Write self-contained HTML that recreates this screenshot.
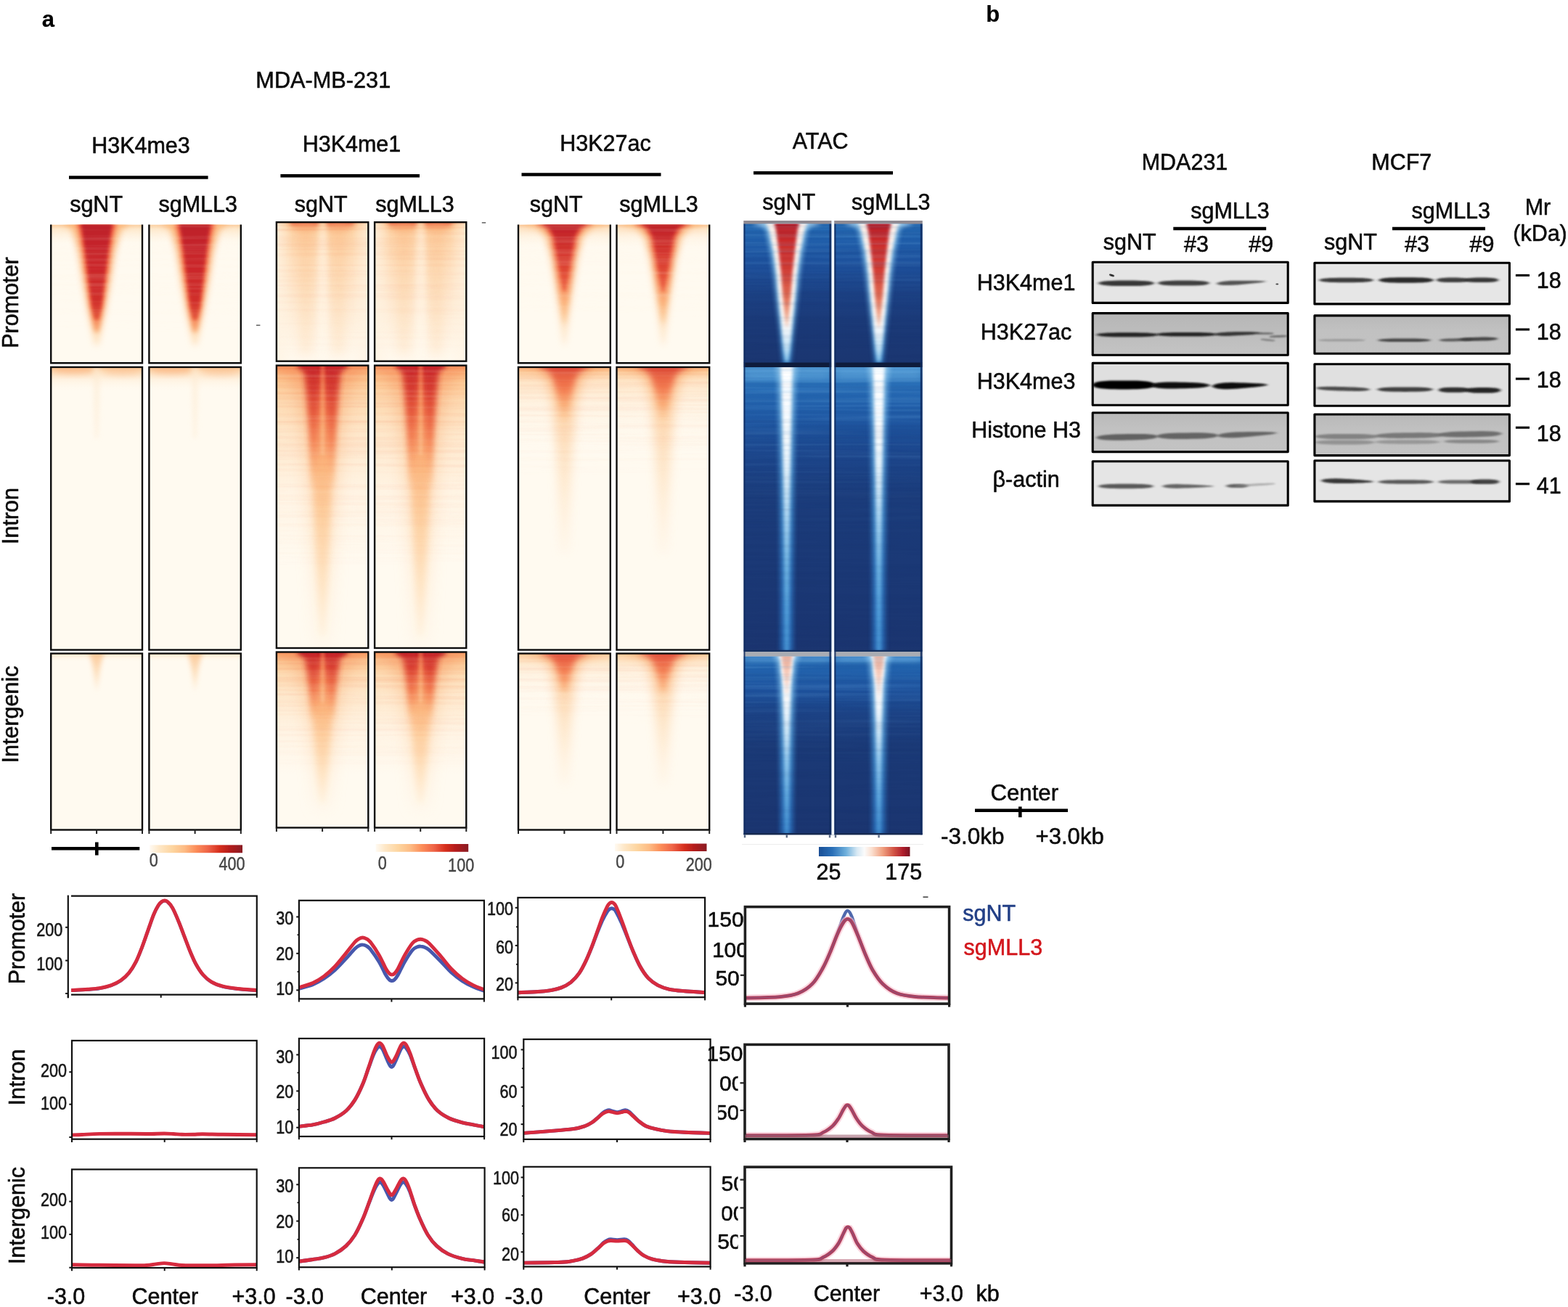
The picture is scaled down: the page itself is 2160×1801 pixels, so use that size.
<!DOCTYPE html>
<html lang="en"><head><meta charset="utf-8"><title>Figure</title>
<style>html,body{margin:0;padding:0;background:#fff}body{width:2160px;height:1801px;overflow:hidden;font-family:"Liberation Sans",sans-serif}svg{display:block;position:absolute;left:0;top:0}text{stroke:#0b0b0b;stroke-width:0.55px;stroke-linejoin:round}</style></head>
<body>
<svg width="2160" height="1801" viewBox="0 0 2160 1801" role="img" aria-label="Figure: heatmaps, average profiles and western blots" font-family="'Liberation Sans', sans-serif" fill="#0b0b0b" stroke="none"><defs><filter id="b1" x="-60%" y="-60%" width="220%" height="220%"><feGaussianBlur stdDeviation="1"/></filter><filter id="b2" x="-60%" y="-60%" width="220%" height="220%"><feGaussianBlur stdDeviation="2"/></filter><filter id="b3" x="-60%" y="-60%" width="220%" height="220%"><feGaussianBlur stdDeviation="3"/></filter><filter id="b4" x="-60%" y="-60%" width="220%" height="220%"><feGaussianBlur stdDeviation="4.5"/></filter><filter id="b6" x="-60%" y="-60%" width="220%" height="220%"><feGaussianBlur stdDeviation="7"/></filter><filter id="b10" x="-60%" y="-60%" width="220%" height="220%"><feGaussianBlur stdDeviation="11"/></filter><filter id="b16" x="-60%" y="-60%" width="220%" height="220%"><feGaussianBlur stdDeviation="16"/></filter><filter id="bh" x="-60%" y="-60%" width="220%" height="220%"><feGaussianBlur stdDeviation="7 2.5"/></filter><filter id="bv" x="-60%" y="-60%" width="220%" height="220%"><feGaussianBlur stdDeviation="3 9"/></filter><filter id="bv2" x="-60%" y="-60%" width="220%" height="220%"><feGaussianBlur stdDeviation="5 16"/></filter><filter id="bb" x="-10%" y="-80%" width="120%" height="260%"><feGaussianBlur stdDeviation="2.2 1.3"/></filter><filter id="bs" x="-10%" y="-80%" width="120%" height="260%"><feGaussianBlur stdDeviation="1.2 0.8"/></filter><filter id="soft" x="-5%" y="-5%" width="110%" height="110%"><feGaussianBlur stdDeviation="0.7"/></filter><filter id="soft2" x="-5%" y="-5%" width="110%" height="110%"><feGaussianBlur stdDeviation="1.1"/></filter><filter id="stO" x="0" y="0" width="100%" height="100%" color-interpolation-filters="sRGB"><feTurbulence type="fractalNoise" baseFrequency="0.003 0.2" numOctaves="2" seed="3"/><feColorMatrix type="matrix" values="0 0 0 0 0.93  0 0 0 0 0.38  0 0 0 0 0.22  2.2 0 0 0 -0.9"/></filter><filter id="stL" x="0" y="0" width="100%" height="100%" color-interpolation-filters="sRGB"><feTurbulence type="fractalNoise" baseFrequency="0.003 0.2" numOctaves="2" seed="8"/><feColorMatrix type="matrix" values="0 0 0 0 1.0  0 0 0 0 0.97  0 0 0 0 0.9  2.2 0 0 0 -0.9"/></filter><filter id="stB" x="0" y="0" width="100%" height="100%" color-interpolation-filters="sRGB"><feTurbulence type="fractalNoise" baseFrequency="0.003 0.18" numOctaves="2" seed="5"/><feColorMatrix type="matrix" values="0 0 0 0 0.55  0 0 0 0 0.8  0 0 0 0 0.97  2.4 0 0 0 -1.0"/></filter><filter id="stD" x="0" y="0" width="100%" height="100%" color-interpolation-filters="sRGB"><feTurbulence type="fractalNoise" baseFrequency="0.003 0.18" numOctaves="2" seed="12"/><feColorMatrix type="matrix" values="0 0 0 0 0.07  0 0 0 0 0.16  0 0 0 0 0.38  2.4 0 0 0 -1.0"/></filter><clipPath id="c1"><rect x="70.2" y="309.5" width="125.8" height="190.7"/></clipPath><linearGradient id="g2" gradientUnits="userSpaceOnUse" x1="0" y1="309.5" x2="0" y2="339.5"><stop offset="0" stop-color="#fbc48e" stop-opacity="0.9"/><stop offset="0.2" stop-color="#fddcb2" stop-opacity="0.6"/><stop offset="1" stop-color="#fffaf0" stop-opacity="0"/></linearGradient><linearGradient id="g3" gradientUnits="userSpaceOnUse" x1="0" y1="309.5" x2="0" y2="475.5"><stop offset="0" stop-color="#fbb273"/><stop offset="0.7" stop-color="#fdc994"/><stop offset="1" stop-color="#fee3c0"/></linearGradient><linearGradient id="g4" gradientUnits="userSpaceOnUse" x1="0" y1="309.5" x2="0" y2="457.5"><stop offset="0" stop-color="#ee583c"/><stop offset="0.75" stop-color="#f26a45"/><stop offset="1" stop-color="#f9a66e"/></linearGradient><linearGradient id="g5" gradientUnits="userSpaceOnUse" x1="0" y1="309.5" x2="0" y2="440.5"><stop offset="0" stop-color="#bd2029"/><stop offset="0.35" stop-color="#c9262a"/><stop offset="0.8" stop-color="#d02e2b"/><stop offset="1" stop-color="#e4573b"/></linearGradient><linearGradient id="g7" gradientUnits="userSpaceOnUse" x1="0" y1="309.5" x2="0" y2="459.5"><stop offset="0" stop-color="#fff" stop-opacity="0.5"/><stop offset="0.8" stop-color="#fff" stop-opacity="0.4"/><stop offset="1" stop-color="#fff" stop-opacity="0"/></linearGradient><mask id="m6" maskUnits="userSpaceOnUse" x="70.2" y="309.5" width="125.8" height="150"><rect x="70.2" y="309.5" width="125.8" height="150" fill="url(#g7)"/></mask><clipPath id="c8"><rect x="205.4" y="309.5" width="126.4" height="190.7"/></clipPath><linearGradient id="g9" gradientUnits="userSpaceOnUse" x1="0" y1="309.5" x2="0" y2="339.5"><stop offset="0" stop-color="#fbc48e" stop-opacity="0.9"/><stop offset="0.2" stop-color="#fddcb2" stop-opacity="0.6"/><stop offset="1" stop-color="#fffaf0" stop-opacity="0"/></linearGradient><linearGradient id="g10" gradientUnits="userSpaceOnUse" x1="0" y1="309.5" x2="0" y2="475.5"><stop offset="0" stop-color="#fbb273"/><stop offset="0.7" stop-color="#fdc994"/><stop offset="1" stop-color="#fee3c0"/></linearGradient><linearGradient id="g11" gradientUnits="userSpaceOnUse" x1="0" y1="309.5" x2="0" y2="457.5"><stop offset="0" stop-color="#ee583c"/><stop offset="0.75" stop-color="#f26a45"/><stop offset="1" stop-color="#f9a66e"/></linearGradient><linearGradient id="g12" gradientUnits="userSpaceOnUse" x1="0" y1="309.5" x2="0" y2="440.5"><stop offset="0" stop-color="#bd2029"/><stop offset="0.35" stop-color="#c9262a"/><stop offset="0.8" stop-color="#d02e2b"/><stop offset="1" stop-color="#e4573b"/></linearGradient><linearGradient id="g14" gradientUnits="userSpaceOnUse" x1="0" y1="309.5" x2="0" y2="459.5"><stop offset="0" stop-color="#fff" stop-opacity="0.5"/><stop offset="0.8" stop-color="#fff" stop-opacity="0.4"/><stop offset="1" stop-color="#fff" stop-opacity="0"/></linearGradient><mask id="m13" maskUnits="userSpaceOnUse" x="205.4" y="309.5" width="126.4" height="150"><rect x="205.4" y="309.5" width="126.4" height="150" fill="url(#g14)"/></mask><clipPath id="c15"><rect x="70.2" y="505.9" width="125.8" height="389.6"/></clipPath><linearGradient id="g16" gradientUnits="userSpaceOnUse" x1="0" y1="505.9" x2="0" y2="539.9"><stop offset="0" stop-color="#fbc28c" stop-opacity="0.95"/><stop offset="0.2" stop-color="#fdd9b0" stop-opacity="0.8"/><stop offset="0.5" stop-color="#feead0" stop-opacity="0.5"/><stop offset="1" stop-color="#fffaf0" stop-opacity="0"/></linearGradient><clipPath id="c17"><rect x="205.4" y="505.9" width="126.4" height="389.6"/></clipPath><linearGradient id="g18" gradientUnits="userSpaceOnUse" x1="0" y1="505.9" x2="0" y2="539.9"><stop offset="0" stop-color="#fbc28c" stop-opacity="0.95"/><stop offset="0.2" stop-color="#fdd9b0" stop-opacity="0.8"/><stop offset="0.5" stop-color="#feead0" stop-opacity="0.5"/><stop offset="1" stop-color="#fffaf0" stop-opacity="0"/></linearGradient><clipPath id="c19"><rect x="70.2" y="900.5" width="125.8" height="243"/></clipPath><linearGradient id="g20" gradientUnits="userSpaceOnUse" x1="0" y1="900.5" x2="0" y2="912.5"><stop offset="0" stop-color="#fde0bc" stop-opacity="0.8"/><stop offset="1" stop-color="#fffaf0" stop-opacity="0"/></linearGradient><linearGradient id="g21" gradientUnits="userSpaceOnUse" x1="0" y1="900.5" x2="0" y2="950.5"><stop offset="0" stop-color="#fbc08a"/><stop offset="0.5" stop-color="#fdd9b0"/><stop offset="1" stop-color="#ffefda"/></linearGradient><clipPath id="c22"><rect x="205.4" y="900.5" width="126.4" height="243"/></clipPath><linearGradient id="g23" gradientUnits="userSpaceOnUse" x1="0" y1="900.5" x2="0" y2="912.5"><stop offset="0" stop-color="#fde0bc" stop-opacity="0.8"/><stop offset="1" stop-color="#fffaf0" stop-opacity="0"/></linearGradient><linearGradient id="g24" gradientUnits="userSpaceOnUse" x1="0" y1="900.5" x2="0" y2="950.5"><stop offset="0" stop-color="#fbc08a"/><stop offset="0.5" stop-color="#fdd9b0"/><stop offset="1" stop-color="#ffefda"/></linearGradient><clipPath id="c25"><rect x="380.9" y="306.2" width="126.4" height="191.5"/></clipPath><linearGradient id="g26" gradientUnits="userSpaceOnUse" x1="0" y1="306.2" x2="0" y2="497.7"><stop offset="0" stop-color="#f9a66e"/><stop offset="0.025" stop-color="#fcc690"/><stop offset="0.08" stop-color="#fdd8ae"/><stop offset="0.3" stop-color="#fee2c2"/><stop offset="0.6" stop-color="#feecd6"/><stop offset="1" stop-color="#fff9ee"/></linearGradient><linearGradient id="g27" gradientUnits="userSpaceOnUse" x1="380.9" y1="0" x2="402.9" y2="0"><stop offset="0" stop-color="#fff4e4" stop-opacity="0.8"/><stop offset="1" stop-color="#fff4e4" stop-opacity="0"/></linearGradient><linearGradient id="g28" gradientUnits="userSpaceOnUse" x1="485.3" y1="0" x2="507.3" y2="0"><stop offset="0" stop-color="#fff4e4" stop-opacity="0"/><stop offset="1" stop-color="#fff4e4" stop-opacity="0.7"/></linearGradient><linearGradient id="g29" gradientUnits="userSpaceOnUse" x1="0" y1="318.2" x2="0" y2="488.2"><stop offset="0" stop-color="#fbb57b"/><stop offset="0.4" stop-color="#fcc995"/><stop offset="1" stop-color="#fee0bc"/></linearGradient><linearGradient id="g30" gradientUnits="userSpaceOnUse" x1="0" y1="318.2" x2="0" y2="488.2"><stop offset="0" stop-color="#fbb57b"/><stop offset="0.4" stop-color="#fcc995"/><stop offset="1" stop-color="#fee0bc"/></linearGradient><linearGradient id="g31" gradientUnits="userSpaceOnUse" x1="0" y1="306.2" x2="0" y2="497.7"><stop offset="0" stop-color="#fdd5a8"/><stop offset="0.1" stop-color="#fee9cf"/><stop offset="1" stop-color="#fff9ee"/></linearGradient><linearGradient id="g33" gradientUnits="userSpaceOnUse" x1="0" y1="306.2" x2="0" y2="497.7"><stop offset="0" stop-color="#fff" stop-opacity="0.5"/><stop offset="0.3" stop-color="#fff" stop-opacity="0.25"/><stop offset="1" stop-color="#fff" stop-opacity="0"/></linearGradient><mask id="m32" maskUnits="userSpaceOnUse" x="380.9" y="306.2" width="126.4" height="191.5"><rect x="380.9" y="306.2" width="126.4" height="191.5" fill="url(#g33)"/></mask><linearGradient id="g35" gradientUnits="userSpaceOnUse" x1="0" y1="306.2" x2="0" y2="497.7"><stop offset="0" stop-color="#fff" stop-opacity="0.3"/><stop offset="0.5" stop-color="#fff" stop-opacity="0.3"/><stop offset="1" stop-color="#fff" stop-opacity="0"/></linearGradient><mask id="m34" maskUnits="userSpaceOnUse" x="380.9" y="306.2" width="126.4" height="191.5"><rect x="380.9" y="306.2" width="126.4" height="191.5" fill="url(#g35)"/></mask><clipPath id="c36"><rect x="516.1" y="306.2" width="126.2" height="191.5"/></clipPath><linearGradient id="g37" gradientUnits="userSpaceOnUse" x1="0" y1="306.2" x2="0" y2="497.7"><stop offset="0" stop-color="#f9a66e"/><stop offset="0.025" stop-color="#fcc690"/><stop offset="0.08" stop-color="#fdd8ae"/><stop offset="0.3" stop-color="#fee2c2"/><stop offset="0.6" stop-color="#feecd6"/><stop offset="1" stop-color="#fff9ee"/></linearGradient><linearGradient id="g38" gradientUnits="userSpaceOnUse" x1="516.1" y1="0" x2="538.1" y2="0"><stop offset="0" stop-color="#fff4e4" stop-opacity="0.8"/><stop offset="1" stop-color="#fff4e4" stop-opacity="0"/></linearGradient><linearGradient id="g39" gradientUnits="userSpaceOnUse" x1="620.3" y1="0" x2="642.3" y2="0"><stop offset="0" stop-color="#fff4e4" stop-opacity="0"/><stop offset="1" stop-color="#fff4e4" stop-opacity="0.7"/></linearGradient><linearGradient id="g40" gradientUnits="userSpaceOnUse" x1="0" y1="318.2" x2="0" y2="488.2"><stop offset="0" stop-color="#fbb57b"/><stop offset="0.4" stop-color="#fcc995"/><stop offset="1" stop-color="#fee0bc"/></linearGradient><linearGradient id="g41" gradientUnits="userSpaceOnUse" x1="0" y1="318.2" x2="0" y2="488.2"><stop offset="0" stop-color="#fbb57b"/><stop offset="0.4" stop-color="#fcc995"/><stop offset="1" stop-color="#fee0bc"/></linearGradient><linearGradient id="g42" gradientUnits="userSpaceOnUse" x1="0" y1="306.2" x2="0" y2="497.7"><stop offset="0" stop-color="#fdd5a8"/><stop offset="0.1" stop-color="#fee9cf"/><stop offset="1" stop-color="#fff9ee"/></linearGradient><linearGradient id="g44" gradientUnits="userSpaceOnUse" x1="0" y1="306.2" x2="0" y2="497.7"><stop offset="0" stop-color="#fff" stop-opacity="0.5"/><stop offset="0.3" stop-color="#fff" stop-opacity="0.25"/><stop offset="1" stop-color="#fff" stop-opacity="0"/></linearGradient><mask id="m43" maskUnits="userSpaceOnUse" x="516.1" y="306.2" width="126.2" height="191.5"><rect x="516.1" y="306.2" width="126.2" height="191.5" fill="url(#g44)"/></mask><linearGradient id="g46" gradientUnits="userSpaceOnUse" x1="0" y1="306.2" x2="0" y2="497.7"><stop offset="0" stop-color="#fff" stop-opacity="0.3"/><stop offset="0.5" stop-color="#fff" stop-opacity="0.3"/><stop offset="1" stop-color="#fff" stop-opacity="0"/></linearGradient><mask id="m45" maskUnits="userSpaceOnUse" x="516.1" y="306.2" width="126.2" height="191.5"><rect x="516.1" y="306.2" width="126.2" height="191.5" fill="url(#g46)"/></mask><clipPath id="c47"><rect x="380.9" y="503.6" width="126.4" height="389.4"/></clipPath><linearGradient id="g48" gradientUnits="userSpaceOnUse" x1="0" y1="503.6" x2="0" y2="893"><stop offset="0" stop-color="#f68d5c"/><stop offset="0.015" stop-color="#faa96f"/><stop offset="0.05" stop-color="#fcc690"/><stop offset="0.13" stop-color="#fddab2"/><stop offset="0.25" stop-color="#fee8cc"/><stop offset="0.45" stop-color="#fff4e4"/><stop offset="0.7" stop-color="#fffaf0"/></linearGradient><linearGradient id="g49" gradientUnits="userSpaceOnUse" x1="0" y1="503.6" x2="0" y2="888.6"><stop offset="0" stop-color="#f47d51"/><stop offset="0.1" stop-color="#f89b63"/><stop offset="0.3" stop-color="#fbb980"/><stop offset="0.6" stop-color="#fdd5a8"/><stop offset="1" stop-color="#fff1dc"/></linearGradient><linearGradient id="g50" gradientUnits="userSpaceOnUse" x1="0" y1="503.6" x2="0" y2="875.6"><stop offset="0" stop-color="#d5362d"/><stop offset="0.05" stop-color="#e35238"/><stop offset="0.12" stop-color="#f06a46"/><stop offset="0.22" stop-color="#f68d5c"/><stop offset="0.36" stop-color="#fbb178"/><stop offset="0.55" stop-color="#fdcc9a"/><stop offset="0.78" stop-color="#fee0bc"/><stop offset="1" stop-color="#fff1dc"/></linearGradient><linearGradient id="g51" gradientUnits="userSpaceOnUse" x1="0" y1="503.6" x2="0" y2="668.6"><stop offset="0" stop-color="#c4232a"/><stop offset="0.2" stop-color="#d2332d"/><stop offset="0.42" stop-color="#e35238"/><stop offset="0.65" stop-color="#f27248"/><stop offset="0.85" stop-color="#f89b63"/><stop offset="1" stop-color="#fbb57b"/></linearGradient><linearGradient id="g52" gradientUnits="userSpaceOnUse" x1="0" y1="503.6" x2="0" y2="668.6"><stop offset="0" stop-color="#c4232a"/><stop offset="0.2" stop-color="#d2332d"/><stop offset="0.42" stop-color="#e35238"/><stop offset="0.65" stop-color="#f27248"/><stop offset="0.85" stop-color="#f89b63"/><stop offset="1" stop-color="#fbb57b"/></linearGradient><linearGradient id="g53" gradientUnits="userSpaceOnUse" x1="0" y1="503.6" x2="0" y2="623.6"><stop offset="0" stop-color="#f0694a"/><stop offset="0.3" stop-color="#f79661"/><stop offset="0.7" stop-color="#fbb980"/><stop offset="1" stop-color="#fdd0a0"/></linearGradient><linearGradient id="g55" gradientUnits="userSpaceOnUse" x1="0" y1="503.6" x2="0" y2="803.6"><stop offset="0" stop-color="#fff" stop-opacity="0.55"/><stop offset="0.4" stop-color="#fff" stop-opacity="0.35"/><stop offset="1" stop-color="#fff" stop-opacity="0"/></linearGradient><mask id="m54" maskUnits="userSpaceOnUse" x="380.9" y="503.6" width="126.4" height="300"><rect x="380.9" y="503.6" width="126.4" height="300" fill="url(#g55)"/></mask><linearGradient id="g57" gradientUnits="userSpaceOnUse" x1="0" y1="503.6" x2="0" y2="803.6"><stop offset="0" stop-color="#fff" stop-opacity="0.4"/><stop offset="0.6" stop-color="#fff" stop-opacity="0.3"/><stop offset="1" stop-color="#fff" stop-opacity="0"/></linearGradient><mask id="m56" maskUnits="userSpaceOnUse" x="380.9" y="503.6" width="126.4" height="300"><rect x="380.9" y="503.6" width="126.4" height="300" fill="url(#g57)"/></mask><clipPath id="c58"><rect x="516.1" y="503.6" width="126.2" height="389.4"/></clipPath><linearGradient id="g59" gradientUnits="userSpaceOnUse" x1="0" y1="503.6" x2="0" y2="893"><stop offset="0" stop-color="#f68d5c"/><stop offset="0.015" stop-color="#faa96f"/><stop offset="0.05" stop-color="#fcc690"/><stop offset="0.13" stop-color="#fddab2"/><stop offset="0.25" stop-color="#fee8cc"/><stop offset="0.45" stop-color="#fff4e4"/><stop offset="0.7" stop-color="#fffaf0"/></linearGradient><linearGradient id="g60" gradientUnits="userSpaceOnUse" x1="0" y1="503.6" x2="0" y2="888.6"><stop offset="0" stop-color="#f47d51"/><stop offset="0.1" stop-color="#f89b63"/><stop offset="0.3" stop-color="#fbb980"/><stop offset="0.6" stop-color="#fdd5a8"/><stop offset="1" stop-color="#fff1dc"/></linearGradient><linearGradient id="g61" gradientUnits="userSpaceOnUse" x1="0" y1="503.6" x2="0" y2="875.6"><stop offset="0" stop-color="#d5362d"/><stop offset="0.05" stop-color="#e35238"/><stop offset="0.12" stop-color="#f06a46"/><stop offset="0.22" stop-color="#f68d5c"/><stop offset="0.36" stop-color="#fbb178"/><stop offset="0.55" stop-color="#fdcc9a"/><stop offset="0.78" stop-color="#fee0bc"/><stop offset="1" stop-color="#fff1dc"/></linearGradient><linearGradient id="g62" gradientUnits="userSpaceOnUse" x1="0" y1="503.6" x2="0" y2="668.6"><stop offset="0" stop-color="#c4232a"/><stop offset="0.2" stop-color="#d2332d"/><stop offset="0.42" stop-color="#e35238"/><stop offset="0.65" stop-color="#f27248"/><stop offset="0.85" stop-color="#f89b63"/><stop offset="1" stop-color="#fbb57b"/></linearGradient><linearGradient id="g63" gradientUnits="userSpaceOnUse" x1="0" y1="503.6" x2="0" y2="668.6"><stop offset="0" stop-color="#c4232a"/><stop offset="0.2" stop-color="#d2332d"/><stop offset="0.42" stop-color="#e35238"/><stop offset="0.65" stop-color="#f27248"/><stop offset="0.85" stop-color="#f89b63"/><stop offset="1" stop-color="#fbb57b"/></linearGradient><linearGradient id="g64" gradientUnits="userSpaceOnUse" x1="0" y1="503.6" x2="0" y2="623.6"><stop offset="0" stop-color="#f0694a"/><stop offset="0.3" stop-color="#f79661"/><stop offset="0.7" stop-color="#fbb980"/><stop offset="1" stop-color="#fdd0a0"/></linearGradient><linearGradient id="g66" gradientUnits="userSpaceOnUse" x1="0" y1="503.6" x2="0" y2="803.6"><stop offset="0" stop-color="#fff" stop-opacity="0.55"/><stop offset="0.4" stop-color="#fff" stop-opacity="0.35"/><stop offset="1" stop-color="#fff" stop-opacity="0"/></linearGradient><mask id="m65" maskUnits="userSpaceOnUse" x="516.1" y="503.6" width="126.2" height="300"><rect x="516.1" y="503.6" width="126.2" height="300" fill="url(#g66)"/></mask><linearGradient id="g68" gradientUnits="userSpaceOnUse" x1="0" y1="503.6" x2="0" y2="803.6"><stop offset="0" stop-color="#fff" stop-opacity="0.4"/><stop offset="0.6" stop-color="#fff" stop-opacity="0.3"/><stop offset="1" stop-color="#fff" stop-opacity="0"/></linearGradient><mask id="m67" maskUnits="userSpaceOnUse" x="516.1" y="503.6" width="126.2" height="300"><rect x="516.1" y="503.6" width="126.2" height="300" fill="url(#g68)"/></mask><clipPath id="c69"><rect x="380.9" y="898.5" width="126.4" height="242"/></clipPath><linearGradient id="g70" gradientUnits="userSpaceOnUse" x1="0" y1="898.5" x2="0" y2="1140.5"><stop offset="0" stop-color="#f68d5c"/><stop offset="0.015" stop-color="#faa96f"/><stop offset="0.05" stop-color="#fcc690"/><stop offset="0.13" stop-color="#fddab2"/><stop offset="0.25" stop-color="#fee8cc"/><stop offset="0.45" stop-color="#fff4e4"/><stop offset="0.7" stop-color="#fffaf0"/></linearGradient><linearGradient id="g71" gradientUnits="userSpaceOnUse" x1="0" y1="898.5" x2="0" y2="1114.1"><stop offset="0" stop-color="#f47d51"/><stop offset="0.1" stop-color="#f89b63"/><stop offset="0.3" stop-color="#fbb980"/><stop offset="0.6" stop-color="#fdd5a8"/><stop offset="1" stop-color="#fff1dc"/></linearGradient><linearGradient id="g72" gradientUnits="userSpaceOnUse" x1="0" y1="898.5" x2="0" y2="1106.8"><stop offset="0" stop-color="#d5362d"/><stop offset="0.05" stop-color="#e35238"/><stop offset="0.12" stop-color="#f06a46"/><stop offset="0.22" stop-color="#f68d5c"/><stop offset="0.36" stop-color="#fbb178"/><stop offset="0.55" stop-color="#fdcc9a"/><stop offset="0.78" stop-color="#fee0bc"/><stop offset="1" stop-color="#fff1dc"/></linearGradient><linearGradient id="g73" gradientUnits="userSpaceOnUse" x1="0" y1="898.5" x2="0" y2="990.9"><stop offset="0" stop-color="#c4232a"/><stop offset="0.2" stop-color="#d2332d"/><stop offset="0.42" stop-color="#e35238"/><stop offset="0.65" stop-color="#f27248"/><stop offset="0.85" stop-color="#f89b63"/><stop offset="1" stop-color="#fbb57b"/></linearGradient><linearGradient id="g74" gradientUnits="userSpaceOnUse" x1="0" y1="898.5" x2="0" y2="990.9"><stop offset="0" stop-color="#c4232a"/><stop offset="0.2" stop-color="#d2332d"/><stop offset="0.42" stop-color="#e35238"/><stop offset="0.65" stop-color="#f27248"/><stop offset="0.85" stop-color="#f89b63"/><stop offset="1" stop-color="#fbb57b"/></linearGradient><linearGradient id="g75" gradientUnits="userSpaceOnUse" x1="0" y1="898.5" x2="0" y2="965.7"><stop offset="0" stop-color="#f0694a"/><stop offset="0.3" stop-color="#f79661"/><stop offset="0.7" stop-color="#fbb980"/><stop offset="1" stop-color="#fdd0a0"/></linearGradient><linearGradient id="g77" gradientUnits="userSpaceOnUse" x1="0" y1="898.5" x2="0" y2="1066.5"><stop offset="0" stop-color="#fff" stop-opacity="0.55"/><stop offset="0.4" stop-color="#fff" stop-opacity="0.35"/><stop offset="1" stop-color="#fff" stop-opacity="0"/></linearGradient><mask id="m76" maskUnits="userSpaceOnUse" x="380.9" y="898.5" width="126.4" height="168"><rect x="380.9" y="898.5" width="126.4" height="168" fill="url(#g77)"/></mask><linearGradient id="g79" gradientUnits="userSpaceOnUse" x1="0" y1="898.5" x2="0" y2="1066.5"><stop offset="0" stop-color="#fff" stop-opacity="0.4"/><stop offset="0.6" stop-color="#fff" stop-opacity="0.3"/><stop offset="1" stop-color="#fff" stop-opacity="0"/></linearGradient><mask id="m78" maskUnits="userSpaceOnUse" x="380.9" y="898.5" width="126.4" height="168"><rect x="380.9" y="898.5" width="126.4" height="168" fill="url(#g79)"/></mask><clipPath id="c80"><rect x="516.1" y="898.5" width="126.2" height="242"/></clipPath><linearGradient id="g81" gradientUnits="userSpaceOnUse" x1="0" y1="898.5" x2="0" y2="1140.5"><stop offset="0" stop-color="#f68d5c"/><stop offset="0.015" stop-color="#faa96f"/><stop offset="0.05" stop-color="#fcc690"/><stop offset="0.13" stop-color="#fddab2"/><stop offset="0.25" stop-color="#fee8cc"/><stop offset="0.45" stop-color="#fff4e4"/><stop offset="0.7" stop-color="#fffaf0"/></linearGradient><linearGradient id="g82" gradientUnits="userSpaceOnUse" x1="0" y1="898.5" x2="0" y2="1114.1"><stop offset="0" stop-color="#f47d51"/><stop offset="0.1" stop-color="#f89b63"/><stop offset="0.3" stop-color="#fbb980"/><stop offset="0.6" stop-color="#fdd5a8"/><stop offset="1" stop-color="#fff1dc"/></linearGradient><linearGradient id="g83" gradientUnits="userSpaceOnUse" x1="0" y1="898.5" x2="0" y2="1106.8"><stop offset="0" stop-color="#d5362d"/><stop offset="0.05" stop-color="#e35238"/><stop offset="0.12" stop-color="#f06a46"/><stop offset="0.22" stop-color="#f68d5c"/><stop offset="0.36" stop-color="#fbb178"/><stop offset="0.55" stop-color="#fdcc9a"/><stop offset="0.78" stop-color="#fee0bc"/><stop offset="1" stop-color="#fff1dc"/></linearGradient><linearGradient id="g84" gradientUnits="userSpaceOnUse" x1="0" y1="898.5" x2="0" y2="990.9"><stop offset="0" stop-color="#c4232a"/><stop offset="0.2" stop-color="#d2332d"/><stop offset="0.42" stop-color="#e35238"/><stop offset="0.65" stop-color="#f27248"/><stop offset="0.85" stop-color="#f89b63"/><stop offset="1" stop-color="#fbb57b"/></linearGradient><linearGradient id="g85" gradientUnits="userSpaceOnUse" x1="0" y1="898.5" x2="0" y2="990.9"><stop offset="0" stop-color="#c4232a"/><stop offset="0.2" stop-color="#d2332d"/><stop offset="0.42" stop-color="#e35238"/><stop offset="0.65" stop-color="#f27248"/><stop offset="0.85" stop-color="#f89b63"/><stop offset="1" stop-color="#fbb57b"/></linearGradient><linearGradient id="g86" gradientUnits="userSpaceOnUse" x1="0" y1="898.5" x2="0" y2="965.7"><stop offset="0" stop-color="#f0694a"/><stop offset="0.3" stop-color="#f79661"/><stop offset="0.7" stop-color="#fbb980"/><stop offset="1" stop-color="#fdd0a0"/></linearGradient><linearGradient id="g88" gradientUnits="userSpaceOnUse" x1="0" y1="898.5" x2="0" y2="1066.5"><stop offset="0" stop-color="#fff" stop-opacity="0.55"/><stop offset="0.4" stop-color="#fff" stop-opacity="0.35"/><stop offset="1" stop-color="#fff" stop-opacity="0"/></linearGradient><mask id="m87" maskUnits="userSpaceOnUse" x="516.1" y="898.5" width="126.2" height="168"><rect x="516.1" y="898.5" width="126.2" height="168" fill="url(#g88)"/></mask><linearGradient id="g90" gradientUnits="userSpaceOnUse" x1="0" y1="898.5" x2="0" y2="1066.5"><stop offset="0" stop-color="#fff" stop-opacity="0.4"/><stop offset="0.6" stop-color="#fff" stop-opacity="0.3"/><stop offset="1" stop-color="#fff" stop-opacity="0"/></linearGradient><mask id="m89" maskUnits="userSpaceOnUse" x="516.1" y="898.5" width="126.2" height="168"><rect x="516.1" y="898.5" width="126.2" height="168" fill="url(#g90)"/></mask><clipPath id="c91"><rect x="714" y="309.5" width="126.8" height="190.7"/></clipPath><linearGradient id="g92" gradientUnits="userSpaceOnUse" x1="0" y1="309.5" x2="0" y2="343.5"><stop offset="0" stop-color="#fbbd85" stop-opacity="0.95"/><stop offset="0.15" stop-color="#fdd9b0" stop-opacity="0.75"/><stop offset="0.5" stop-color="#feecd4" stop-opacity="0.45"/><stop offset="1" stop-color="#fffaf0" stop-opacity="0"/></linearGradient><linearGradient id="g93" gradientUnits="userSpaceOnUse" x1="0" y1="309.5" x2="0" y2="474.5"><stop offset="0" stop-color="#fbb273"/><stop offset="0.5" stop-color="#fccc9a"/><stop offset="1" stop-color="#feead0"/></linearGradient><linearGradient id="g94" gradientUnits="userSpaceOnUse" x1="0" y1="309.5" x2="0" y2="445.5"><stop offset="0" stop-color="#e24a36"/><stop offset="0.25" stop-color="#ec6043"/><stop offset="0.55" stop-color="#f58358"/><stop offset="0.8" stop-color="#fbb178"/><stop offset="1" stop-color="#fdd3a5"/></linearGradient><linearGradient id="g95" gradientUnits="userSpaceOnUse" x1="0" y1="309.5" x2="0" y2="401.5"><stop offset="0" stop-color="#bb1f28"/><stop offset="0.25" stop-color="#cb2a2b"/><stop offset="0.65" stop-color="#dc4232"/><stop offset="1" stop-color="#ee6545"/></linearGradient><linearGradient id="g97" gradientUnits="userSpaceOnUse" x1="0" y1="309.5" x2="0" y2="439.5"><stop offset="0" stop-color="#fff" stop-opacity="0.5"/><stop offset="0.8" stop-color="#fff" stop-opacity="0.4"/><stop offset="1" stop-color="#fff" stop-opacity="0"/></linearGradient><mask id="m96" maskUnits="userSpaceOnUse" x="714" y="309.5" width="126.8" height="130"><rect x="714" y="309.5" width="126.8" height="130" fill="url(#g97)"/></mask><clipPath id="c98"><rect x="849.5" y="309.5" width="127.7" height="190.7"/></clipPath><linearGradient id="g99" gradientUnits="userSpaceOnUse" x1="0" y1="309.5" x2="0" y2="343.5"><stop offset="0" stop-color="#fbbd85" stop-opacity="0.95"/><stop offset="0.15" stop-color="#fdd9b0" stop-opacity="0.75"/><stop offset="0.5" stop-color="#feecd4" stop-opacity="0.45"/><stop offset="1" stop-color="#fffaf0" stop-opacity="0"/></linearGradient><linearGradient id="g100" gradientUnits="userSpaceOnUse" x1="0" y1="309.5" x2="0" y2="474.5"><stop offset="0" stop-color="#fbb273"/><stop offset="0.5" stop-color="#fccc9a"/><stop offset="1" stop-color="#feead0"/></linearGradient><linearGradient id="g101" gradientUnits="userSpaceOnUse" x1="0" y1="309.5" x2="0" y2="445.5"><stop offset="0" stop-color="#e24a36"/><stop offset="0.25" stop-color="#ec6043"/><stop offset="0.55" stop-color="#f58358"/><stop offset="0.8" stop-color="#fbb178"/><stop offset="1" stop-color="#fdd3a5"/></linearGradient><linearGradient id="g102" gradientUnits="userSpaceOnUse" x1="0" y1="309.5" x2="0" y2="401.5"><stop offset="0" stop-color="#bb1f28"/><stop offset="0.25" stop-color="#cb2a2b"/><stop offset="0.65" stop-color="#dc4232"/><stop offset="1" stop-color="#ee6545"/></linearGradient><linearGradient id="g104" gradientUnits="userSpaceOnUse" x1="0" y1="309.5" x2="0" y2="439.5"><stop offset="0" stop-color="#fff" stop-opacity="0.5"/><stop offset="0.8" stop-color="#fff" stop-opacity="0.4"/><stop offset="1" stop-color="#fff" stop-opacity="0"/></linearGradient><mask id="m103" maskUnits="userSpaceOnUse" x="849.5" y="309.5" width="127.7" height="130"><rect x="849.5" y="309.5" width="127.7" height="130" fill="url(#g104)"/></mask><clipPath id="c105"><rect x="714" y="505.9" width="126.8" height="389.6"/></clipPath><linearGradient id="g106" gradientUnits="userSpaceOnUse" x1="0" y1="505.9" x2="0" y2="625.9"><stop offset="0" stop-color="#f9a66e"/><stop offset="0.04" stop-color="#fcc690" stop-opacity="0.95"/><stop offset="0.16" stop-color="#fee0bc" stop-opacity="0.8"/><stop offset="0.45" stop-color="#feeed8" stop-opacity="0.55"/><stop offset="1" stop-color="#fffaf0" stop-opacity="0"/></linearGradient><linearGradient id="g107" gradientUnits="userSpaceOnUse" x1="0" y1="505.9" x2="0" y2="760.9"><stop offset="0" stop-color="#f9a66e"/><stop offset="0.15" stop-color="#fcc28c"/><stop offset="0.5" stop-color="#fddcb6"/><stop offset="1" stop-color="#fff2e0"/></linearGradient><linearGradient id="g108" gradientUnits="userSpaceOnUse" x1="0" y1="505.9" x2="0" y2="577.9"><stop offset="0" stop-color="#d2302c"/><stop offset="0.12" stop-color="#e4553b"/><stop offset="0.4" stop-color="#f27248"/><stop offset="0.7" stop-color="#f9a66e"/><stop offset="1" stop-color="#fdcf9f"/></linearGradient><linearGradient id="g110" gradientUnits="userSpaceOnUse" x1="0" y1="505.9" x2="0" y2="665.9"><stop offset="0" stop-color="#fff" stop-opacity="0.5"/><stop offset="0.4" stop-color="#fff" stop-opacity="0.3"/><stop offset="1" stop-color="#fff" stop-opacity="0"/></linearGradient><mask id="m109" maskUnits="userSpaceOnUse" x="714" y="505.9" width="126.8" height="160"><rect x="714" y="505.9" width="126.8" height="160" fill="url(#g110)"/></mask><linearGradient id="g112" gradientUnits="userSpaceOnUse" x1="0" y1="505.9" x2="0" y2="665.9"><stop offset="0" stop-color="#fff" stop-opacity="0.4"/><stop offset="0.6" stop-color="#fff" stop-opacity="0.3"/><stop offset="1" stop-color="#fff" stop-opacity="0"/></linearGradient><mask id="m111" maskUnits="userSpaceOnUse" x="714" y="505.9" width="126.8" height="160"><rect x="714" y="505.9" width="126.8" height="160" fill="url(#g112)"/></mask><clipPath id="c113"><rect x="849.5" y="505.9" width="127.7" height="389.6"/></clipPath><linearGradient id="g114" gradientUnits="userSpaceOnUse" x1="0" y1="505.9" x2="0" y2="625.9"><stop offset="0" stop-color="#f9a66e"/><stop offset="0.04" stop-color="#fcc690" stop-opacity="0.95"/><stop offset="0.16" stop-color="#fee0bc" stop-opacity="0.8"/><stop offset="0.45" stop-color="#feeed8" stop-opacity="0.55"/><stop offset="1" stop-color="#fffaf0" stop-opacity="0"/></linearGradient><linearGradient id="g115" gradientUnits="userSpaceOnUse" x1="0" y1="505.9" x2="0" y2="760.9"><stop offset="0" stop-color="#f9a66e"/><stop offset="0.15" stop-color="#fcc28c"/><stop offset="0.5" stop-color="#fddcb6"/><stop offset="1" stop-color="#fff2e0"/></linearGradient><linearGradient id="g116" gradientUnits="userSpaceOnUse" x1="0" y1="505.9" x2="0" y2="577.9"><stop offset="0" stop-color="#d2302c"/><stop offset="0.12" stop-color="#e4553b"/><stop offset="0.4" stop-color="#f27248"/><stop offset="0.7" stop-color="#f9a66e"/><stop offset="1" stop-color="#fdcf9f"/></linearGradient><linearGradient id="g118" gradientUnits="userSpaceOnUse" x1="0" y1="505.9" x2="0" y2="665.9"><stop offset="0" stop-color="#fff" stop-opacity="0.5"/><stop offset="0.4" stop-color="#fff" stop-opacity="0.3"/><stop offset="1" stop-color="#fff" stop-opacity="0"/></linearGradient><mask id="m117" maskUnits="userSpaceOnUse" x="849.5" y="505.9" width="127.7" height="160"><rect x="849.5" y="505.9" width="127.7" height="160" fill="url(#g118)"/></mask><linearGradient id="g120" gradientUnits="userSpaceOnUse" x1="0" y1="505.9" x2="0" y2="665.9"><stop offset="0" stop-color="#fff" stop-opacity="0.4"/><stop offset="0.6" stop-color="#fff" stop-opacity="0.3"/><stop offset="1" stop-color="#fff" stop-opacity="0"/></linearGradient><mask id="m119" maskUnits="userSpaceOnUse" x="849.5" y="505.9" width="127.7" height="160"><rect x="849.5" y="505.9" width="127.7" height="160" fill="url(#g120)"/></mask><clipPath id="c121"><rect x="714" y="900.5" width="126.8" height="243"/></clipPath><linearGradient id="g122" gradientUnits="userSpaceOnUse" x1="0" y1="900.5" x2="0" y2="970.5"><stop offset="0" stop-color="#fbb980"/><stop offset="0.06" stop-color="#fdd5a8" stop-opacity="0.9"/><stop offset="0.28" stop-color="#feeacf" stop-opacity="0.65"/><stop offset="1" stop-color="#fffaf0" stop-opacity="0"/></linearGradient><linearGradient id="g123" gradientUnits="userSpaceOnUse" x1="0" y1="900.5" x2="0" y2="1080.5"><stop offset="0" stop-color="#f9a66e"/><stop offset="0.15" stop-color="#fcc28c"/><stop offset="0.5" stop-color="#fddcb6"/><stop offset="1" stop-color="#fff2e0"/></linearGradient><linearGradient id="g124" gradientUnits="userSpaceOnUse" x1="0" y1="900.5" x2="0" y2="952.5"><stop offset="0" stop-color="#d93a2f"/><stop offset="0.18" stop-color="#e85c3f"/><stop offset="0.5" stop-color="#f47d51"/><stop offset="1" stop-color="#fbb980"/></linearGradient><linearGradient id="g126" gradientUnits="userSpaceOnUse" x1="0" y1="900.5" x2="0" y2="1000.5"><stop offset="0" stop-color="#fff" stop-opacity="0.5"/><stop offset="0.4" stop-color="#fff" stop-opacity="0.3"/><stop offset="1" stop-color="#fff" stop-opacity="0"/></linearGradient><mask id="m125" maskUnits="userSpaceOnUse" x="714" y="900.5" width="126.8" height="100"><rect x="714" y="900.5" width="126.8" height="100" fill="url(#g126)"/></mask><linearGradient id="g128" gradientUnits="userSpaceOnUse" x1="0" y1="900.5" x2="0" y2="1000.5"><stop offset="0" stop-color="#fff" stop-opacity="0.4"/><stop offset="0.6" stop-color="#fff" stop-opacity="0.3"/><stop offset="1" stop-color="#fff" stop-opacity="0"/></linearGradient><mask id="m127" maskUnits="userSpaceOnUse" x="714" y="900.5" width="126.8" height="100"><rect x="714" y="900.5" width="126.8" height="100" fill="url(#g128)"/></mask><clipPath id="c129"><rect x="849.5" y="900.5" width="127.7" height="243"/></clipPath><linearGradient id="g130" gradientUnits="userSpaceOnUse" x1="0" y1="900.5" x2="0" y2="970.5"><stop offset="0" stop-color="#fbb980"/><stop offset="0.06" stop-color="#fdd5a8" stop-opacity="0.9"/><stop offset="0.28" stop-color="#feeacf" stop-opacity="0.65"/><stop offset="1" stop-color="#fffaf0" stop-opacity="0"/></linearGradient><linearGradient id="g131" gradientUnits="userSpaceOnUse" x1="0" y1="900.5" x2="0" y2="1080.5"><stop offset="0" stop-color="#f9a66e"/><stop offset="0.15" stop-color="#fcc28c"/><stop offset="0.5" stop-color="#fddcb6"/><stop offset="1" stop-color="#fff2e0"/></linearGradient><linearGradient id="g132" gradientUnits="userSpaceOnUse" x1="0" y1="900.5" x2="0" y2="952.5"><stop offset="0" stop-color="#d93a2f"/><stop offset="0.18" stop-color="#e85c3f"/><stop offset="0.5" stop-color="#f47d51"/><stop offset="1" stop-color="#fbb980"/></linearGradient><linearGradient id="g134" gradientUnits="userSpaceOnUse" x1="0" y1="900.5" x2="0" y2="1000.5"><stop offset="0" stop-color="#fff" stop-opacity="0.5"/><stop offset="0.4" stop-color="#fff" stop-opacity="0.3"/><stop offset="1" stop-color="#fff" stop-opacity="0"/></linearGradient><mask id="m133" maskUnits="userSpaceOnUse" x="849.5" y="900.5" width="127.7" height="100"><rect x="849.5" y="900.5" width="127.7" height="100" fill="url(#g134)"/></mask><linearGradient id="g136" gradientUnits="userSpaceOnUse" x1="0" y1="900.5" x2="0" y2="1000.5"><stop offset="0" stop-color="#fff" stop-opacity="0.4"/><stop offset="0.6" stop-color="#fff" stop-opacity="0.3"/><stop offset="1" stop-color="#fff" stop-opacity="0"/></linearGradient><mask id="m135" maskUnits="userSpaceOnUse" x="849.5" y="900.5" width="127.7" height="100"><rect x="849.5" y="900.5" width="127.7" height="100" fill="url(#g136)"/></mask><linearGradient id="g137" x1="0" y1="0" x2="1" y2="0"><stop offset="0" stop-color="#fffaf2" stop-opacity="1"/><stop offset="0.1" stop-color="#fee8c8" stop-opacity="1"/><stop offset="0.25" stop-color="#fdd49e" stop-opacity="1"/><stop offset="0.375" stop-color="#fdbb84" stop-opacity="1"/><stop offset="0.5" stop-color="#fc8d59" stop-opacity="1"/><stop offset="0.625" stop-color="#ef6548" stop-opacity="1"/><stop offset="0.75" stop-color="#d7301f" stop-opacity="1"/><stop offset="0.875" stop-color="#b01a1e" stop-opacity="1"/><stop offset="1" stop-color="#8a1a22" stop-opacity="1"/></linearGradient><clipPath id="c138"><rect x="1024.3" y="304" width="246.5" height="846.5"/></clipPath><linearGradient id="g139" gradientUnits="userSpaceOnUse" x1="0" y1="308.6" x2="0" y2="500"><stop offset="0" stop-color="#2468b1"/><stop offset="0.12" stop-color="#1f5da9"/><stop offset="0.3" stop-color="#1d4f9a"/><stop offset="0.5" stop-color="#1c4184"/><stop offset="0.7" stop-color="#1b3a78"/><stop offset="1" stop-color="#1b3671"/></linearGradient><clipPath id="c140"><rect x="1024.3" y="308.6" width="246.5" height="191.4"/></clipPath><linearGradient id="g141" gradientUnits="userSpaceOnUse" x1="0" y1="308.6" x2="0" y2="504.6"><stop offset="0" stop-color="#8cc4ea"/><stop offset="0.6" stop-color="#6fb1e0"/><stop offset="0.85" stop-color="#4a96d4"/><stop offset="1" stop-color="#2f78bf"/></linearGradient><linearGradient id="g142" gradientUnits="userSpaceOnUse" x1="0" y1="308.6" x2="0" y2="498.6"><stop offset="0" stop-color="#fdf1ea"/><stop offset="0.6" stop-color="#fbf6f3"/><stop offset="0.78" stop-color="#eef5fa"/><stop offset="0.9" stop-color="#bfe0f5"/><stop offset="1" stop-color="#7dbde8"/></linearGradient><linearGradient id="g143" gradientUnits="userSpaceOnUse" x1="0" y1="308.6" x2="0" y2="450.6"><stop offset="0" stop-color="#b31f29"/><stop offset="0.1" stop-color="#c8292b"/><stop offset="0.45" stop-color="#d23c34"/><stop offset="0.7" stop-color="#e06a52"/><stop offset="0.88" stop-color="#f0a88e"/><stop offset="1" stop-color="#fbe0d4"/></linearGradient><linearGradient id="g144" gradientUnits="userSpaceOnUse" x1="0" y1="308.6" x2="0" y2="504.6"><stop offset="0" stop-color="#8cc4ea"/><stop offset="0.6" stop-color="#6fb1e0"/><stop offset="0.85" stop-color="#4a96d4"/><stop offset="1" stop-color="#2f78bf"/></linearGradient><linearGradient id="g145" gradientUnits="userSpaceOnUse" x1="0" y1="308.6" x2="0" y2="498.6"><stop offset="0" stop-color="#fdf1ea"/><stop offset="0.6" stop-color="#fbf6f3"/><stop offset="0.78" stop-color="#eef5fa"/><stop offset="0.9" stop-color="#bfe0f5"/><stop offset="1" stop-color="#7dbde8"/></linearGradient><linearGradient id="g146" gradientUnits="userSpaceOnUse" x1="0" y1="308.6" x2="0" y2="450.6"><stop offset="0" stop-color="#b31f29"/><stop offset="0.1" stop-color="#c8292b"/><stop offset="0.45" stop-color="#d23c34"/><stop offset="0.7" stop-color="#e06a52"/><stop offset="0.88" stop-color="#f0a88e"/><stop offset="1" stop-color="#fbe0d4"/></linearGradient><linearGradient id="g148" gradientUnits="userSpaceOnUse" x1="0" y1="308.6" x2="0" y2="423.4"><stop offset="0" stop-color="#fff" stop-opacity="0.7"/><stop offset="0.35" stop-color="#fff" stop-opacity="0.45"/><stop offset="1" stop-color="#fff" stop-opacity="0"/></linearGradient><mask id="m147" maskUnits="userSpaceOnUse" x="1024.3" y="308.6" width="246.5" height="114.8"><rect x="1024.3" y="308.6" width="246.5" height="114.8" fill="url(#g148)"/></mask><linearGradient id="g150" gradientUnits="userSpaceOnUse" x1="0" y1="308.6" x2="0" y2="500"><stop offset="0" stop-color="#fff" stop-opacity="0.3"/><stop offset="0.5" stop-color="#fff" stop-opacity="0.3"/><stop offset="1" stop-color="#fff" stop-opacity="0.2"/></linearGradient><mask id="m149" maskUnits="userSpaceOnUse" x="1024.3" y="308.6" width="246.5" height="191.4"><rect x="1024.3" y="308.6" width="246.5" height="191.4" fill="url(#g150)"/></mask><linearGradient id="g151" gradientUnits="userSpaceOnUse" x1="0" y1="505.8" x2="0" y2="896.6"><stop offset="0" stop-color="#3f8bcc"/><stop offset="0.03" stop-color="#2f79bf"/><stop offset="0.08" stop-color="#2569b3"/><stop offset="0.18" stop-color="#1f58a3"/><stop offset="0.3" stop-color="#1c468c"/><stop offset="0.45" stop-color="#1b3c7b"/><stop offset="1" stop-color="#1b3570"/></linearGradient><clipPath id="c152"><rect x="1024.3" y="505.8" width="246.5" height="390.8"/></clipPath><linearGradient id="g153" gradientUnits="userSpaceOnUse" x1="0" y1="505.8" x2="0" y2="897.8"><stop offset="0" stop-color="#8cc4ea"/><stop offset="0.25" stop-color="#5fa6dc"/><stop offset="0.5" stop-color="#428fd0"/><stop offset="0.75" stop-color="#3078c2"/><stop offset="1" stop-color="#2a6ebb"/></linearGradient><linearGradient id="g154" gradientUnits="userSpaceOnUse" x1="0" y1="505.8" x2="0" y2="897.8"><stop offset="0" stop-color="#ffffff"/><stop offset="0.26" stop-color="#f4f9fd"/><stop offset="0.4" stop-color="#d6ebf8"/><stop offset="0.54" stop-color="#a3d1f0"/><stop offset="0.7" stop-color="#6fb3e2"/><stop offset="0.85" stop-color="#529fda"/><stop offset="1" stop-color="#4592d2"/></linearGradient><linearGradient id="g155" gradientUnits="userSpaceOnUse" x1="0" y1="505.8" x2="0" y2="897.8"><stop offset="0" stop-color="#8cc4ea"/><stop offset="0.25" stop-color="#5fa6dc"/><stop offset="0.5" stop-color="#428fd0"/><stop offset="0.75" stop-color="#3078c2"/><stop offset="1" stop-color="#2a6ebb"/></linearGradient><linearGradient id="g156" gradientUnits="userSpaceOnUse" x1="0" y1="505.8" x2="0" y2="897.8"><stop offset="0" stop-color="#ffffff"/><stop offset="0.26" stop-color="#f4f9fd"/><stop offset="0.4" stop-color="#d6ebf8"/><stop offset="0.54" stop-color="#a3d1f0"/><stop offset="0.7" stop-color="#6fb3e2"/><stop offset="0.85" stop-color="#529fda"/><stop offset="1" stop-color="#4592d2"/></linearGradient><linearGradient id="g158" gradientUnits="userSpaceOnUse" x1="0" y1="505.8" x2="0" y2="740.3"><stop offset="0" stop-color="#fff" stop-opacity="0.7"/><stop offset="0.35" stop-color="#fff" stop-opacity="0.45"/><stop offset="1" stop-color="#fff" stop-opacity="0"/></linearGradient><mask id="m157" maskUnits="userSpaceOnUse" x="1024.3" y="505.8" width="246.5" height="234.5"><rect x="1024.3" y="505.8" width="246.5" height="234.5" fill="url(#g158)"/></mask><linearGradient id="g160" gradientUnits="userSpaceOnUse" x1="0" y1="505.8" x2="0" y2="896.6"><stop offset="0" stop-color="#fff" stop-opacity="0.3"/><stop offset="0.5" stop-color="#fff" stop-opacity="0.3"/><stop offset="1" stop-color="#fff" stop-opacity="0.2"/></linearGradient><mask id="m159" maskUnits="userSpaceOnUse" x="1024.3" y="505.8" width="246.5" height="390.8"><rect x="1024.3" y="505.8" width="246.5" height="390.8" fill="url(#g160)"/></mask><linearGradient id="g161" gradientUnits="userSpaceOnUse" x1="0" y1="904.3" x2="0" y2="1150.3"><stop offset="0" stop-color="#2b73bb"/><stop offset="0.06" stop-color="#2264ae"/><stop offset="0.18" stop-color="#1e539e"/><stop offset="0.32" stop-color="#1c4285"/><stop offset="0.5" stop-color="#1b3a77"/><stop offset="1" stop-color="#1b3570"/></linearGradient><clipPath id="c162"><rect x="1024.3" y="904.3" width="246.5" height="246"/></clipPath><linearGradient id="g163" gradientUnits="userSpaceOnUse" x1="0" y1="904.3" x2="0" y2="1150.3"><stop offset="0" stop-color="#8cc4ea"/><stop offset="0.3" stop-color="#5fa6dc"/><stop offset="0.55" stop-color="#428fd0"/><stop offset="0.8" stop-color="#3078c2"/><stop offset="1" stop-color="#2a6ebb"/></linearGradient><linearGradient id="g164" gradientUnits="userSpaceOnUse" x1="0" y1="904.3" x2="0" y2="1150.3"><stop offset="0" stop-color="#ffffff"/><stop offset="0.28" stop-color="#f4f9fd"/><stop offset="0.42" stop-color="#cfe7f7"/><stop offset="0.58" stop-color="#93c9ee"/><stop offset="0.78" stop-color="#62abe0"/><stop offset="1" stop-color="#3f8ccf"/></linearGradient><linearGradient id="g165" gradientUnits="userSpaceOnUse" x1="0" y1="904.3" x2="0" y2="966.3"><stop offset="0" stop-color="#f2b09a"/><stop offset="0.4" stop-color="#f7cdbd"/><stop offset="0.75" stop-color="#fbe6de"/><stop offset="1" stop-color="#fdf5f1"/></linearGradient><linearGradient id="g166" gradientUnits="userSpaceOnUse" x1="0" y1="904.3" x2="0" y2="1150.3"><stop offset="0" stop-color="#8cc4ea"/><stop offset="0.3" stop-color="#5fa6dc"/><stop offset="0.55" stop-color="#428fd0"/><stop offset="0.8" stop-color="#3078c2"/><stop offset="1" stop-color="#2a6ebb"/></linearGradient><linearGradient id="g167" gradientUnits="userSpaceOnUse" x1="0" y1="904.3" x2="0" y2="1150.3"><stop offset="0" stop-color="#ffffff"/><stop offset="0.28" stop-color="#f4f9fd"/><stop offset="0.42" stop-color="#cfe7f7"/><stop offset="0.58" stop-color="#93c9ee"/><stop offset="0.78" stop-color="#62abe0"/><stop offset="1" stop-color="#3f8ccf"/></linearGradient><linearGradient id="g168" gradientUnits="userSpaceOnUse" x1="0" y1="904.3" x2="0" y2="966.3"><stop offset="0" stop-color="#f2b09a"/><stop offset="0.4" stop-color="#f7cdbd"/><stop offset="0.75" stop-color="#fbe6de"/><stop offset="1" stop-color="#fdf5f1"/></linearGradient><linearGradient id="g170" gradientUnits="userSpaceOnUse" x1="0" y1="904.3" x2="0" y2="1051.9"><stop offset="0" stop-color="#fff" stop-opacity="0.7"/><stop offset="0.35" stop-color="#fff" stop-opacity="0.45"/><stop offset="1" stop-color="#fff" stop-opacity="0"/></linearGradient><mask id="m169" maskUnits="userSpaceOnUse" x="1024.3" y="904.3" width="246.5" height="147.6"><rect x="1024.3" y="904.3" width="246.5" height="147.6" fill="url(#g170)"/></mask><linearGradient id="g172" gradientUnits="userSpaceOnUse" x1="0" y1="904.3" x2="0" y2="1150.3"><stop offset="0" stop-color="#fff" stop-opacity="0.3"/><stop offset="0.5" stop-color="#fff" stop-opacity="0.3"/><stop offset="1" stop-color="#fff" stop-opacity="0.2"/></linearGradient><mask id="m171" maskUnits="userSpaceOnUse" x="1024.3" y="904.3" width="246.5" height="246"><rect x="1024.3" y="904.3" width="246.5" height="246" fill="url(#g172)"/></mask><linearGradient id="g173" x1="0" y1="0" x2="1" y2="0"><stop offset="0" stop-color="#1a4f96" stop-opacity="1"/><stop offset="0.15" stop-color="#2a70b8" stop-opacity="1"/><stop offset="0.3" stop-color="#6fb0dc" stop-opacity="1"/><stop offset="0.42" stop-color="#d8e9f4" stop-opacity="1"/><stop offset="0.5" stop-color="#fbfbfb" stop-opacity="1"/><stop offset="0.58" stop-color="#fbe0d0" stop-opacity="1"/><stop offset="0.7" stop-color="#f0a080" stop-opacity="1"/><stop offset="0.82" stop-color="#d25545" stop-opacity="1"/><stop offset="0.92" stop-color="#b01f2c" stop-opacity="1"/><stop offset="1" stop-color="#7a0f22" stop-opacity="1"/></linearGradient><linearGradient id="g174" x1="0" y1="0" x2="0" y2="1"><stop offset="0" stop-color="#e2e2e2" stop-opacity="1"/><stop offset="1" stop-color="#e8e8e8" stop-opacity="1"/></linearGradient><linearGradient id="g175" x1="0" y1="0" x2="0" y2="1"><stop offset="0" stop-color="#b6b6b6" stop-opacity="1"/><stop offset="0.5" stop-color="#bdbdbd" stop-opacity="1"/><stop offset="1" stop-color="#c4c4c4" stop-opacity="1"/></linearGradient><linearGradient id="g176" x1="0" y1="0" x2="0" y2="1"><stop offset="0" stop-color="#b9b9b9" stop-opacity="1"/><stop offset="0.4" stop-color="#c1c1c1" stop-opacity="1"/><stop offset="1" stop-color="#c3c3c3" stop-opacity="1"/></linearGradient><clipPath id="c177"><rect x="1505.2" y="361.3" width="269" height="56.1"/></clipPath><clipPath id="c178"><rect x="1505.2" y="431.6" width="269" height="57.7"/></clipPath><clipPath id="c179"><rect x="1505.2" y="500.4" width="269" height="57.9"/></clipPath><clipPath id="c180"><rect x="1505.2" y="568.8" width="269" height="53.8"/></clipPath><clipPath id="c181"><rect x="1505.2" y="635.8" width="269" height="60.6"/></clipPath><clipPath id="c182"><rect x="1810.9" y="362.3" width="268.5" height="56.6"/></clipPath><clipPath id="c183"><rect x="1810.9" y="434.9" width="268.5" height="52.3"/></clipPath><clipPath id="c184"><rect x="1810.9" y="501.8" width="268.5" height="57.4"/></clipPath><clipPath id="c185"><rect x="1810.9" y="571" width="268.5" height="56.6"/></clipPath><clipPath id="c186"><rect x="1810.9" y="634.8" width="268.5" height="56.1"/></clipPath><clipPath id="c187"><rect x="98" y="1233.6" width="255.8" height="139"/></clipPath><clipPath id="c188"><rect x="99" y="1432.9" width="254.7" height="138.8"/></clipPath><clipPath id="c189"><rect x="99" y="1610.4" width="254.7" height="138.6"/></clipPath><clipPath id="c190"><rect x="411.9" y="1239.8" width="255" height="138.6"/></clipPath><clipPath id="c191"><rect x="411.9" y="1430" width="255.2" height="138"/></clipPath><clipPath id="c192"><rect x="411.9" y="1608.3" width="255.7" height="139.9"/></clipPath><clipPath id="c193"><rect x="713.4" y="1235.9" width="257.7" height="140.3"/></clipPath><clipPath id="c194"><rect x="721.3" y="1431.1" width="257.3" height="140.8"/></clipPath><clipPath id="c195"><rect x="721.3" y="1606.8" width="257.3" height="140.6"/></clipPath><clipPath id="c196"><rect x="970" y="1247.2" width="56.4" height="40"/></clipPath><clipPath id="c197"><rect x="970" y="1289" width="56.4" height="40"/></clipPath><clipPath id="c198"><rect x="970" y="1327.8" width="56.4" height="40"/></clipPath><clipPath id="c199"><rect x="1026.4" y="1248.6" width="281.2" height="136.5"/></clipPath><clipPath id="c200"><rect x="975.5" y="1432" width="50.5" height="40"/></clipPath><clipPath id="c201"><rect x="991" y="1473" width="25.6" height="40"/></clipPath><clipPath id="c202"><rect x="989.3" y="1512.8" width="27.3" height="40"/></clipPath><clipPath id="c203"><rect x="1026" y="1438.4" width="281" height="133.1"/></clipPath><clipPath id="c204"><rect x="993.5" y="1610.5" width="23.1" height="40"/></clipPath><clipPath id="c205"><rect x="994.5" y="1652.4" width="22.1" height="40"/></clipPath><clipPath id="c206"><rect x="988.9" y="1691.2" width="27.7" height="40"/></clipPath><clipPath id="c207"><rect x="1026" y="1607.1" width="284.5" height="135.7"/></clipPath></defs>
<text x="57.8" y="37.3" font-size="31" font-weight="bold" fill="#000" style="stroke:#000;stroke-width:0.2px;">a</text>
<text x="1358.3" y="30.2" font-size="31" font-weight="bold" fill="#000" style="stroke:#000;stroke-width:0.2px;">b</text>
<text x="445.3" y="120.6" font-size="30.7" text-anchor="middle">MDA-MB-231</text>
<text x="194" y="211.3" font-size="30.5" text-anchor="middle">H3K4me3</text>
<line x1="95" y1="244.5" x2="286.6" y2="244.5" stroke="#000" stroke-width="4.6"/>
<text x="132.6" y="291.8" font-size="30.5" text-anchor="middle">sgNT</text>
<text x="272.7" y="291.8" font-size="30.5" text-anchor="middle">sgMLL3</text>
<text x="484.5" y="209.3" font-size="30.5" text-anchor="middle">H3K4me1</text>
<line x1="386.4" y1="242.3" x2="578" y2="242.3" stroke="#000" stroke-width="4.6"/>
<text x="442.2" y="291.8" font-size="30.5" text-anchor="middle">sgNT</text>
<text x="571.5" y="291.8" font-size="30.5" text-anchor="middle">sgMLL3</text>
<text x="834" y="208.3" font-size="30.5" text-anchor="middle">H3K27ac</text>
<line x1="718.5" y1="240.5" x2="910.5" y2="240.5" stroke="#000" stroke-width="4.6"/>
<text x="766.3" y="291.8" font-size="30.5" text-anchor="middle">sgNT</text>
<text x="907.6" y="291.8" font-size="30.5" text-anchor="middle">sgMLL3</text>
<text x="1130.2" y="204.8" font-size="30.5" text-anchor="middle">ATAC</text>
<line x1="1038" y1="238.2" x2="1230" y2="238.2" stroke="#000" stroke-width="4.6"/>
<text x="1086.7" y="289.3" font-size="30.5" text-anchor="middle">sgNT</text>
<text x="1227.2" y="289.3" font-size="30.5" text-anchor="middle">sgMLL3</text>
<text transform="translate(24.5 417) rotate(-90)" font-size="30.5" text-anchor="middle">Promoter</text>
<text transform="translate(24.5 711) rotate(-90)" font-size="30.5" text-anchor="middle">Intron</text>
<text transform="translate(24.5 984.5) rotate(-90)" font-size="30.5" text-anchor="middle">Intergenic</text>
<g clip-path="url(#c1)">
<rect x="70.2" y="309.5" width="125.8" height="190.7" fill="#fffaf0"/>
<rect x="70.2" y="309.5" width="125.8" height="30" fill="url(#g2)"/>
<path d="M89.1 295.5 L89.1 309.5 L99.1 315.5 L107.6 349.5 L113.6 389.5 L120.6 429.5 L126.1 457.5 L130.1 475.5 L136.1 475.5 L140.1 457.5 L145.6 429.5 L152.6 389.5 L158.6 349.5 L167.1 315.5 L177.1 309.5 L177.1 295.5Z" fill="url(#g3)" opacity="0.85" filter="url(#b4)"/>
<path d="M106.1 295.5 L106.1 309.5 L109.1 319.5 L113.6 347.5 L117.1 376.5 L121.1 405.5 L125.1 431.5 L128.1 446.5 L130.6 457.5 L135.6 457.5 L138.1 446.5 L141.1 431.5 L145.1 405.5 L149.1 376.5 L152.6 347.5 L157.1 319.5 L160.1 309.5 L160.1 295.5Z" fill="url(#g4)" filter="url(#b3)"/>
<path d="M111.6 295.5 L111.6 309.5 L113.6 319.5 L117.6 347.5 L121.1 376.5 L124.6 405.5 L127.6 427.5 L130.6 440.5 L135.6 440.5 L138.6 427.5 L141.6 405.5 L145.1 376.5 L148.6 347.5 L152.6 319.5 L154.6 309.5 L154.6 295.5Z" fill="url(#g5)" filter="url(#b2)"/>
<g mask="url(#m6)" opacity="0.3"><rect x="70.2" y="309.5" width="125.8" height="150" filter="url(#stL)"/></g>
</g>
<path d="M70.2 309.5 V500.2 H196 V309.5" fill="none" stroke="#0d0d0d" stroke-width="2.4"/>
<g clip-path="url(#c8)">
<rect x="205.4" y="309.5" width="126.4" height="190.7" fill="#fffaf0"/>
<rect x="205.4" y="309.5" width="126.4" height="30" fill="url(#g9)"/>
<path d="M224.6 295.5 L224.6 309.5 L234.6 315.5 L243.1 349.5 L249.1 389.5 L256.1 429.5 L261.6 457.5 L265.6 475.5 L271.6 475.5 L275.6 457.5 L281.1 429.5 L288.1 389.5 L294.1 349.5 L302.6 315.5 L312.6 309.5 L312.6 295.5Z" fill="url(#g10)" opacity="0.85" filter="url(#b4)"/>
<path d="M241.6 295.5 L241.6 309.5 L244.6 319.5 L249.1 347.5 L252.6 376.5 L256.6 405.5 L260.6 431.5 L263.6 446.5 L266.1 457.5 L271.1 457.5 L273.6 446.5 L276.6 431.5 L280.6 405.5 L284.6 376.5 L288.1 347.5 L292.6 319.5 L295.6 309.5 L295.6 295.5Z" fill="url(#g11)" filter="url(#b3)"/>
<path d="M247.1 295.5 L247.1 309.5 L249.1 319.5 L253.1 347.5 L256.6 376.5 L260.1 405.5 L263.1 427.5 L266.1 440.5 L271.1 440.5 L274.1 427.5 L277.1 405.5 L280.6 376.5 L284.1 347.5 L288.1 319.5 L290.1 309.5 L290.1 295.5Z" fill="url(#g12)" filter="url(#b2)"/>
<g mask="url(#m13)" opacity="0.3"><rect x="205.4" y="309.5" width="126.4" height="150" filter="url(#stL)"/></g>
</g>
<path d="M205.4 309.5 V500.2 H331.8 V309.5" fill="none" stroke="#0d0d0d" stroke-width="2.4"/>
<g clip-path="url(#c15)">
<rect x="70.2" y="505.9" width="125.8" height="389.6" fill="#fffaf0"/>
<rect x="70.2" y="505.9" width="125.8" height="34" fill="url(#g16)"/>
<ellipse cx="101.1" cy="509.9" rx="30" ry="5.5" fill="#f9a66e" opacity="0.5" filter="url(#b4)"/>
<ellipse cx="169.1" cy="511.9" rx="26" ry="5.5" fill="#f9a66e" opacity="0.32" filter="url(#b4)"/>
<path d="M128.1 499.9 L128.1 513.9 L129.1 553.9 L131.1 603.9 L135.1 603.9 L137.1 553.9 L138.1 513.9 L138.1 499.9Z" fill="#fdebd3" opacity="0.55" filter="url(#b3)"/>
</g>
<rect x="70.2" y="505.9" width="125.8" height="389.6" fill="none" stroke="#0d0d0d" stroke-width="2.4"/>
<g clip-path="url(#c17)">
<rect x="205.4" y="505.9" width="126.4" height="389.6" fill="#fffaf0"/>
<rect x="205.4" y="505.9" width="126.4" height="34" fill="url(#g18)"/>
<ellipse cx="236.6" cy="509.9" rx="30" ry="5.5" fill="#f9a66e" opacity="0.5" filter="url(#b4)"/>
<ellipse cx="304.6" cy="511.9" rx="26" ry="5.5" fill="#f9a66e" opacity="0.32" filter="url(#b4)"/>
<path d="M263.6 499.9 L263.6 513.9 L264.6 553.9 L266.6 603.9 L270.6 603.9 L272.6 553.9 L273.6 513.9 L273.6 499.9Z" fill="#fdebd3" opacity="0.55" filter="url(#b3)"/>
</g>
<rect x="205.4" y="505.9" width="126.4" height="389.6" fill="none" stroke="#0d0d0d" stroke-width="2.4"/>
<g clip-path="url(#c19)">
<rect x="70.2" y="900.5" width="125.8" height="243" fill="#fffaf0"/>
<rect x="70.2" y="900.5" width="125.8" height="12" fill="url(#g20)"/>
<path d="M123.1 886.5 L123.1 900.5 L125.6 908.5 L128.1 920.5 L130.1 936.5 L132.1 950.5 L134.1 950.5 L136.1 936.5 L138.1 920.5 L140.6 908.5 L143.1 900.5 L143.1 886.5Z" fill="url(#g21)" opacity="0.8" filter="url(#b3)"/>
</g>
<rect x="70.2" y="900.5" width="125.8" height="243" fill="none" stroke="#0d0d0d" stroke-width="2.4"/>
<g clip-path="url(#c22)">
<rect x="205.4" y="900.5" width="126.4" height="243" fill="#fffaf0"/>
<rect x="205.4" y="900.5" width="126.4" height="12" fill="url(#g23)"/>
<path d="M258.6 886.5 L258.6 900.5 L261.1 908.5 L263.6 920.5 L265.6 936.5 L267.6 950.5 L269.6 950.5 L271.6 936.5 L273.6 920.5 L276.1 908.5 L278.6 900.5 L278.6 886.5Z" fill="url(#g24)" opacity="0.8" filter="url(#b3)"/>
</g>
<rect x="205.4" y="900.5" width="126.4" height="243" fill="none" stroke="#0d0d0d" stroke-width="2.4"/>
<line x1="70.2" y1="1143.5" x2="70.2" y2="1149" stroke="#222" stroke-width="2"/>
<line x1="133.1" y1="1143.5" x2="133.1" y2="1149" stroke="#222" stroke-width="2"/>
<line x1="196" y1="1143.5" x2="196" y2="1149" stroke="#222" stroke-width="2"/>
<line x1="205.4" y1="1143.5" x2="205.4" y2="1149" stroke="#222" stroke-width="2"/>
<line x1="268.6" y1="1143.5" x2="268.6" y2="1149" stroke="#222" stroke-width="2"/>
<line x1="331.8" y1="1143.5" x2="331.8" y2="1149" stroke="#222" stroke-width="2"/>
<g clip-path="url(#c25)">
<rect x="380.9" y="306.2" width="126.4" height="191.5" fill="#fffaf0"/>
<rect x="380.9" y="306.2" width="126.4" height="191.5" fill="url(#g26)"/>
<rect x="380.9" y="306.2" width="22" height="191.5" fill="url(#g27)"/>
<rect x="485.3" y="306.2" width="22" height="191.5" fill="url(#g28)"/>
<ellipse cx="421.1" cy="306.7" rx="22" ry="5.5" fill="#e24a36" opacity="0.85" filter="url(#b3)"/>
<ellipse cx="421.1" cy="313.2" rx="18" ry="7" fill="#f79661" opacity="0.4" filter="url(#b4)"/>
<path d="M408.1 304.2 L408.1 318.2 L409.1 378.2 L411.1 438.2 L414.1 488.2 L428.1 488.2 L431.1 438.2 L433.1 378.2 L434.1 318.2 L434.1 304.2Z" fill="url(#g29)" opacity="0.42" filter="url(#b6)"/>
<ellipse cx="466.1" cy="306.7" rx="22" ry="5.5" fill="#e24a36" opacity="0.85" filter="url(#b3)"/>
<ellipse cx="466.1" cy="313.2" rx="18" ry="7" fill="#f79661" opacity="0.4" filter="url(#b4)"/>
<path d="M453.1 304.2 L453.1 318.2 L454.1 378.2 L456.1 438.2 L459.1 488.2 L473.1 488.2 L476.1 438.2 L478.1 378.2 L479.1 318.2 L479.1 304.2Z" fill="url(#g30)" opacity="0.42" filter="url(#b6)"/>
<path d="M439.6 298.2 L439.6 312.2 L438.1 352.2 L437.6 462.2 L438.6 500.2 L450.6 500.2 L451.6 462.2 L451.1 352.2 L449.6 312.2 L449.6 298.2Z" fill="url(#g31)" opacity="0.85" filter="url(#b3)"/>
<g mask="url(#m32)" opacity="0.24"><rect x="380.9" y="306.2" width="126.4" height="191.5" filter="url(#stO)"/></g>
<g mask="url(#m34)" opacity="0.3"><rect x="380.9" y="306.2" width="126.4" height="191.5" filter="url(#stL)"/></g>
</g>
<rect x="380.9" y="306.2" width="126.4" height="191.5" fill="none" stroke="#0d0d0d" stroke-width="2.4"/>
<g clip-path="url(#c36)">
<rect x="516.1" y="306.2" width="126.2" height="191.5" fill="#fffaf0"/>
<rect x="516.1" y="306.2" width="126.2" height="191.5" fill="url(#g37)"/>
<rect x="516.1" y="306.2" width="22" height="191.5" fill="url(#g38)"/>
<rect x="620.3" y="306.2" width="22" height="191.5" fill="url(#g39)"/>
<ellipse cx="556.2" cy="306.7" rx="22" ry="5.5" fill="#e24a36" opacity="0.85" filter="url(#b3)"/>
<ellipse cx="556.2" cy="313.2" rx="18" ry="7" fill="#f79661" opacity="0.4" filter="url(#b4)"/>
<path d="M543.2 304.2 L543.2 318.2 L544.2 378.2 L546.2 438.2 L549.2 488.2 L563.2 488.2 L566.2 438.2 L568.2 378.2 L569.2 318.2 L569.2 304.2Z" fill="url(#g40)" opacity="0.42" filter="url(#b6)"/>
<ellipse cx="601.2" cy="306.7" rx="22" ry="5.5" fill="#e24a36" opacity="0.85" filter="url(#b3)"/>
<ellipse cx="601.2" cy="313.2" rx="18" ry="7" fill="#f79661" opacity="0.4" filter="url(#b4)"/>
<path d="M588.2 304.2 L588.2 318.2 L589.2 378.2 L591.2 438.2 L594.2 488.2 L608.2 488.2 L611.2 438.2 L613.2 378.2 L614.2 318.2 L614.2 304.2Z" fill="url(#g41)" opacity="0.42" filter="url(#b6)"/>
<path d="M574.7 298.2 L574.7 312.2 L573.2 352.2 L572.7 462.2 L573.7 500.2 L585.7 500.2 L586.7 462.2 L586.2 352.2 L584.7 312.2 L584.7 298.2Z" fill="url(#g42)" opacity="0.85" filter="url(#b3)"/>
<g mask="url(#m43)" opacity="0.24"><rect x="516.1" y="306.2" width="126.2" height="191.5" filter="url(#stO)"/></g>
<g mask="url(#m45)" opacity="0.3"><rect x="516.1" y="306.2" width="126.2" height="191.5" filter="url(#stL)"/></g>
</g>
<rect x="516.1" y="306.2" width="126.2" height="191.5" fill="none" stroke="#0d0d0d" stroke-width="2.4"/>
<g clip-path="url(#c47)">
<rect x="380.9" y="503.6" width="126.4" height="389.4" fill="#fffaf0"/>
<rect x="380.9" y="503.6" width="126.4" height="389.4" fill="url(#g48)"/>
<path d="M382.1 489.6 L382.1 503.6 L400.1 513.6 L411.1 543.6 L419.1 603.6 L427.1 703.6 L433.1 803.6 L438.1 888.6 L450.1 888.6 L455.1 803.6 L461.1 703.6 L469.1 603.6 L477.1 543.6 L488.1 513.6 L506.1 503.6 L506.1 489.6Z" fill="url(#g49)" opacity="0.55" filter="url(#b10)"/>
<path d="M415.1 489.6 L415.1 503.6 L420.1 513.6 L423.6 543.6 L427.6 603.6 L431.6 668.6 L434.6 733.6 L437.6 803.6 L441.1 875.6 L447.1 875.6 L450.6 803.6 L453.6 733.6 L456.6 668.6 L460.6 603.6 L464.6 543.6 L468.1 513.6 L473.1 503.6 L473.1 489.6Z" fill="url(#g50)" opacity="0.9" filter="url(#b4)"/>
<ellipse cx="427.9" cy="504.1" rx="19" ry="6" fill="#b81d27" opacity="0.9" filter="url(#b3)"/>
<path d="M418.6 489.6 L418.6 503.6 L421.1 513.6 L423.1 535.6 L425.1 563.6 L427.1 591.6 L429.4 633.6 L430.8 668.6 L432.4 668.6 L433.8 633.6 L436.1 591.6 L438.1 563.6 L440.1 535.6 L442.1 513.6 L444.6 503.6 L444.6 489.6Z" fill="url(#g51)" opacity="0.88" filter="url(#b4)"/>
<ellipse cx="461" cy="504.1" rx="19" ry="6" fill="#b81d27" opacity="0.9" filter="url(#b3)"/>
<path d="M444.1 489.6 L444.1 503.6 L446.6 513.6 L448.6 535.6 L450.6 563.6 L452.6 591.6 L454.9 633.6 L456.3 668.6 L457.9 668.6 L459.3 633.6 L461.6 591.6 L463.6 563.6 L465.6 535.6 L467.6 513.6 L470.1 503.6 L470.1 489.6Z" fill="url(#g52)" opacity="0.88" filter="url(#b4)"/>
<path d="M442 492.6 L442 506.6 L442 556.6 L442.4 596.6 L443.2 626.6 L445.6 626.6 L446.4 596.6 L446.8 556.6 L446.8 506.6 L446.8 492.6Z" fill="url(#g53)" opacity="0.85" filter="url(#b2)"/>
<g mask="url(#m54)" opacity="0.24"><rect x="380.9" y="503.6" width="126.4" height="300" filter="url(#stO)"/></g>
<g mask="url(#m56)" opacity="0.3"><rect x="380.9" y="503.6" width="126.4" height="300" filter="url(#stL)"/></g>
</g>
<rect x="380.9" y="503.6" width="126.4" height="389.4" fill="none" stroke="#0d0d0d" stroke-width="2.4"/>
<g clip-path="url(#c58)">
<rect x="516.1" y="503.6" width="126.2" height="389.4" fill="#fffaf0"/>
<rect x="516.1" y="503.6" width="126.2" height="389.4" fill="url(#g59)"/>
<path d="M517.2 489.6 L517.2 503.6 L535.2 513.6 L546.2 543.6 L554.2 603.6 L562.2 703.6 L568.2 803.6 L573.2 888.6 L585.2 888.6 L590.2 803.6 L596.2 703.6 L604.2 603.6 L612.2 543.6 L623.2 513.6 L641.2 503.6 L641.2 489.6Z" fill="url(#g60)" opacity="0.55" filter="url(#b10)"/>
<path d="M550.2 489.6 L550.2 503.6 L555.2 513.6 L558.7 543.6 L562.7 603.6 L566.7 668.6 L569.7 733.6 L572.7 803.6 L576.2 875.6 L582.2 875.6 L585.7 803.6 L588.7 733.6 L591.7 668.6 L595.7 603.6 L599.7 543.6 L603.2 513.6 L608.2 503.6 L608.2 489.6Z" fill="url(#g61)" opacity="0.9" filter="url(#b4)"/>
<ellipse cx="563" cy="504.1" rx="19" ry="6" fill="#b81d27" opacity="0.9" filter="url(#b3)"/>
<path d="M553.7 489.6 L553.7 503.6 L556.2 513.6 L558.2 535.6 L560.2 563.6 L562.2 591.6 L564.5 633.6 L565.9 668.6 L567.5 668.6 L568.9 633.6 L571.2 591.6 L573.2 563.6 L575.2 535.6 L577.2 513.6 L579.7 503.6 L579.7 489.6Z" fill="url(#g62)" opacity="0.88" filter="url(#b4)"/>
<ellipse cx="596.1" cy="504.1" rx="19" ry="6" fill="#b81d27" opacity="0.9" filter="url(#b3)"/>
<path d="M579.2 489.6 L579.2 503.6 L581.7 513.6 L583.7 535.6 L585.7 563.6 L587.7 591.6 L590 633.6 L591.4 668.6 L593 668.6 L594.4 633.6 L596.7 591.6 L598.7 563.6 L600.7 535.6 L602.7 513.6 L605.2 503.6 L605.2 489.6Z" fill="url(#g63)" opacity="0.88" filter="url(#b4)"/>
<path d="M577.1 492.6 L577.1 506.6 L577.1 556.6 L577.5 596.6 L578.3 626.6 L580.7 626.6 L581.5 596.6 L581.9 556.6 L581.9 506.6 L581.9 492.6Z" fill="url(#g64)" opacity="0.85" filter="url(#b2)"/>
<g mask="url(#m65)" opacity="0.24"><rect x="516.1" y="503.6" width="126.2" height="300" filter="url(#stO)"/></g>
<g mask="url(#m67)" opacity="0.3"><rect x="516.1" y="503.6" width="126.2" height="300" filter="url(#stL)"/></g>
</g>
<rect x="516.1" y="503.6" width="126.2" height="389.4" fill="none" stroke="#0d0d0d" stroke-width="2.4"/>
<g clip-path="url(#c69)">
<rect x="380.9" y="898.5" width="126.4" height="242" fill="#fffaf0"/>
<rect x="380.9" y="898.5" width="126.4" height="242" fill="url(#g70)"/>
<path d="M382.1 884.5 L382.1 898.5 L400.1 904.1 L411.1 920.9 L419.1 954.5 L427.1 1010.5 L433.1 1066.5 L438.1 1114.1 L450.1 1114.1 L455.1 1066.5 L461.1 1010.5 L469.1 954.5 L477.1 920.9 L488.1 904.1 L506.1 898.5 L506.1 884.5Z" fill="url(#g71)" opacity="0.55" filter="url(#b10)"/>
<path d="M415.1 884.5 L415.1 898.5 L420.1 904.1 L423.6 920.9 L427.6 954.5 L431.6 990.9 L434.6 1027.3 L437.6 1066.5 L441.1 1106.8 L447.1 1106.8 L450.6 1066.5 L453.6 1027.3 L456.6 990.9 L460.6 954.5 L464.6 920.9 L468.1 904.1 L473.1 898.5 L473.1 884.5Z" fill="url(#g72)" opacity="0.9" filter="url(#b4)"/>
<ellipse cx="427.9" cy="899" rx="19" ry="6" fill="#b81d27" opacity="0.9" filter="url(#b3)"/>
<path d="M418.6 884.5 L418.6 898.5 L421.1 904.1 L423.1 916.4 L425.1 932.1 L427.1 947.8 L429.4 971.3 L430.8 990.9 L432.4 990.9 L433.8 971.3 L436.1 947.8 L438.1 932.1 L440.1 916.4 L442.1 904.1 L444.6 898.5 L444.6 884.5Z" fill="url(#g73)" opacity="0.88" filter="url(#b4)"/>
<ellipse cx="461" cy="899" rx="19" ry="6" fill="#b81d27" opacity="0.9" filter="url(#b3)"/>
<path d="M444.1 884.5 L444.1 898.5 L446.6 904.1 L448.6 916.4 L450.6 932.1 L452.6 947.8 L454.9 971.3 L456.3 990.9 L457.9 990.9 L459.3 971.3 L461.6 947.8 L463.6 932.1 L465.6 916.4 L467.6 904.1 L470.1 898.5 L470.1 884.5Z" fill="url(#g74)" opacity="0.88" filter="url(#b4)"/>
<path d="M442 887.5 L442 901.5 L442 929.5 L442.4 951.9 L443.2 968.7 L445.6 968.7 L446.4 951.9 L446.8 929.5 L446.8 901.5 L446.8 887.5Z" fill="url(#g75)" opacity="0.85" filter="url(#b2)"/>
<g mask="url(#m76)" opacity="0.24"><rect x="380.9" y="898.5" width="126.4" height="168" filter="url(#stO)"/></g>
<g mask="url(#m78)" opacity="0.3"><rect x="380.9" y="898.5" width="126.4" height="168" filter="url(#stL)"/></g>
</g>
<rect x="380.9" y="898.5" width="126.4" height="242" fill="none" stroke="#0d0d0d" stroke-width="2.4"/>
<g clip-path="url(#c80)">
<rect x="516.1" y="898.5" width="126.2" height="242" fill="#fffaf0"/>
<rect x="516.1" y="898.5" width="126.2" height="242" fill="url(#g81)"/>
<path d="M517.2 884.5 L517.2 898.5 L535.2 904.1 L546.2 920.9 L554.2 954.5 L562.2 1010.5 L568.2 1066.5 L573.2 1114.1 L585.2 1114.1 L590.2 1066.5 L596.2 1010.5 L604.2 954.5 L612.2 920.9 L623.2 904.1 L641.2 898.5 L641.2 884.5Z" fill="url(#g82)" opacity="0.55" filter="url(#b10)"/>
<path d="M550.2 884.5 L550.2 898.5 L555.2 904.1 L558.7 920.9 L562.7 954.5 L566.7 990.9 L569.7 1027.3 L572.7 1066.5 L576.2 1106.8 L582.2 1106.8 L585.7 1066.5 L588.7 1027.3 L591.7 990.9 L595.7 954.5 L599.7 920.9 L603.2 904.1 L608.2 898.5 L608.2 884.5Z" fill="url(#g83)" opacity="0.9" filter="url(#b4)"/>
<ellipse cx="563" cy="899" rx="19" ry="6" fill="#b81d27" opacity="0.9" filter="url(#b3)"/>
<path d="M553.7 884.5 L553.7 898.5 L556.2 904.1 L558.2 916.4 L560.2 932.1 L562.2 947.8 L564.5 971.3 L565.9 990.9 L567.5 990.9 L568.9 971.3 L571.2 947.8 L573.2 932.1 L575.2 916.4 L577.2 904.1 L579.7 898.5 L579.7 884.5Z" fill="url(#g84)" opacity="0.88" filter="url(#b4)"/>
<ellipse cx="596.1" cy="899" rx="19" ry="6" fill="#b81d27" opacity="0.9" filter="url(#b3)"/>
<path d="M579.2 884.5 L579.2 898.5 L581.7 904.1 L583.7 916.4 L585.7 932.1 L587.7 947.8 L590 971.3 L591.4 990.9 L593 990.9 L594.4 971.3 L596.7 947.8 L598.7 932.1 L600.7 916.4 L602.7 904.1 L605.2 898.5 L605.2 884.5Z" fill="url(#g85)" opacity="0.88" filter="url(#b4)"/>
<path d="M577.1 887.5 L577.1 901.5 L577.1 929.5 L577.5 951.9 L578.3 968.7 L580.7 968.7 L581.5 951.9 L581.9 929.5 L581.9 901.5 L581.9 887.5Z" fill="url(#g86)" opacity="0.85" filter="url(#b2)"/>
<g mask="url(#m87)" opacity="0.24"><rect x="516.1" y="898.5" width="126.2" height="168" filter="url(#stO)"/></g>
<g mask="url(#m89)" opacity="0.3"><rect x="516.1" y="898.5" width="126.2" height="168" filter="url(#stL)"/></g>
</g>
<rect x="516.1" y="898.5" width="126.2" height="242" fill="none" stroke="#0d0d0d" stroke-width="2.4"/>
<line x1="380.9" y1="1140.5" x2="380.9" y2="1146" stroke="#222" stroke-width="2"/>
<line x1="444.1" y1="1140.5" x2="444.1" y2="1146" stroke="#222" stroke-width="2"/>
<line x1="507.3" y1="1140.5" x2="507.3" y2="1146" stroke="#222" stroke-width="2"/>
<line x1="516.1" y1="1140.5" x2="516.1" y2="1146" stroke="#222" stroke-width="2"/>
<line x1="579.2" y1="1140.5" x2="579.2" y2="1146" stroke="#222" stroke-width="2"/>
<line x1="642.3" y1="1140.5" x2="642.3" y2="1146" stroke="#222" stroke-width="2"/>
<g clip-path="url(#c91)">
<rect x="714" y="309.5" width="126.8" height="190.7" fill="#fffaf0"/>
<rect x="714" y="309.5" width="126.8" height="34" fill="url(#g92)"/>
<path d="M723.4 295.5 L723.4 309.5 L739.4 313.5 L750.4 325.5 L757.9 354.5 L763.4 389.5 L768.4 424.5 L772.4 454.5 L775.4 474.5 L779.4 474.5 L782.4 454.5 L786.4 424.5 L791.4 389.5 L796.9 354.5 L804.4 325.5 L815.4 313.5 L831.4 309.5 L831.4 295.5Z" fill="url(#g93)" opacity="0.8" filter="url(#b4)"/>
<path d="M739.4 295.5 L739.4 309.5 L750.4 313.5 L758.4 325.5 L762.9 351.5 L766.9 379.5 L770.4 407.5 L773.4 429.5 L775.9 445.5 L778.9 445.5 L781.4 429.5 L784.4 407.5 L787.9 379.5 L791.9 351.5 L796.4 325.5 L804.4 313.5 L815.4 309.5 L815.4 295.5Z" fill="url(#g94)" opacity="0.95" filter="url(#b3)"/>
<path d="M748.4 295.5 L748.4 309.5 L756.9 313.5 L763.4 325.5 L766.9 345.5 L769.9 365.5 L772.9 385.5 L775.9 401.5 L778.9 401.5 L781.9 385.5 L784.9 365.5 L787.9 345.5 L791.4 325.5 L797.9 313.5 L806.4 309.5 L806.4 295.5Z" fill="url(#g95)" opacity="0.95" filter="url(#b2)"/>
<g mask="url(#m96)" opacity="0.3"><rect x="714" y="309.5" width="126.8" height="130" filter="url(#stL)"/></g>
</g>
<path d="M714 309.5 V500.2 H840.8 V309.5" fill="none" stroke="#0d0d0d" stroke-width="2.4"/>
<g clip-path="url(#c98)">
<rect x="849.5" y="309.5" width="127.7" height="190.7" fill="#fffaf0"/>
<rect x="849.5" y="309.5" width="127.7" height="34" fill="url(#g99)"/>
<path d="M859.4 295.5 L859.4 309.5 L875.4 313.5 L886.4 325.5 L893.9 354.5 L899.4 389.5 L904.4 424.5 L908.4 454.5 L911.4 474.5 L915.4 474.5 L918.4 454.5 L922.4 424.5 L927.4 389.5 L932.9 354.5 L940.4 325.5 L951.4 313.5 L967.4 309.5 L967.4 295.5Z" fill="url(#g100)" opacity="0.8" filter="url(#b4)"/>
<path d="M875.4 295.5 L875.4 309.5 L886.4 313.5 L894.4 325.5 L898.9 351.5 L902.9 379.5 L906.4 407.5 L909.4 429.5 L911.9 445.5 L914.9 445.5 L917.4 429.5 L920.4 407.5 L923.9 379.5 L927.9 351.5 L932.4 325.5 L940.4 313.5 L951.4 309.5 L951.4 295.5Z" fill="url(#g101)" opacity="0.95" filter="url(#b3)"/>
<path d="M884.4 295.5 L884.4 309.5 L892.9 313.5 L899.4 325.5 L902.9 345.5 L905.9 365.5 L908.9 385.5 L911.9 401.5 L914.9 401.5 L917.9 385.5 L920.9 365.5 L923.9 345.5 L927.4 325.5 L933.9 313.5 L942.4 309.5 L942.4 295.5Z" fill="url(#g102)" opacity="0.95" filter="url(#b2)"/>
<g mask="url(#m103)" opacity="0.3"><rect x="849.5" y="309.5" width="127.7" height="130" filter="url(#stL)"/></g>
</g>
<path d="M849.5 309.5 V500.2 H977.2 V309.5" fill="none" stroke="#0d0d0d" stroke-width="2.4"/>
<g clip-path="url(#c105)">
<rect x="714" y="505.9" width="126.8" height="389.6" fill="#fffaf0"/>
<rect x="714" y="505.9" width="126.8" height="120" fill="url(#g106)"/>
<path d="M725.4 491.9 L725.4 505.9 L742.4 509.9 L753.4 523.9 L761.4 560.9 L766.4 615.9 L770.4 685.9 L773.9 760.9 L780.9 760.9 L784.4 685.9 L788.4 615.9 L793.4 560.9 L801.4 523.9 L812.4 509.9 L829.4 505.9 L829.4 491.9Z" fill="url(#g107)" opacity="0.75" filter="url(#b6)"/>
<path d="M743.4 491.9 L743.4 505.9 L752.4 508.9 L760.4 517.9 L765.4 533.9 L769.4 553.9 L773.4 577.9 L781.4 577.9 L785.4 553.9 L789.4 533.9 L794.4 517.9 L802.4 508.9 L811.4 505.9 L811.4 491.9Z" fill="url(#g108)" opacity="0.9" filter="url(#b4)"/>
<g mask="url(#m109)" opacity="0.24"><rect x="714" y="505.9" width="126.8" height="160" filter="url(#stO)"/></g>
<g mask="url(#m111)" opacity="0.3"><rect x="714" y="505.9" width="126.8" height="160" filter="url(#stL)"/></g>
</g>
<rect x="714" y="505.9" width="126.8" height="389.6" fill="none" stroke="#0d0d0d" stroke-width="2.4"/>
<g clip-path="url(#c113)">
<rect x="849.5" y="505.9" width="127.7" height="389.6" fill="#fffaf0"/>
<rect x="849.5" y="505.9" width="127.7" height="120" fill="url(#g114)"/>
<path d="M861.4 491.9 L861.4 505.9 L878.4 509.9 L889.4 523.9 L897.4 560.9 L902.4 615.9 L906.4 685.9 L909.9 760.9 L916.9 760.9 L920.4 685.9 L924.4 615.9 L929.4 560.9 L937.4 523.9 L948.4 509.9 L965.4 505.9 L965.4 491.9Z" fill="url(#g115)" opacity="0.75" filter="url(#b6)"/>
<path d="M879.4 491.9 L879.4 505.9 L888.4 508.9 L896.4 517.9 L901.4 533.9 L905.4 553.9 L909.4 577.9 L917.4 577.9 L921.4 553.9 L925.4 533.9 L930.4 517.9 L938.4 508.9 L947.4 505.9 L947.4 491.9Z" fill="url(#g116)" opacity="0.9" filter="url(#b4)"/>
<g mask="url(#m117)" opacity="0.24"><rect x="849.5" y="505.9" width="127.7" height="160" filter="url(#stO)"/></g>
<g mask="url(#m119)" opacity="0.3"><rect x="849.5" y="505.9" width="127.7" height="160" filter="url(#stL)"/></g>
</g>
<rect x="849.5" y="505.9" width="127.7" height="389.6" fill="none" stroke="#0d0d0d" stroke-width="2.4"/>
<g clip-path="url(#c121)">
<rect x="714" y="900.5" width="126.8" height="243" fill="#fffaf0"/>
<rect x="714" y="900.5" width="126.8" height="70" fill="url(#g122)"/>
<path d="M729.4 886.5 L729.4 900.5 L745.4 904.5 L756.4 916.5 L763.4 950.5 L767.9 995.5 L771.4 1040.5 L774.4 1080.5 L780.4 1080.5 L783.4 1040.5 L786.9 995.5 L791.4 950.5 L798.4 916.5 L809.4 904.5 L825.4 900.5 L825.4 886.5Z" fill="url(#g123)" opacity="0.75" filter="url(#b6)"/>
<path d="M746.4 886.5 L746.4 900.5 L755.4 903.5 L762.9 910.5 L767.4 922.5 L770.9 936.5 L774.4 952.5 L780.4 952.5 L783.9 936.5 L787.4 922.5 L791.9 910.5 L799.4 903.5 L808.4 900.5 L808.4 886.5Z" fill="url(#g124)" opacity="0.9" filter="url(#b4)"/>
<g mask="url(#m125)" opacity="0.24"><rect x="714" y="900.5" width="126.8" height="100" filter="url(#stO)"/></g>
<g mask="url(#m127)" opacity="0.3"><rect x="714" y="900.5" width="126.8" height="100" filter="url(#stL)"/></g>
</g>
<rect x="714" y="900.5" width="126.8" height="243" fill="none" stroke="#0d0d0d" stroke-width="2.4"/>
<g clip-path="url(#c129)">
<rect x="849.5" y="900.5" width="127.7" height="243" fill="#fffaf0"/>
<rect x="849.5" y="900.5" width="127.7" height="70" fill="url(#g130)"/>
<path d="M865.4 886.5 L865.4 900.5 L881.4 904.5 L892.4 916.5 L899.4 950.5 L903.9 995.5 L907.4 1040.5 L910.4 1080.5 L916.4 1080.5 L919.4 1040.5 L922.9 995.5 L927.4 950.5 L934.4 916.5 L945.4 904.5 L961.4 900.5 L961.4 886.5Z" fill="url(#g131)" opacity="0.75" filter="url(#b6)"/>
<path d="M882.4 886.5 L882.4 900.5 L891.4 903.5 L898.9 910.5 L903.4 922.5 L906.9 936.5 L910.4 952.5 L916.4 952.5 L919.9 936.5 L923.4 922.5 L927.9 910.5 L935.4 903.5 L944.4 900.5 L944.4 886.5Z" fill="url(#g132)" opacity="0.9" filter="url(#b4)"/>
<g mask="url(#m133)" opacity="0.24"><rect x="849.5" y="900.5" width="127.7" height="100" filter="url(#stO)"/></g>
<g mask="url(#m135)" opacity="0.3"><rect x="849.5" y="900.5" width="127.7" height="100" filter="url(#stL)"/></g>
</g>
<rect x="849.5" y="900.5" width="127.7" height="243" fill="none" stroke="#0d0d0d" stroke-width="2.4"/>
<line x1="714" y1="1143.5" x2="714" y2="1149" stroke="#222" stroke-width="2"/>
<line x1="777.4" y1="1143.5" x2="777.4" y2="1149" stroke="#222" stroke-width="2"/>
<line x1="840.8" y1="1143.5" x2="840.8" y2="1149" stroke="#222" stroke-width="2"/>
<line x1="849.5" y1="1143.5" x2="849.5" y2="1149" stroke="#222" stroke-width="2"/>
<line x1="913.4" y1="1143.5" x2="913.4" y2="1149" stroke="#222" stroke-width="2"/>
<line x1="977.2" y1="1143.5" x2="977.2" y2="1149" stroke="#222" stroke-width="2"/>
<line x1="71" y1="1169.3" x2="192.3" y2="1169.3" stroke="#000" stroke-width="4.6"/>
<line x1="133.3" y1="1160.5" x2="133.3" y2="1178.5" stroke="#000" stroke-width="4.6"/>
<rect x="206.3" y="1164.4" width="127.7" height="10.8" fill="url(#g137)" filter="url(#soft)"/>
<text transform="translate(211.7 1194.2) scale(0.845 1)" font-size="25.6" text-anchor="middle" fill="#454545" style="stroke:#454545;stroke-width:0.45px">0</text>
<text transform="translate(337.5 1199) scale(0.845 1)" font-size="25.6" text-anchor="end" fill="#454545" style="stroke:#454545;stroke-width:0.45px">400</text>
<rect x="517.6" y="1163" width="127.6" height="10.8" fill="url(#g137)" filter="url(#soft)"/>
<text transform="translate(526.8 1197.6) scale(0.845 1)" font-size="25.6" text-anchor="middle" fill="#454545" style="stroke:#454545;stroke-width:0.45px">0</text>
<text transform="translate(653.2 1201.2) scale(0.845 1)" font-size="25.6" text-anchor="end" fill="#454545" style="stroke:#454545;stroke-width:0.45px">100</text>
<rect x="847" y="1162.5" width="126.5" height="10.5" fill="url(#g137)" filter="url(#soft)"/>
<text transform="translate(854.3 1195.6) scale(0.845 1)" font-size="25.6" text-anchor="middle" fill="#454545" style="stroke:#454545;stroke-width:0.45px">0</text>
<text transform="translate(980.8 1199.9) scale(0.845 1)" font-size="25.6" text-anchor="end" fill="#454545" style="stroke:#454545;stroke-width:0.45px">200</text>
<rect x="663.8" y="306.2" width="5.4" height="1.4" fill="#555"/>
<rect x="353" y="447.5" width="5.4" height="1.4" fill="#555"/>
<rect x="1024.3" y="304" width="246.5" height="5" fill="#8f8a92"/>
<g clip-path="url(#c138)">
<rect x="1024.3" y="308.6" width="246.5" height="191.4" fill="url(#g139)"/>
<g clip-path="url(#c140)">
<ellipse cx="1083.8" cy="307.6" rx="46" ry="6" fill="#b5d9f2" opacity="0.8" filter="url(#b3)"/>
<path d="M1047.8 294.6 L1047.8 308.6 L1052.8 312.6 L1055.3 318.6 L1061.3 347.6 L1065.3 375.6 L1068.3 404.6 L1071.3 432.6 L1074.3 461.6 L1076.8 489.6 L1078.8 504.6 L1088.8 504.6 L1090.8 489.6 L1093.3 461.6 L1096.3 432.6 L1099.3 404.6 L1102.3 375.6 L1106.3 347.6 L1112.3 318.6 L1114.8 312.6 L1119.8 308.6 L1119.8 294.6Z" fill="url(#g141)" opacity="0.9" filter="url(#b3)"/>
<path d="M1054.8 294.6 L1054.8 308.6 L1057.8 312.6 L1059.8 318.6 L1065.8 347.6 L1069.5 375.6 L1072 404.6 L1074.8 432.6 L1077.4 461.6 L1079.5 483.6 L1081.3 498.6 L1086.3 498.6 L1088.1 483.6 L1090.2 461.6 L1092.8 432.6 L1095.6 404.6 L1098.1 375.6 L1101.8 347.6 L1107.8 318.6 L1109.8 312.6 L1112.8 308.6 L1112.8 294.6Z" fill="url(#g142)" filter="url(#b2)"/>
<path d="M1066.8 294.6 L1066.8 308.6 L1069.2 318.6 L1072.8 347.6 L1075.9 375.6 L1078.1 404.6 L1080.6 432.6 L1082.3 450.6 L1085.3 450.6 L1087 432.6 L1089.5 404.6 L1091.7 375.6 L1094.8 347.6 L1098.4 318.6 L1100.8 308.6 L1100.8 294.6Z" fill="url(#g143)" filter="url(#b2)"/>
<ellipse cx="1210.6" cy="307.6" rx="46" ry="6" fill="#b5d9f2" opacity="0.8" filter="url(#b3)"/>
<path d="M1174.6 294.6 L1174.6 308.6 L1179.6 312.6 L1182.1 318.6 L1188.1 347.6 L1192.1 375.6 L1195.1 404.6 L1198.1 432.6 L1201.1 461.6 L1203.6 489.6 L1205.6 504.6 L1215.6 504.6 L1217.6 489.6 L1220.1 461.6 L1223.1 432.6 L1226.1 404.6 L1229.1 375.6 L1233.1 347.6 L1239.1 318.6 L1241.6 312.6 L1246.6 308.6 L1246.6 294.6Z" fill="url(#g144)" opacity="0.9" filter="url(#b3)"/>
<path d="M1181.6 294.6 L1181.6 308.6 L1184.6 312.6 L1186.6 318.6 L1192.6 347.6 L1196.3 375.6 L1198.8 404.6 L1201.6 432.6 L1204.2 461.6 L1206.3 483.6 L1208.1 498.6 L1213.1 498.6 L1214.9 483.6 L1217 461.6 L1219.6 432.6 L1222.4 404.6 L1224.9 375.6 L1228.6 347.6 L1234.6 318.6 L1236.6 312.6 L1239.6 308.6 L1239.6 294.6Z" fill="url(#g145)" filter="url(#b2)"/>
<path d="M1193.6 294.6 L1193.6 308.6 L1196 318.6 L1199.6 347.6 L1202.7 375.6 L1204.9 404.6 L1207.4 432.6 L1209.1 450.6 L1212.1 450.6 L1213.8 432.6 L1216.3 404.6 L1218.5 375.6 L1221.6 347.6 L1225.2 318.6 L1227.6 308.6 L1227.6 294.6Z" fill="url(#g146)" filter="url(#b2)"/>
<g mask="url(#m147)" opacity="0.3"><rect x="1024.3" y="308.6" width="246.5" height="114.8" filter="url(#stB)"/></g>
<g mask="url(#m149)" opacity="0.25"><rect x="1024.3" y="308.6" width="246.5" height="191.4" filter="url(#stD)"/></g>
</g>
<rect x="1024.3" y="505.8" width="246.5" height="390.8" fill="url(#g151)"/>
<g clip-path="url(#c152)">
<rect x="1021.8" y="507.8" width="124" height="16" fill="#7fbfea" opacity="0.35" filter="url(#bh)"/>
<path d="M1068.8 491.8 L1068.8 505.8 L1071.3 525.8 L1072.8 585.8 L1073.8 665.8 L1074.3 745.8 L1074.8 825.8 L1074.8 897.8 L1092.8 897.8 L1092.8 825.8 L1093.3 745.8 L1093.8 665.8 L1094.8 585.8 L1096.3 525.8 L1098.8 505.8 L1098.8 491.8Z" fill="url(#g153)" opacity="0.85" filter="url(#b3)"/>
<path d="M1075.3 491.8 L1075.3 505.8 L1076.6 525.8 L1077.8 585.8 L1079.2 665.8 L1080 745.8 L1080.4 825.8 L1080.6 897.8 L1087 897.8 L1087.2 825.8 L1087.6 745.8 L1088.4 665.8 L1089.8 585.8 L1091 525.8 L1092.3 505.8 L1092.3 491.8Z" fill="url(#g154)" filter="url(#b2)"/>
<rect x="1148.6" y="507.8" width="124" height="16" fill="#7fbfea" opacity="0.35" filter="url(#bh)"/>
<path d="M1195.6 491.8 L1195.6 505.8 L1198.1 525.8 L1199.6 585.8 L1200.6 665.8 L1201.1 745.8 L1201.6 825.8 L1201.6 897.8 L1219.6 897.8 L1219.6 825.8 L1220.1 745.8 L1220.6 665.8 L1221.6 585.8 L1223.1 525.8 L1225.6 505.8 L1225.6 491.8Z" fill="url(#g155)" opacity="0.85" filter="url(#b3)"/>
<path d="M1202.1 491.8 L1202.1 505.8 L1203.4 525.8 L1204.6 585.8 L1206 665.8 L1206.8 745.8 L1207.2 825.8 L1207.4 897.8 L1213.8 897.8 L1214 825.8 L1214.4 745.8 L1215.2 665.8 L1216.6 585.8 L1217.8 525.8 L1219.1 505.8 L1219.1 491.8Z" fill="url(#g156)" filter="url(#b2)"/>
<g mask="url(#m157)" opacity="0.3"><rect x="1024.3" y="505.8" width="246.5" height="234.5" filter="url(#stB)"/></g>
<g mask="url(#m159)" opacity="0.25"><rect x="1024.3" y="505.8" width="246.5" height="390.8" filter="url(#stD)"/></g>
</g>
<rect x="1024.3" y="904.3" width="246.5" height="246" fill="url(#g161)"/>
<g clip-path="url(#c162)">
<rect x="1023.8" y="904.3" width="120" height="9" fill="#7fbfea" opacity="0.3" filter="url(#bh)"/>
<path d="M1065.8 890.3 L1065.8 904.3 L1069.8 910.3 L1072.8 944.3 L1073.8 994.3 L1074.3 1054.3 L1074.8 1104.3 L1074.8 1150.3 L1092.8 1150.3 L1092.8 1104.3 L1093.3 1054.3 L1093.8 994.3 L1094.8 944.3 L1097.8 910.3 L1101.8 904.3 L1101.8 890.3Z" fill="url(#g163)" opacity="0.85" filter="url(#b3)"/>
<path d="M1072.3 890.3 L1072.3 904.3 L1074.8 910.3 L1077.8 944.3 L1079.4 994.3 L1080.2 1054.3 L1080.6 1104.3 L1080.8 1150.3 L1086.8 1150.3 L1087 1104.3 L1087.4 1054.3 L1088.2 994.3 L1089.8 944.3 L1092.8 910.3 L1095.3 904.3 L1095.3 890.3Z" fill="url(#g164)" filter="url(#b2)"/>
<path d="M1076.3 890.3 L1076.3 904.3 L1077.8 914.3 L1079.8 934.3 L1081.8 954.3 L1083 966.3 L1084.6 966.3 L1085.8 954.3 L1087.8 934.3 L1089.8 914.3 L1091.3 904.3 L1091.3 890.3Z" fill="url(#g165)" filter="url(#b2)"/>
<rect x="1150.6" y="904.3" width="120" height="9" fill="#7fbfea" opacity="0.3" filter="url(#bh)"/>
<path d="M1192.6 890.3 L1192.6 904.3 L1196.6 910.3 L1199.6 944.3 L1200.6 994.3 L1201.1 1054.3 L1201.6 1104.3 L1201.6 1150.3 L1219.6 1150.3 L1219.6 1104.3 L1220.1 1054.3 L1220.6 994.3 L1221.6 944.3 L1224.6 910.3 L1228.6 904.3 L1228.6 890.3Z" fill="url(#g166)" opacity="0.85" filter="url(#b3)"/>
<path d="M1199.1 890.3 L1199.1 904.3 L1201.6 910.3 L1204.6 944.3 L1206.2 994.3 L1207 1054.3 L1207.4 1104.3 L1207.6 1150.3 L1213.6 1150.3 L1213.8 1104.3 L1214.2 1054.3 L1215 994.3 L1216.6 944.3 L1219.6 910.3 L1222.1 904.3 L1222.1 890.3Z" fill="url(#g167)" filter="url(#b2)"/>
<path d="M1203.1 890.3 L1203.1 904.3 L1204.6 914.3 L1206.6 934.3 L1208.6 954.3 L1209.8 966.3 L1211.4 966.3 L1212.6 954.3 L1214.6 934.3 L1216.6 914.3 L1218.1 904.3 L1218.1 890.3Z" fill="url(#g168)" filter="url(#b2)"/>
<g mask="url(#m169)" opacity="0.3"><rect x="1024.3" y="904.3" width="246.5" height="147.6" filter="url(#stB)"/></g>
<g mask="url(#m171)" opacity="0.25"><rect x="1024.3" y="904.3" width="246.5" height="246" filter="url(#stD)"/></g>
</g>
<rect x="1024.3" y="499.6" width="246.5" height="6.4" fill="#0e1c3c"/>
<rect x="1024.3" y="895.8" width="246.5" height="2.6" fill="#15305f"/>
<rect x="1024.3" y="898.2" width="246.5" height="6.2" fill="#a9acb3"/>
<rect x="1024.3" y="1148" width="246.5" height="2.6" fill="#16294f"/>
<rect x="1024.3" y="308.6" width="2.2" height="841.9" fill="#0f2a5e" opacity="0.85"/>
<rect x="1142.4" y="308.6" width="3" height="841.9" fill="#0f2a5e" opacity="0.85"/>
<rect x="1149.2" y="308.6" width="2.2" height="841.9" fill="#0f2a5e" opacity="0.85"/>
<rect x="1267.8" y="308.6" width="3" height="841.9" fill="#0f2a5e" opacity="0.85"/>
<rect x="1145.4" y="304" width="3.8" height="850.5" fill="#f1f7fd"/>
</g>
<rect x="1024.8" y="1150.3" width="2.4" height="4" fill="#5b6b86"/>
<rect x="1082.6" y="1150.3" width="2.4" height="4" fill="#5b6b86"/>
<rect x="1141.8" y="1150.3" width="2.4" height="4" fill="#5b6b86"/>
<rect x="1149.8" y="1150.3" width="2.4" height="4" fill="#5b6b86"/>
<rect x="1209.4" y="1150.3" width="2.4" height="4" fill="#5b6b86"/>
<rect x="1022" y="1163" width="250" height="1" fill="#ededed"/>
<rect x="1128" y="1167" width="125.5" height="13" fill="url(#g173)" filter="url(#soft)"/>
<text x="1141.4" y="1211.7" font-size="30.5" text-anchor="middle">25</text>
<text x="1244.7" y="1211.7" font-size="30.5" text-anchor="middle">175</text>
<text x="1411.3" y="1103.3" font-size="31.2" text-anchor="middle">Center</text>
<line x1="1343" y1="1116.7" x2="1471" y2="1116.7" stroke="#000" stroke-width="4.6"/>
<line x1="1405.3" y1="1111.5" x2="1405.3" y2="1126.2" stroke="#000" stroke-width="4.6"/>
<text x="1296" y="1162.5" font-size="31.5">-3.0kb</text>
<text x="1426.5" y="1162.5" font-size="31.1">+3.0kb</text>
<text x="1632" y="233.5" font-size="30.5" text-anchor="middle">MDA231</text>
<text x="1930.8" y="233.5" font-size="30.5" text-anchor="middle">MCF7</text>
<text x="1694.5" y="301" font-size="30.5" text-anchor="middle">sgMLL3</text>
<line x1="1616.3" y1="315" x2="1744.2" y2="315" stroke="#000" stroke-width="4.6"/>
<text x="1556.3" y="343.5" font-size="30.5" text-anchor="middle">sgNT</text>
<text x="1648" y="346.5" font-size="30.5" text-anchor="middle">#3</text>
<text x="1737.3" y="346.5" font-size="30.5" text-anchor="middle">#9</text>
<text x="1998.8" y="301" font-size="30.5" text-anchor="middle">sgMLL3</text>
<line x1="1918" y1="315" x2="2046" y2="315" stroke="#000" stroke-width="4.6"/>
<text x="1860.5" y="343.5" font-size="30.5" text-anchor="middle">sgNT</text>
<text x="1952" y="346.5" font-size="30.5" text-anchor="middle">#3</text>
<text x="2041.5" y="346.5" font-size="30.5" text-anchor="middle">#9</text>
<text x="2118.5" y="296" font-size="30.5" text-anchor="middle">Mr</text>
<text x="2121.5" y="332" font-size="30.5" text-anchor="middle">(kDa)</text>
<rect x="1505.2" y="361.3" width="269" height="56.1" fill="#e5e5e5"/>
<g clip-path="url(#c177)">
<path d="M1512 390.3 L1517.6 388.1 L1523.3 387.3 L1528.9 386.9 L1534.6 386.7 L1540.2 386.6 L1545.9 386.6 L1551.5 386.6 L1557.1 386.6 L1562.8 386.6 L1568.4 386.7 L1574.1 386.9 L1579.7 387.3 L1585.4 388.1 L1591 390.3 L1591 390.3 L1585.4 392.5 L1579.7 393.3 L1574.1 393.7 L1568.4 393.9 L1562.8 394 L1557.1 394 L1551.5 394.1 L1545.9 394 L1540.2 394 L1534.6 393.9 L1528.9 393.7 L1523.3 393.3 L1517.6 392.5 L1512 390.3Z" fill="#2e2e2e" opacity="0.95" filter="url(#bb)"/>
<path d="M1594 390.1 L1599.2 388 L1604.4 387.3 L1609.6 386.9 L1614.9 386.7 L1620.1 386.6 L1625.3 386.6 L1630.5 386.6 L1635.7 386.6 L1640.9 386.6 L1646.1 386.7 L1651.4 386.9 L1656.6 387.3 L1661.8 388 L1667 390.1 L1667 390.1 L1661.8 392.2 L1656.6 392.9 L1651.4 393.3 L1646.1 393.5 L1640.9 393.6 L1635.7 393.6 L1630.5 393.6 L1625.3 393.6 L1620.1 393.6 L1614.9 393.5 L1609.6 393.3 L1604.4 392.9 L1599.2 392.2 L1594 390.1Z" fill="#333" opacity="0.92" filter="url(#bb)"/>
<path d="M1675 390.8 L1680 388.7 L1685 387.8 L1690 387.2 L1695 386.8 L1700 386.7 L1705 386.7 L1710 386.7 L1715 386.7 L1720 386.7 L1725 386.8 L1730 386.8 L1735 387 L1740 387.2 L1745 387.8 L1745 387.8 L1740 388.8 L1735 389.5 L1730 390 L1725 390.6 L1720 391 L1715 391.5 L1710 391.9 L1705 392.4 L1700 392.8 L1695 393.1 L1690 393.1 L1685 393 L1680 392.5 L1675 390.8Z" fill="#3a3a3a" opacity="0.85" filter="url(#bb)"/>
<ellipse cx="1531.5" cy="379.4" rx="3.6" ry="1.4" fill="#222" transform="rotate(18 1531.5 379.4)" filter="url(#soft)"/>
<ellipse cx="1759.3" cy="391.5" rx="2" ry="1" fill="#444" filter="url(#soft)"/>
</g>
<rect x="1505.2" y="361.3" width="269" height="56.1" fill="none" stroke="#000" stroke-width="3.1" stroke-linejoin="round"/>
<rect x="1505.2" y="431.6" width="269" height="57.7" fill="url(#g175)"/>
<g clip-path="url(#c178)">
<path d="M1509 461.3 L1515.3 459.5 L1521.6 458.9 L1527.9 458.6 L1534.1 458.4 L1540.4 458.3 L1546.7 458.3 L1553 458.3 L1559.3 458.3 L1565.6 458.3 L1571.9 458.4 L1578.1 458.6 L1584.4 458.9 L1590.7 459.5 L1597 461.3 L1597 461.3 L1590.7 463.1 L1584.4 463.7 L1578.1 464 L1571.9 464.2 L1565.6 464.3 L1559.3 464.3 L1553 464.3 L1546.7 464.3 L1540.4 464.3 L1534.1 464.2 L1527.9 464 L1521.6 463.7 L1515.3 463.1 L1509 461.3Z" fill="#1e1e1e" opacity="0.95" filter="url(#bb)"/>
<path d="M1592 460.8 L1598.1 459.1 L1604.1 458.6 L1610.2 458.3 L1616.3 458.1 L1622.4 458 L1628.4 458 L1634.5 458 L1640.6 458 L1646.6 458 L1652.7 458.1 L1658.8 458.3 L1664.9 458.6 L1670.9 459.1 L1677 460.8 L1677 460.8 L1670.9 462.5 L1664.9 463 L1658.8 463.3 L1652.7 463.5 L1646.6 463.6 L1640.6 463.6 L1634.5 463.6 L1628.4 463.6 L1622.4 463.6 L1616.3 463.5 L1610.2 463.3 L1604.1 463 L1598.1 462.5 L1592 460.8Z" fill="#1e1e1e" opacity="0.95" filter="url(#bb)"/>
<path d="M1672 460.8 L1676.6 459 L1681.3 458.3 L1685.9 457.9 L1690.6 457.6 L1695.2 457.4 L1699.9 457.3 L1704.5 457.3 L1709.1 457.2 L1713.8 457.2 L1718.4 457.2 L1723.1 457.3 L1727.7 457.4 L1732.4 457.7 L1737 458.8 L1737 458.8 L1732.4 460.1 L1727.7 460.8 L1723.1 461.2 L1718.4 461.5 L1713.8 461.8 L1709.1 462.1 L1704.5 462.3 L1699.9 462.5 L1695.2 462.7 L1690.6 462.9 L1685.9 462.9 L1681.3 462.7 L1676.6 462.3 L1672 460.8Z" fill="#262626" opacity="0.9" filter="url(#bb)"/>
<path d="M1730 459.5 L1731.8 458.8 L1733.6 458.5 L1735.4 458.4 L1737.1 458.3 L1738.9 458.3 L1740.7 458.3 L1742.5 458.3 L1744.3 458.3 L1746.1 458.3 L1747.9 458.3 L1749.6 458.4 L1751.4 458.5 L1753.2 458.8 L1755 459.5 L1755 459.5 L1753.2 460.2 L1751.4 460.5 L1749.6 460.6 L1747.9 460.7 L1746.1 460.7 L1744.3 460.7 L1742.5 460.7 L1740.7 460.7 L1738.9 460.7 L1737.1 460.7 L1735.4 460.6 L1733.6 460.5 L1731.8 460.2 L1730 459.5Z" fill="#444" opacity="0.7" filter="url(#bs)"/>
<path d="M1748 464 L1749.9 463 L1751.7 462.7 L1753.6 462.4 L1755.4 462.3 L1757.3 462.2 L1759.1 462.1 L1761 462 L1762.9 461.9 L1764.7 461.9 L1766.6 461.8 L1768.4 461.9 L1770.3 462 L1772.1 462.2 L1774 463 L1774 463 L1772.1 464 L1770.3 464.3 L1768.4 464.6 L1766.6 464.7 L1764.7 464.8 L1762.9 464.9 L1761 465 L1759.1 465.1 L1757.3 465.1 L1755.4 465.2 L1753.6 465.1 L1751.7 465 L1749.9 464.8 L1748 464Z" fill="#555" opacity="0.75" filter="url(#bs)"/>
<path d="M1736 467.5 L1737.5 466.9 L1739 466.8 L1740.5 466.8 L1742 466.8 L1743.5 466.9 L1745 467.1 L1746.5 467.2 L1748 467.3 L1749.5 467.5 L1751 467.7 L1752.5 467.9 L1754 468.2 L1755.5 468.6 L1757 469.5 L1757 469.5 L1755.5 470.1 L1754 470.2 L1752.5 470.2 L1751 470.2 L1749.5 470.1 L1748 469.9 L1746.5 469.8 L1745 469.7 L1743.5 469.5 L1742 469.3 L1740.5 469.1 L1739 468.8 L1737.5 468.4 L1736 467.5Z" fill="#666" opacity="0.7" filter="url(#bs)"/>
</g>
<rect x="1505.2" y="431.6" width="269" height="57.7" fill="none" stroke="#000" stroke-width="3.1" stroke-linejoin="round"/>
<rect x="1505.2" y="500.4" width="269" height="57.9" fill="#dfdfdf"/>
<g clip-path="url(#c179)">
<path d="M1503 530.4 L1509.4 526.8 L1515.9 525.6 L1522.3 525 L1528.7 524.6 L1535.1 524.5 L1541.6 524.4 L1548 524.4 L1554.4 524.4 L1560.9 524.5 L1567.3 524.6 L1573.7 525 L1580.1 525.6 L1586.6 526.8 L1593 530.4 L1593 530.4 L1586.6 534 L1580.1 535.2 L1573.7 535.8 L1567.3 536.2 L1560.9 536.3 L1554.4 536.4 L1548 536.4 L1541.6 536.4 L1535.1 536.3 L1528.7 536.2 L1522.3 535.8 L1515.9 535.2 L1509.4 534 L1503 530.4Z" fill="#050505" filter="url(#bb)"/>
<path d="M1584 531 L1590 528.2 L1596 527.2 L1602 526.7 L1608 526.4 L1614 526.4 L1620 526.5 L1626 526.7 L1632 526.8 L1638 527 L1644 527.2 L1650 527.6 L1656 528.1 L1662 528.9 L1668 531 L1668 531 L1662 533.1 L1656 533.9 L1650 534.4 L1644 534.8 L1638 535 L1632 535.2 L1626 535.3 L1620 535.5 L1614 535.6 L1608 535.6 L1602 535.3 L1596 534.8 L1590 533.8 L1584 531Z" fill="#080808" filter="url(#bb)"/>
<path d="M1669 532.3 L1674.6 529.3 L1680.1 528.2 L1685.7 527.6 L1691.3 527.2 L1696.9 527.1 L1702.4 527.2 L1708 527.4 L1713.6 527.5 L1719.1 527.7 L1724.7 527.9 L1730.3 528.2 L1735.9 528.6 L1741.4 529.1 L1747 530.3 L1747 530.3 L1741.4 531.7 L1735.9 532.6 L1730.3 533.2 L1724.7 533.8 L1719.1 534.3 L1713.6 534.8 L1708 535.2 L1702.4 535.7 L1696.9 536.1 L1691.3 536.3 L1685.7 536.2 L1680.1 535.8 L1674.6 535 L1669 532.3Z" fill="#0a0a0a" filter="url(#bb)"/>
</g>
<rect x="1505.2" y="500.4" width="269" height="57.9" fill="none" stroke="#000" stroke-width="3.1" stroke-linejoin="round"/>
<rect x="1505.2" y="568.8" width="269" height="53.8" fill="url(#g176)"/>
<g clip-path="url(#c180)">
<path d="M1509 603 L1515.2 600.4 L1521.4 599.5 L1527.6 598.9 L1533.9 598.5 L1540.1 598.3 L1546.3 598.2 L1552.5 598 L1558.7 597.9 L1564.9 597.9 L1571.1 597.9 L1577.4 598 L1583.6 598.4 L1589.8 599.1 L1596 601.5 L1596 601.5 L1589.8 604.2 L1583.6 605.1 L1577.4 605.7 L1571.1 606.1 L1564.9 606.3 L1558.7 606.4 L1552.5 606.5 L1546.3 606.7 L1540.1 606.7 L1533.9 606.7 L1527.6 606.6 L1521.4 606.2 L1515.2 605.5 L1509 603Z" fill="#5c5c5c" opacity="0.95" filter="url(#bb)"/>
<path d="M1592 601.1 L1598.2 598.5 L1604.4 597.6 L1610.6 597 L1616.9 596.7 L1623.1 596.5 L1629.3 596.4 L1635.5 596.4 L1641.7 596.3 L1647.9 596.2 L1654.1 596.3 L1660.4 596.5 L1666.6 596.9 L1672.8 597.6 L1679 600.1 L1679 600.1 L1672.8 602.7 L1666.6 603.6 L1660.4 604.2 L1654.1 604.5 L1647.9 604.7 L1641.7 604.8 L1635.5 604.9 L1629.3 604.9 L1623.1 605 L1616.9 604.9 L1610.6 604.7 L1604.4 604.3 L1598.2 603.6 L1592 601.1Z" fill="#5e5e5e" opacity="0.95" filter="url(#bb)"/>
<path d="M1676 600.5 L1682 597.8 L1688 596.7 L1694 596 L1700 595.5 L1706 595.3 L1712 595.2 L1718 595.1 L1724 595.1 L1730 595 L1736 595 L1742 595.1 L1748 595.3 L1754 595.6 L1760 596.5 L1760 596.5 L1754 598 L1748 598.9 L1742 599.6 L1736 600.3 L1730 600.8 L1724 601.4 L1718 601.9 L1712 602.4 L1706 602.9 L1700 603.2 L1694 603.3 L1688 603.1 L1682 602.6 L1676 600.5Z" fill="#606060" opacity="0.95" filter="url(#bb)"/>
</g>
<rect x="1505.2" y="568.8" width="269" height="53.8" fill="none" stroke="#000" stroke-width="3.1" stroke-linejoin="round"/>
<rect x="1505.2" y="635.8" width="269" height="60.6" fill="#e5e5e5"/>
<g clip-path="url(#c181)">
<path d="M1512 670 L1517.6 668.1 L1523.1 667.4 L1528.7 667.1 L1534.3 666.9 L1539.9 666.8 L1545.4 666.8 L1551 666.8 L1556.6 666.8 L1562.1 666.8 L1567.7 666.9 L1573.3 667.1 L1578.9 667.4 L1584.4 668.1 L1590 670 L1590 670 L1584.4 671.9 L1578.9 672.6 L1573.3 672.9 L1567.7 673.1 L1562.1 673.2 L1556.6 673.2 L1551 673.2 L1545.4 673.2 L1539.9 673.2 L1534.3 673.1 L1528.7 672.9 L1523.1 672.6 L1517.6 671.9 L1512 670Z" fill="#4a4a4a" opacity="0.9" filter="url(#bb)"/>
<path d="M1600 670 L1605.2 668.2 L1610.4 667.6 L1615.6 667.3 L1620.9 667.1 L1626.1 667.2 L1631.3 667.4 L1636.5 667.6 L1641.7 667.8 L1646.9 668 L1652.1 668.2 L1657.4 668.5 L1662.6 668.9 L1667.8 669.3 L1673 670 L1673 670 L1667.8 670.7 L1662.6 671.1 L1657.4 671.5 L1652.1 671.8 L1646.9 672 L1641.7 672.2 L1636.5 672.4 L1631.3 672.6 L1626.1 672.8 L1620.9 672.9 L1615.6 672.7 L1610.4 672.4 L1605.2 671.8 L1600 670Z" fill="#4e4e4e" opacity="0.85" filter="url(#bb)"/>
<path d="M1688 669.6 L1690.3 668.4 L1692.6 667.9 L1694.9 667.5 L1697.1 667.2 L1699.4 667.1 L1701.7 667.1 L1704 667.1 L1706.3 667.1 L1708.6 667.1 L1710.9 667.2 L1713.1 667.5 L1715.4 667.9 L1717.7 668.4 L1720 669.6 L1720 669.6 L1717.7 670.8 L1715.4 671.3 L1713.1 671.7 L1710.9 672 L1708.6 672.1 L1706.3 672.1 L1704 672.1 L1701.7 672.1 L1699.4 672.1 L1697.1 672 L1694.9 671.7 L1692.6 671.3 L1690.3 670.8 L1688 669.6Z" fill="#484848" opacity="0.85" filter="url(#bb)"/>
<path d="M1700 669.5 L1704.1 668.4 L1708.3 667.9 L1712.4 667.5 L1716.6 667.2 L1720.7 666.9 L1724.9 666.7 L1729 666.5 L1733.1 666.3 L1737.3 666.1 L1741.4 665.9 L1745.6 665.8 L1749.7 665.7 L1753.9 665.8 L1758 666.5 L1758 666.5 L1753.9 667.6 L1749.7 668.1 L1745.6 668.5 L1741.4 668.8 L1737.3 669.1 L1733.1 669.3 L1729 669.5 L1724.9 669.7 L1720.7 669.9 L1716.6 670.1 L1712.4 670.2 L1708.3 670.3 L1704.1 670.2 L1700 669.5Z" fill="#888" opacity="0.6" filter="url(#bs)"/>
</g>
<rect x="1505.2" y="635.8" width="269" height="60.6" fill="none" stroke="#000" stroke-width="3.1" stroke-linejoin="round"/>
<rect x="1810.9" y="362.3" width="268.5" height="56.6" fill="#e6e6e6"/>
<g clip-path="url(#c182)">
<path d="M1816 386 L1821.5 384.1 L1827 383.4 L1832.5 383.1 L1838 382.9 L1843.5 382.8 L1849 382.8 L1854.5 382.8 L1860 382.8 L1865.5 382.8 L1871 382.9 L1876.5 383.1 L1882 383.4 L1887.5 384.1 L1893 386 L1893 386 L1887.5 387.9 L1882 388.6 L1876.5 388.9 L1871 389.1 L1865.5 389.2 L1860 389.2 L1854.5 389.2 L1849 389.2 L1843.5 389.2 L1838 389.1 L1832.5 388.9 L1827 388.6 L1821.5 387.9 L1816 386Z" fill="#2e2e2e" opacity="0.92" filter="url(#bb)"/>
<path d="M1898 386 L1903.6 383.8 L1909.1 383 L1914.7 382.6 L1920.3 382.4 L1925.9 382.3 L1931.4 382.3 L1937 382.2 L1942.6 382.3 L1948.1 382.3 L1953.7 382.4 L1959.3 382.6 L1964.9 383 L1970.4 383.8 L1976 386 L1976 386 L1970.4 388.2 L1964.9 389 L1959.3 389.4 L1953.7 389.6 L1948.1 389.7 L1942.6 389.7 L1937 389.8 L1931.4 389.7 L1925.9 389.7 L1920.3 389.6 L1914.7 389.4 L1909.1 389 L1903.6 388.2 L1898 386Z" fill="#222" opacity="0.95" filter="url(#bb)"/>
<path d="M1978 385.8 L1981.3 383.9 L1984.6 383.2 L1987.9 382.9 L1991.1 382.7 L1994.4 382.6 L1997.7 382.6 L2001 382.6 L2004.3 382.6 L2007.6 382.6 L2010.9 382.7 L2014.1 382.9 L2017.4 383.2 L2020.7 383.9 L2024 385.8 L2024 385.8 L2020.7 387.7 L2017.4 388.4 L2014.1 388.7 L2010.9 388.9 L2007.6 389 L2004.3 389 L2001 389.1 L1997.7 389 L1994.4 389 L1991.1 388.9 L1987.9 388.7 L1984.6 388.4 L1981.3 387.7 L1978 385.8Z" fill="#2e2e2e" opacity="0.9" filter="url(#bb)"/>
<path d="M2016 385.8 L2019.5 383.9 L2023 383.2 L2026.5 382.9 L2030 382.7 L2033.5 382.6 L2037 382.6 L2040.5 382.6 L2044 382.6 L2047.5 382.6 L2051 382.7 L2054.5 382.9 L2058 383.2 L2061.5 383.9 L2065 385.8 L2065 385.8 L2061.5 387.7 L2058 388.4 L2054.5 388.7 L2051 388.9 L2047.5 389 L2044 389 L2040.5 389.1 L2037 389 L2033.5 389 L2030 388.9 L2026.5 388.7 L2023 388.4 L2019.5 387.7 L2016 385.8Z" fill="#2a2a2a" opacity="0.92" filter="url(#bb)"/>
</g>
<rect x="1810.9" y="362.3" width="268.5" height="56.6" fill="none" stroke="#000" stroke-width="3.1" stroke-linejoin="round"/>
<rect x="1810.9" y="434.9" width="268.5" height="52.3" fill="url(#g176)"/>
<g clip-path="url(#c183)">
<path d="M1815 468.8 L1819.8 467.9 L1824.6 467.6 L1829.4 467.4 L1834.1 467.4 L1838.9 467.3 L1843.7 467.3 L1848.5 467.3 L1853.3 467.3 L1858.1 467.3 L1862.9 467.4 L1867.6 467.4 L1872.4 467.6 L1877.2 467.9 L1882 468.8 L1882 468.8 L1877.2 469.7 L1872.4 470 L1867.6 470.2 L1862.9 470.2 L1858.1 470.3 L1853.3 470.3 L1848.5 470.3 L1843.7 470.3 L1838.9 470.3 L1834.1 470.2 L1829.4 470.2 L1824.6 470 L1819.8 469.7 L1815 468.8Z" fill="#8e8e8e" opacity="0.8" filter="url(#bs)"/>
<path d="M1897 468.8 L1902.4 467.4 L1907.7 467 L1913.1 466.7 L1918.4 466.6 L1923.8 466.5 L1929.1 466.5 L1934.5 466.5 L1939.9 466.5 L1945.2 466.5 L1950.6 466.6 L1955.9 466.7 L1961.3 467 L1966.6 467.4 L1972 468.8 L1972 468.8 L1966.6 470.2 L1961.3 470.6 L1955.9 470.9 L1950.6 471 L1945.2 471.1 L1939.9 471.1 L1934.5 471.1 L1929.1 471.1 L1923.8 471.1 L1918.4 471 L1913.1 470.9 L1907.7 470.6 L1902.4 470.2 L1897 468.8Z" fill="#3a3a3a" opacity="0.9" filter="url(#bb)"/>
<path d="M1982 468.8 L1985.4 467.5 L1988.9 467.1 L1992.3 466.8 L1995.7 466.6 L1999.1 466.5 L2002.6 466.4 L2006 466.3 L2009.4 466.2 L2012.9 466.2 L2016.3 466.2 L2019.7 466.2 L2023.1 466.4 L2026.6 466.7 L2030 467.8 L2030 467.8 L2026.6 469.1 L2023.1 469.5 L2019.7 469.8 L2016.3 470 L2012.9 470.1 L2009.4 470.2 L2006 470.3 L2002.6 470.4 L1999.1 470.4 L1995.7 470.4 L1992.3 470.4 L1988.9 470.2 L1985.4 469.9 L1982 468.8Z" fill="#4a4a4a" opacity="0.85" filter="url(#bb)"/>
<path d="M2010 467.7 L2013.9 466.1 L2017.7 465.6 L2021.6 465.2 L2025.4 465 L2029.3 464.9 L2033.1 464.8 L2037 464.7 L2040.9 464.6 L2044.7 464.6 L2048.6 464.6 L2052.4 464.7 L2056.3 464.9 L2060.1 465.3 L2064 466.7 L2064 466.7 L2060.1 468.3 L2056.3 468.8 L2052.4 469.2 L2048.6 469.4 L2044.7 469.5 L2040.9 469.6 L2037 469.7 L2033.1 469.8 L2029.3 469.8 L2025.4 469.8 L2021.6 469.7 L2017.7 469.5 L2013.9 469.1 L2010 467.7Z" fill="#3a3a3a" opacity="0.9" filter="url(#bb)"/>
</g>
<rect x="1810.9" y="434.9" width="268.5" height="52.3" fill="none" stroke="#000" stroke-width="3.1" stroke-linejoin="round"/>
<rect x="1810.9" y="501.8" width="268.5" height="57.4" fill="#e0e0e0"/>
<g clip-path="url(#c184)">
<path d="M1812 534.8 L1817.4 533.3 L1822.9 532.9 L1828.3 532.7 L1833.7 532.7 L1839.1 532.8 L1844.6 532.9 L1850 533 L1855.4 533.2 L1860.9 533.4 L1866.3 533.6 L1871.7 533.9 L1877.1 534.3 L1882.6 535 L1888 536.8 L1888 536.8 L1882.6 538.3 L1877.1 538.7 L1871.7 538.9 L1866.3 538.9 L1860.9 538.8 L1855.4 538.7 L1850 538.5 L1844.6 538.4 L1839.1 538.2 L1833.7 538 L1828.3 537.7 L1822.9 537.3 L1817.4 536.6 L1812 534.8Z" fill="#3a3a3a" opacity="0.9" filter="url(#bb)"/>
<path d="M1896 536.6 L1901.6 534.7 L1907.3 534 L1912.9 533.7 L1918.6 533.5 L1924.2 533.4 L1929.9 533.4 L1935.5 533.4 L1941.1 533.4 L1946.8 533.4 L1952.4 533.5 L1958.1 533.7 L1963.7 534 L1969.4 534.7 L1975 536.6 L1975 536.6 L1969.4 538.5 L1963.7 539.2 L1958.1 539.5 L1952.4 539.7 L1946.8 539.8 L1941.1 539.8 L1935.5 539.9 L1929.9 539.8 L1924.2 539.8 L1918.6 539.7 L1912.9 539.5 L1907.3 539.2 L1901.6 538.5 L1896 536.6Z" fill="#333" opacity="0.92" filter="url(#bb)"/>
<path d="M1981 537.3 L1984.1 535.2 L1987.3 534.5 L1990.4 534.1 L1993.6 533.9 L1996.7 533.8 L1999.9 533.8 L2003 533.8 L2006.1 533.8 L2009.3 533.8 L2012.4 533.9 L2015.6 534.1 L2018.7 534.5 L2021.9 535.2 L2025 537.3 L2025 537.3 L2021.9 539.4 L2018.7 540.1 L2015.6 540.5 L2012.4 540.7 L2009.3 540.8 L2006.1 540.8 L2003 540.8 L1999.9 540.8 L1996.7 540.8 L1993.6 540.7 L1990.4 540.5 L1987.3 540.1 L1984.1 539.4 L1981 537.3Z" fill="#262626" opacity="0.95" filter="url(#bb)"/>
<path d="M2018 537.8 L2021.6 535.6 L2025.1 534.8 L2028.7 534.4 L2032.3 534.2 L2035.9 534.1 L2039.4 534.1 L2043 534 L2046.6 534.1 L2050.1 534.1 L2053.7 534.2 L2057.3 534.4 L2060.9 534.8 L2064.4 535.6 L2068 537.8 L2068 537.8 L2064.4 540 L2060.9 540.8 L2057.3 541.2 L2053.7 541.4 L2050.1 541.5 L2046.6 541.5 L2043 541.5 L2039.4 541.5 L2035.9 541.5 L2032.3 541.4 L2028.7 541.2 L2025.1 540.8 L2021.6 540 L2018 537.8Z" fill="#1e1e1e" opacity="0.95" filter="url(#bb)"/>
</g>
<rect x="1810.9" y="501.8" width="268.5" height="57.4" fill="none" stroke="#000" stroke-width="3.1" stroke-linejoin="round"/>
<rect x="1810.9" y="571" width="268.5" height="56.6" fill="url(#g176)"/>
<g clip-path="url(#c185)">
<path d="M1810 601.5 L1816.4 599.4 L1822.9 598.7 L1829.3 598.3 L1835.7 598.1 L1842.1 598 L1848.6 598 L1855 598 L1861.4 598 L1867.9 598 L1874.3 598.1 L1880.7 598.3 L1887.1 598.7 L1893.6 599.4 L1900 601.5 L1900 601.5 L1893.6 603.6 L1887.1 604.3 L1880.7 604.7 L1874.3 604.9 L1867.9 605 L1861.4 605 L1855 605 L1848.6 605 L1842.1 605 L1835.7 604.9 L1829.3 604.7 L1822.9 604.3 L1816.4 603.6 L1810 601.5Z" fill="#7c7c7c" opacity="0.9" filter="url(#bb)"/>
<path d="M1893 600.5 L1899.9 598.2 L1906.9 597.4 L1913.8 596.9 L1920.7 596.6 L1927.6 596.4 L1934.6 596.3 L1941.5 596.2 L1948.4 596.2 L1955.4 596.1 L1962.3 596.2 L1969.2 596.3 L1976.1 596.7 L1983.1 597.3 L1990 599.5 L1990 599.5 L1983.1 601.8 L1976.1 602.6 L1969.2 603.1 L1962.3 603.4 L1955.4 603.6 L1948.4 603.7 L1941.5 603.8 L1934.6 603.8 L1927.6 603.9 L1920.7 603.8 L1913.8 603.7 L1906.9 603.3 L1899.9 602.7 L1893 600.5Z" fill="#727272" opacity="0.92" filter="url(#bb)"/>
<path d="M1980 599 L1986.4 596.6 L1992.9 595.7 L1999.3 595.1 L2005.7 594.8 L2012.1 594.6 L2018.6 594.4 L2025 594.3 L2031.4 594.2 L2037.9 594.1 L2044.3 594.1 L2050.7 594.3 L2057.1 594.6 L2063.6 595.3 L2070 597.5 L2070 597.5 L2063.6 600 L2057.1 600.9 L2050.7 601.5 L2044.3 601.8 L2037.9 602 L2031.4 602.2 L2025 602.3 L2018.6 602.4 L2012.1 602.5 L2005.7 602.5 L1999.3 602.3 L1992.9 602 L1986.4 601.3 L1980 599Z" fill="#6a6a6a" opacity="0.95" filter="url(#bb)"/>
<path d="M1810 609.5 L1816.1 607.7 L1822.1 607.1 L1828.2 606.8 L1834.3 606.6 L1840.4 606.5 L1846.4 606.5 L1852.5 606.5 L1858.6 606.5 L1864.6 606.5 L1870.7 606.6 L1876.8 606.8 L1882.9 607.1 L1888.9 607.7 L1895 609.5 L1895 609.5 L1888.9 611.3 L1882.9 611.9 L1876.8 612.2 L1870.7 612.4 L1864.6 612.5 L1858.6 612.5 L1852.5 612.5 L1846.4 612.5 L1840.4 612.5 L1834.3 612.4 L1828.2 612.2 L1822.1 611.9 L1816.1 611.3 L1810 609.5Z" fill="#8a8a8a" opacity="0.85" filter="url(#bb)"/>
<path d="M1893 609 L1899.6 607.4 L1906.1 606.8 L1912.7 606.5 L1919.3 606.4 L1925.9 606.3 L1932.4 606.3 L1939 606.2 L1945.6 606.3 L1952.1 606.3 L1958.7 606.4 L1965.3 606.5 L1971.9 606.8 L1978.4 607.4 L1985 609 L1985 609 L1978.4 610.6 L1971.9 611.2 L1965.3 611.5 L1958.7 611.6 L1952.1 611.7 L1945.6 611.7 L1939 611.8 L1932.4 611.7 L1925.9 611.7 L1919.3 611.6 L1912.7 611.5 L1906.1 611.2 L1899.6 610.6 L1893 609Z" fill="#8c8c8c" opacity="0.8" filter="url(#bb)"/>
<path d="M1988 608.3 L1993.6 606.8 L1999.1 606.3 L2004.7 606 L2010.3 605.9 L2015.9 605.8 L2021.4 605.8 L2027 605.8 L2032.6 605.8 L2038.1 605.8 L2043.7 605.9 L2049.3 606 L2054.9 606.3 L2060.4 606.8 L2066 608.3 L2066 608.3 L2060.4 609.8 L2054.9 610.3 L2049.3 610.6 L2043.7 610.7 L2038.1 610.8 L2032.6 610.8 L2027 610.8 L2021.4 610.8 L2015.9 610.8 L2010.3 610.7 L2004.7 610.6 L1999.1 610.3 L1993.6 609.8 L1988 608.3Z" fill="#808080" opacity="0.88" filter="url(#bb)"/>
</g>
<rect x="1810.9" y="571" width="268.5" height="56.6" fill="none" stroke="#000" stroke-width="3.1" stroke-linejoin="round"/>
<rect x="1810.9" y="634.8" width="268.5" height="56.1" fill="#e5e5e5"/>
<g clip-path="url(#c186)">
<path d="M1819 662.2 L1824.3 660.3 L1829.6 659.7 L1834.9 659.4 L1840.1 659.3 L1845.4 659.5 L1850.7 659.7 L1856 660 L1861.3 660.3 L1866.6 660.7 L1871.9 661 L1877.1 661.4 L1882.4 661.9 L1887.7 662.6 L1893 663.8 L1893 663.8 L1887.7 664.7 L1882.4 665.1 L1877.1 665.4 L1871.9 665.6 L1866.6 665.8 L1861.3 665.9 L1856 666 L1850.7 666 L1845.4 666.1 L1840.1 666 L1834.9 665.7 L1829.6 665.2 L1824.3 664.4 L1819 662.2Z" fill="#2e2e2e" opacity="0.95" filter="url(#bb)"/>
<path d="M1897 664 L1902.6 662.4 L1908.3 661.8 L1913.9 661.5 L1919.6 661.4 L1925.2 661.3 L1930.9 661.3 L1936.5 661.2 L1942.1 661.3 L1947.8 661.3 L1953.4 661.4 L1959.1 661.5 L1964.7 661.8 L1970.4 662.4 L1976 664 L1976 664 L1970.4 665.6 L1964.7 666.2 L1959.1 666.5 L1953.4 666.6 L1947.8 666.7 L1942.1 666.7 L1936.5 666.8 L1930.9 666.7 L1925.2 666.7 L1919.6 666.6 L1913.9 666.5 L1908.3 666.2 L1902.6 665.6 L1897 664Z" fill="#4a4a4a" opacity="0.9" filter="url(#bb)"/>
<path d="M1980 664 L1984.3 662.5 L1988.6 662 L1992.9 661.7 L1997.1 661.6 L2001.4 661.5 L2005.7 661.5 L2010 661.5 L2014.3 661.5 L2018.6 661.5 L2022.9 661.6 L2027.1 661.7 L2031.4 662 L2035.7 662.5 L2040 664 L2040 664 L2035.7 665.5 L2031.4 666 L2027.1 666.3 L2022.9 666.4 L2018.6 666.5 L2014.3 666.5 L2010 666.5 L2005.7 666.5 L2001.4 666.5 L1997.1 666.4 L1992.9 666.3 L1988.6 666 L1984.3 665.5 L1980 664Z" fill="#555" opacity="0.85" filter="url(#bb)"/>
<path d="M2025 663.8 L2027.9 661.9 L2030.9 661.2 L2033.8 660.9 L2036.7 660.7 L2039.6 660.6 L2042.6 660.6 L2045.5 660.5 L2048.4 660.6 L2051.4 660.6 L2054.3 660.7 L2057.2 660.9 L2060.1 661.2 L2063.1 661.9 L2066 663.8 L2066 663.8 L2063.1 665.7 L2060.1 666.4 L2057.2 666.7 L2054.3 666.9 L2051.4 667 L2048.4 667 L2045.5 667 L2042.6 667 L2039.6 667 L2036.7 666.9 L2033.8 666.7 L2030.9 666.4 L2027.9 665.7 L2025 663.8Z" fill="#363636" opacity="0.92" filter="url(#bb)"/>
</g>
<rect x="1810.9" y="634.8" width="268.5" height="56.1" fill="none" stroke="#000" stroke-width="3.1" stroke-linejoin="round"/>
<text x="1413.6" y="400.3" font-size="30.5" text-anchor="middle">H3K4me1</text>
<text x="1413.6" y="467.5" font-size="30.5" text-anchor="middle">H3K27ac</text>
<text x="1413.6" y="535.8" font-size="30.5" text-anchor="middle">H3K4me3</text>
<text x="1413.6" y="603" font-size="30.5" text-anchor="middle">Histone H3</text>
<text x="1413.6" y="671" font-size="30.5" text-anchor="middle">β-actin</text>
<line x1="2087.9" y1="379.4" x2="2107" y2="379.4" stroke="#000" stroke-width="3.1"/>
<text x="2133.8" y="397" font-size="30.5" text-anchor="middle">18</text>
<line x1="2087.9" y1="454" x2="2107" y2="454" stroke="#000" stroke-width="3.1"/>
<text x="2133.8" y="468.3" font-size="30.5" text-anchor="middle">18</text>
<line x1="2087.9" y1="522" x2="2107" y2="522" stroke="#000" stroke-width="3.1"/>
<text x="2133.8" y="533.5" font-size="30.5" text-anchor="middle">18</text>
<line x1="2087.9" y1="589.2" x2="2107" y2="589.2" stroke="#000" stroke-width="3.1"/>
<text x="2133.8" y="608" font-size="30.5" text-anchor="middle">18</text>
<line x1="2087.9" y1="666.8" x2="2107" y2="666.8" stroke="#000" stroke-width="3.1"/>
<text x="2133.8" y="680" font-size="30.5" text-anchor="middle">41</text>
<text transform="translate(33.5 1293.5) rotate(-90)" font-size="30.5" text-anchor="middle">Promoter</text>
<text transform="translate(33.5 1484.5) rotate(-90)" font-size="30.5" text-anchor="middle">Intron</text>
<text transform="translate(33.5 1675) rotate(-90)" font-size="30.5" text-anchor="middle">Intergenic</text>
<rect x="98" y="1234.6" width="255.8" height="136" fill="#fff"/>
<g clip-path="url(#c187)" fill="none" stroke-linejoin="round" stroke-linecap="butt">
<path d="M98 1364.8 C101.8 1364.6 114.4 1364 121 1363.5 C127.5 1363 131.7 1362.9 137.1 1361.9 C142.5 1361 148.5 1359.6 153.3 1357.9 C158.2 1356.1 162.2 1354.2 166.3 1351.4 C170.3 1348.6 174.1 1345.2 177.6 1340.9 C181.1 1336.6 184.4 1331.3 187.3 1325.5 C190.3 1319.7 192.7 1313.1 195.4 1306.1 C198.1 1299 200.8 1290.9 203.5 1283.4 C206.2 1275.8 209.2 1266.7 211.6 1260.7 C214 1254.8 216.2 1250.8 218.1 1247.8 C220 1244.8 221.5 1243.7 223 1242.6 C224.4 1241.5 225.3 1241.2 226.7 1241.3 C228 1241.4 229.2 1241.3 231 1242.9 C232.9 1244.5 235.1 1246.7 237.5 1251 C240 1255.3 242.9 1262.3 245.6 1268.8 C248.3 1275.3 251 1282.9 253.7 1289.9 C256.4 1296.9 259.1 1304.4 261.8 1310.9 C264.5 1317.4 266.9 1323.3 269.9 1328.7 C272.9 1334.1 276.1 1339.2 279.6 1343.3 C283.1 1347.3 286.4 1350.3 291 1353 C295.5 1355.7 300.9 1357.9 307.1 1359.5 C313.3 1361.1 320.4 1361.8 328.2 1362.7 C336 1363.6 349.8 1364.5 354.1 1364.8" stroke="#4758ad" stroke-width="4.6"/>
<path d="M98 1364.6 C101.8 1364.4 114.4 1363.8 121 1363.3 C127.5 1362.8 131.7 1362.6 137.1 1361.7 C142.5 1360.7 148.5 1359.4 153.3 1357.6 C158.2 1355.9 162.2 1354 166.3 1351.1 C170.3 1348.3 174.1 1344.9 177.6 1340.6 C181.1 1336.3 184.4 1331 187.3 1325.2 C190.3 1319.4 192.7 1312.8 195.4 1305.8 C198.1 1298.8 200.8 1290.7 203.5 1283.1 C206.2 1275.6 209.2 1266.4 211.6 1260.5 C214 1254.5 216.2 1250.5 218.1 1247.5 C220 1244.5 221.5 1243.4 223 1242.3 C224.4 1241.3 225.3 1241 226.7 1241 C228 1241.1 229.2 1241 231 1242.7 C232.9 1244.3 235.1 1246.4 237.5 1250.8 C240 1255.1 242.9 1262.1 245.6 1268.6 C248.3 1275 251 1282.6 253.7 1289.6 C256.4 1296.6 259.1 1304.2 261.8 1310.7 C264.5 1317.1 266.9 1323.1 269.9 1328.5 C272.9 1333.9 276.1 1339 279.6 1343 C283.1 1347.1 286.4 1350.1 291 1352.8 C295.5 1355.5 300.9 1357.6 307.1 1359.2 C313.3 1360.9 320.4 1361.6 328.2 1362.5 C336 1363.4 349.8 1364.2 354.1 1364.6" stroke="#d62b3f" stroke-width="4.9"/>
</g>
<path d="M98 1234.6 H353.8 V1370.6 H98" fill="none" stroke="#111" stroke-width="2.2"/>
<line x1="93.8" y1="1233.6" x2="93.8" y2="1375.3" stroke="#111" stroke-width="2.2"/>
<line x1="93.8" y1="1370.6" x2="93.8" y2="1374.8" stroke="#111" stroke-width="2"/>
<line x1="221.7" y1="1370.6" x2="221.7" y2="1374.8" stroke="#111" stroke-width="2"/>
<line x1="353.8" y1="1370.6" x2="353.8" y2="1374.8" stroke="#111" stroke-width="2"/>
<line x1="90.1" y1="1277.8" x2="93.8" y2="1277.8" stroke="#111" stroke-width="2"/>
<line x1="90.1" y1="1323.6" x2="93.8" y2="1323.6" stroke="#111" stroke-width="2"/>
<line x1="90.1" y1="1369" x2="93.8" y2="1369" stroke="#111" stroke-width="2"/>
<text transform="translate(86.3 1290.3) scale(0.845 1)" font-size="25.6" text-anchor="end" fill="#1c1c1c">200</text>
<text transform="translate(86.3 1336.5) scale(0.845 1)" font-size="25.6" text-anchor="end" fill="#1c1c1c">100</text>
<rect x="99" y="1433.9" width="254.7" height="135.8" fill="#fff"/>
<g clip-path="url(#c188)" fill="none" stroke-linejoin="round" stroke-linecap="butt">
<path d="M97.5 1564 C100 1563.9 106.2 1563.8 112.9 1563.5 C119.5 1563.2 127.7 1562.6 137.1 1562.4 C146.6 1562.1 158.7 1562.2 169.5 1562.2 C180.3 1562.2 192.5 1562.5 201.9 1562.5 C211.3 1562.5 220 1562 226.2 1562 C232.4 1562 235.1 1562.3 239.1 1562.5 C243.2 1562.7 245.9 1563.2 250.5 1563.3 C255.1 1563.4 261.8 1563.3 266.7 1563.2 C271.5 1563.1 272.9 1562.6 279.6 1562.7 C286.4 1562.7 294.7 1563.1 307.1 1563.3 C319.6 1563.5 346.3 1563.7 354.1 1563.8" stroke="#d62b3f" stroke-width="4.9"/>
</g>
<rect x="99" y="1433.9" width="254.7" height="135.8" fill="none" stroke="#111" stroke-width="2.2"/>
<line x1="99" y1="1569.7" x2="99" y2="1573.9" stroke="#111" stroke-width="2"/>
<line x1="226.7" y1="1569.7" x2="226.7" y2="1573.9" stroke="#111" stroke-width="2"/>
<line x1="353.7" y1="1569.7" x2="353.7" y2="1573.9" stroke="#111" stroke-width="2"/>
<line x1="95.3" y1="1477.2" x2="99" y2="1477.2" stroke="#111" stroke-width="2"/>
<line x1="95.3" y1="1521.7" x2="99" y2="1521.7" stroke="#111" stroke-width="2"/>
<line x1="95.3" y1="1567" x2="99" y2="1567" stroke="#111" stroke-width="2"/>
<text transform="translate(92 1483.6) scale(0.845 1)" font-size="25.6" text-anchor="end" fill="#1c1c1c">200</text>
<text transform="translate(92 1529.3) scale(0.845 1)" font-size="25.6" text-anchor="end" fill="#1c1c1c">100</text>
<rect x="99" y="1611.4" width="254.7" height="135.6" fill="#fff"/>
<g clip-path="url(#c189)" fill="none" stroke-linejoin="round" stroke-linecap="butt">
<path d="M97.5 1742.8 C104.1 1742.9 122.4 1743.2 137.1 1743.3 C151.8 1743.5 174.9 1743.8 185.7 1743.8 C196.5 1743.8 197 1743.8 201.9 1743.5 C206.8 1743.2 210.8 1742.4 214.9 1741.9 C218.9 1741.4 222.4 1740.6 226.2 1740.6 C230 1740.6 233.5 1741.4 237.5 1741.9 C241.6 1742.4 245.6 1743.2 250.5 1743.5 C255.3 1743.8 258.6 1743.8 266.7 1743.8 C274.8 1743.8 289.6 1743.8 299 1743.6 C308.5 1743.5 314.2 1743.2 323.3 1743 C332.5 1742.8 349 1742.7 354.1 1742.7" stroke="#d62b3f" stroke-width="4.9"/>
</g>
<rect x="99" y="1611.4" width="254.7" height="135.6" fill="none" stroke="#111" stroke-width="2.2"/>
<line x1="99" y1="1747" x2="99" y2="1751.2" stroke="#111" stroke-width="2"/>
<line x1="226.7" y1="1747" x2="226.7" y2="1751.2" stroke="#111" stroke-width="2"/>
<line x1="353.7" y1="1747" x2="353.7" y2="1751.2" stroke="#111" stroke-width="2"/>
<line x1="95.3" y1="1655.6" x2="99" y2="1655.6" stroke="#111" stroke-width="2"/>
<line x1="95.3" y1="1700.9" x2="99" y2="1700.9" stroke="#111" stroke-width="2"/>
<line x1="95.3" y1="1746.7" x2="99" y2="1746.7" stroke="#111" stroke-width="2"/>
<text transform="translate(92 1661.9) scale(0.845 1)" font-size="25.6" text-anchor="end" fill="#1c1c1c">200</text>
<text transform="translate(92 1707.3) scale(0.845 1)" font-size="25.6" text-anchor="end" fill="#1c1c1c">100</text>
<rect x="411.9" y="1240.8" width="255" height="135.6" fill="#fff"/>
<g clip-path="url(#c190)" fill="none" stroke-linejoin="round" stroke-linecap="butt">
<path d="M411.1 1362.5 C414.4 1361.5 425.1 1358.9 431 1356.6 C436.8 1354.2 441.1 1351.8 446.2 1348.5 C451.3 1345.2 456.3 1341.3 461.4 1336.7 C466.5 1332.1 472.1 1325.7 476.7 1320.8 C481.2 1315.9 485.8 1310.2 488.9 1307.2 C491.9 1304.3 493.2 1303.8 495 1302.9 C496.7 1302 498 1301.8 499.5 1301.9 C501 1301.9 502.3 1302.2 504.1 1303.2 C505.9 1304.2 507.1 1304.2 510.2 1307.9 C513.2 1311.7 518.8 1319.7 522.4 1325.6 C525.9 1331.5 529.2 1339.3 531.5 1343.4 C533.9 1347.4 535 1348.7 536.4 1350.1 C537.8 1351.4 538.7 1351.6 539.9 1351.5 C541.1 1351.5 542 1351.4 543.4 1350 C544.8 1348.7 545.9 1347.4 548.3 1343.3 C550.6 1339.2 554.1 1331.1 557.4 1325.4 C560.7 1319.8 565.2 1312.7 568.1 1309.2 C571 1305.8 573 1305.7 575 1304.8 C576.9 1304 578 1304 579.5 1304.1 C581 1304.1 582.2 1304.2 584.1 1305 C586 1305.8 587.3 1305.7 591 1308.8 C594.6 1311.9 601.1 1318.5 606.2 1323.7 C611.3 1328.8 616.3 1335 621.4 1339.7 C626.5 1344.3 631.6 1348.3 636.7 1351.6 C641.7 1354.9 646.7 1357.4 651.9 1359.7 C657.1 1362.1 665.2 1364.7 667.9 1365.7" stroke="#4758ad" stroke-width="4.9"/>
<path d="M411.1 1360.9 C414.4 1359.9 425.1 1357.1 431 1354.5 C436.8 1351.9 441.1 1349.2 446.2 1345.4 C451.3 1341.6 456.3 1337 461.4 1331.7 C466.5 1326.3 472.1 1319 476.7 1313.4 C481.2 1307.8 485.8 1301.5 488.9 1298.1 C491.9 1294.8 493.2 1294.3 495 1293.3 C496.7 1292.3 498 1292 499.5 1292 C501 1292 502.3 1292.3 504.1 1293.3 C505.9 1294.3 507.1 1294.3 510.2 1298.1 C513.2 1302 518.8 1310.3 522.4 1316.4 C525.9 1322.5 529.2 1330.5 531.5 1334.7 C533.9 1338.9 535 1340.2 536.4 1341.6 C537.8 1343 538.7 1343.1 539.9 1343.1 C541.1 1343.1 542 1343 543.4 1341.6 C544.8 1340.2 545.9 1338.9 548.3 1334.7 C550.6 1330.5 554.1 1322.3 557.4 1316.4 C560.7 1310.6 565.2 1303.2 568.1 1299.7 C571 1296.1 573 1296 575 1295.1 C576.9 1294.2 578 1294.3 579.5 1294.3 C581 1294.4 582.2 1294.5 584.1 1295.4 C586 1296.3 587.3 1296.2 591 1299.7 C594.6 1303.2 601.1 1310.6 606.2 1316.4 C611.3 1322.3 616.3 1329.4 621.4 1334.7 C626.5 1340 631.6 1344.6 636.7 1348.4 C641.7 1352.2 646.7 1355 651.9 1357.6 C657.1 1360.2 665.2 1362.9 667.9 1364" stroke="#d62b3f" stroke-width="4.9"/>
</g>
<rect x="411.9" y="1240.8" width="255" height="135.6" fill="none" stroke="#111" stroke-width="2.2"/>
<line x1="411.9" y1="1376.4" x2="411.9" y2="1380.6" stroke="#111" stroke-width="2"/>
<line x1="539.4" y1="1376.4" x2="539.4" y2="1380.6" stroke="#111" stroke-width="2"/>
<line x1="666.9" y1="1376.4" x2="666.9" y2="1380.6" stroke="#111" stroke-width="2"/>
<line x1="408.2" y1="1263.4" x2="411.9" y2="1263.4" stroke="#111" stroke-width="2"/>
<line x1="408.2" y1="1313.8" x2="411.9" y2="1313.8" stroke="#111" stroke-width="2"/>
<line x1="408.2" y1="1364.4" x2="411.9" y2="1364.4" stroke="#111" stroke-width="2"/>
<line x1="409.5" y1="1288.2" x2="411.9" y2="1288.2" stroke="#111" stroke-width="1.7"/>
<line x1="409.5" y1="1339" x2="411.9" y2="1339" stroke="#111" stroke-width="1.7"/>
<text transform="translate(404.3 1274) scale(0.845 1)" font-size="25.6" text-anchor="end" fill="#1c1c1c">30</text>
<text transform="translate(404.3 1322.6) scale(0.845 1)" font-size="25.6" text-anchor="end" fill="#1c1c1c">20</text>
<text transform="translate(404.3 1370.8) scale(0.845 1)" font-size="25.6" text-anchor="end" fill="#1c1c1c">10</text>
<rect x="411.9" y="1431" width="255.2" height="135" fill="#fff"/>
<g clip-path="url(#c191)" fill="none" stroke-linejoin="round" stroke-linecap="butt">
<path d="M411.1 1552.3 C414.4 1551.9 425.1 1550.9 431 1549.9 C436.8 1548.8 441.1 1547.6 446.2 1546 C451.3 1544.5 456.3 1543.3 461.4 1540.7 C466.5 1538.2 472.1 1535 476.7 1530.8 C481.2 1526.6 485 1521.7 488.9 1515.6 C492.7 1509.5 496.5 1501.3 499.5 1494.3 C502.6 1487.2 504.6 1480.3 507.1 1473.4 C509.7 1466.4 512.7 1457.5 514.8 1452.8 C516.8 1448 518 1446.4 519.3 1444.7 C520.7 1442.9 521.6 1442.1 522.8 1442.2 C524.1 1442.4 525.3 1442.8 527 1445.7 C528.7 1448.6 531.4 1455.9 533 1459.6 C534.7 1463.3 535.8 1465.9 536.9 1467.7 C537.9 1469.4 538.6 1470.3 539.4 1470.3 C540.3 1470.3 541.1 1469.5 542.2 1467.7 C543.3 1466 544.3 1463.4 546 1459.8 C547.7 1456.1 550.4 1448.8 552.1 1445.8 C553.7 1442.9 554.6 1442.5 555.9 1442.2 C557.2 1442 558.2 1442.6 559.7 1444.5 C561.2 1446.4 562.9 1448.7 565 1453.7 C567.2 1458.8 570.1 1468 572.7 1474.7 C575.2 1481.5 577.2 1487.4 580.3 1494.3 C583.3 1501.1 587.1 1509.5 591 1515.6 C594.8 1521.7 598.6 1526.6 603.1 1530.8 C607.7 1535 612.8 1538 618.4 1540.7 C624 1543.4 631.1 1545.3 636.7 1546.8 C642.3 1548.3 646.6 1548.8 651.9 1549.9 C657.2 1550.9 665.6 1552.5 668.4 1553.1" stroke="#4758ad" stroke-width="4.9"/>
<path d="M411.1 1552.3 C414.4 1551.9 425.1 1550.9 431 1549.9 C436.8 1548.8 441.1 1547.6 446.2 1546 C451.3 1544.5 456.3 1543.3 461.4 1540.7 C466.5 1538.2 472.1 1535 476.7 1530.8 C481.2 1526.6 485 1521.7 488.9 1515.6 C492.7 1509.5 496.5 1501.3 499.5 1494.2 C502.6 1487.1 504.6 1480.3 507.1 1472.9 C509.7 1465.5 512.7 1455.5 514.8 1450 C516.8 1444.6 518 1442.3 519.3 1440.1 C520.7 1438 521.6 1437 522.8 1437.1 C524.1 1437.2 525.3 1438 527 1440.9 C528.7 1443.8 531.4 1451.2 533 1454.6 C534.7 1458 535.8 1460 536.9 1461.5 C537.9 1463 538.6 1463.8 539.4 1463.8 C540.3 1463.8 541.1 1463 542.2 1461.5 C543.3 1460 544.3 1458 546 1454.6 C547.7 1451.2 550.4 1443.8 552.1 1440.9 C553.7 1438 554.6 1437.2 555.9 1437.1 C557.2 1437 558.2 1437.7 559.7 1440.1 C561.2 1442.6 562.9 1445.9 565 1451.6 C567.2 1457.3 570.1 1467.3 572.7 1474.4 C575.2 1481.5 577.2 1487.4 580.3 1494.2 C583.3 1501.1 587.1 1509.5 591 1515.6 C594.8 1521.7 598.6 1526.6 603.1 1530.8 C607.7 1535 612.8 1538 618.4 1540.7 C624 1543.4 631.1 1545.3 636.7 1546.8 C642.3 1548.3 646.6 1548.8 651.9 1549.9 C657.2 1550.9 665.6 1552.5 668.4 1553.1" stroke="#d62b3f" stroke-width="4.9"/>
</g>
<rect x="411.9" y="1431" width="255.2" height="135" fill="none" stroke="#111" stroke-width="2.2"/>
<line x1="411.9" y1="1566" x2="411.9" y2="1570.2" stroke="#111" stroke-width="2"/>
<line x1="539.5" y1="1566" x2="539.5" y2="1570.2" stroke="#111" stroke-width="2"/>
<line x1="667.1" y1="1566" x2="667.1" y2="1570.2" stroke="#111" stroke-width="2"/>
<line x1="408.2" y1="1453.4" x2="411.9" y2="1453.4" stroke="#111" stroke-width="2"/>
<line x1="408.2" y1="1503.4" x2="411.9" y2="1503.4" stroke="#111" stroke-width="2"/>
<line x1="408.2" y1="1553.7" x2="411.9" y2="1553.7" stroke="#111" stroke-width="2"/>
<line x1="409.5" y1="1478.2" x2="411.9" y2="1478.2" stroke="#111" stroke-width="1.7"/>
<line x1="409.5" y1="1529" x2="411.9" y2="1529" stroke="#111" stroke-width="1.7"/>
<text transform="translate(404.3 1464.8) scale(0.845 1)" font-size="25.6" text-anchor="end" fill="#1c1c1c">30</text>
<text transform="translate(404.3 1513.3) scale(0.845 1)" font-size="25.6" text-anchor="end" fill="#1c1c1c">20</text>
<text transform="translate(404.3 1562.3) scale(0.845 1)" font-size="25.6" text-anchor="end" fill="#1c1c1c">10</text>
<rect x="411.9" y="1609.3" width="255.7" height="136.9" fill="#fff"/>
<g clip-path="url(#c192)" fill="none" stroke-linejoin="round" stroke-linecap="butt">
<path d="M411.1 1738.2 C414.4 1737.8 425.1 1736.4 431 1735.5 C436.8 1734.6 441.1 1734.2 446.2 1732.9 C451.3 1731.6 456.3 1730.2 461.4 1727.6 C466.5 1724.9 472.1 1721.2 476.7 1716.9 C481.2 1712.6 485 1707.8 488.9 1701.7 C492.7 1695.6 496.5 1687.2 499.5 1680.3 C502.6 1673.5 504.6 1667.3 507.1 1660.8 C509.7 1654.4 512.6 1646.4 514.8 1641.5 C516.9 1636.6 518.6 1633.5 520.1 1631.5 C521.6 1629.4 522.3 1628.9 523.6 1629.1 C524.9 1629.4 526 1630.2 527.7 1632.8 C529.4 1635.4 532.2 1641.6 533.8 1644.8 C535.4 1647.9 536.2 1650 537.2 1651.5 C538.1 1653 538.7 1653.6 539.4 1653.6 C540.2 1653.6 540.8 1653 541.7 1651.6 C542.7 1650.1 543.6 1648 545.2 1644.9 C546.8 1641.8 549.7 1635.6 551.3 1633 C553 1630.4 553.9 1629.4 555.1 1629.2 C556.4 1628.9 557.4 1629.3 559 1631.3 C560.5 1633.3 562.3 1636.3 564.3 1641.3 C566.3 1646.2 568.7 1654.4 571.1 1660.9 C573.6 1667.4 575.7 1673.6 578.8 1680.3 C581.8 1687.1 585.6 1695.6 589.4 1701.7 C593.2 1707.8 597 1712.6 601.6 1716.9 C606.2 1721.2 611 1724.7 616.9 1727.6 C622.7 1730.5 630.8 1732.9 636.7 1734.4 C642.5 1736 646.6 1735.9 651.9 1736.7 C657.2 1737.5 665.9 1738.7 668.7 1739.2" stroke="#4758ad" stroke-width="4.9"/>
<path d="M411.1 1738.2 C414.4 1737.8 425.1 1736.4 431 1735.5 C436.8 1734.6 441.1 1734.2 446.2 1732.9 C451.3 1731.6 456.3 1730.2 461.4 1727.6 C466.5 1724.9 472.1 1721.2 476.7 1716.9 C481.2 1712.6 485 1707.8 488.9 1701.7 C492.7 1695.6 496.5 1687.2 499.5 1680.3 C502.6 1673.5 504.6 1667.4 507.1 1660.5 C509.7 1653.7 512.6 1644.8 514.8 1639.2 C516.9 1633.6 518.6 1629.5 520.1 1627 C521.6 1624.5 522.3 1623.8 523.6 1624 C524.9 1624.1 526 1625.2 527.7 1627.8 C529.4 1630.3 532.2 1636.3 533.8 1639.2 C535.4 1642.1 536.2 1643.7 537.2 1645 C538.1 1646.3 538.7 1646.8 539.4 1646.8 C540.2 1646.8 540.8 1646.3 541.7 1645 C542.7 1643.7 543.6 1642.1 545.2 1639.2 C546.8 1636.3 549.7 1630.3 551.3 1627.8 C553 1625.2 553.9 1624.1 555.1 1624 C556.4 1623.8 557.4 1624.5 559 1627 C560.5 1629.5 562.3 1633.6 564.3 1639.2 C566.3 1644.8 568.7 1653.7 571.1 1660.5 C573.6 1667.4 575.7 1673.5 578.8 1680.3 C581.8 1687.2 585.6 1695.6 589.4 1701.7 C593.2 1707.8 597 1712.6 601.6 1716.9 C606.2 1721.2 611 1724.7 616.9 1727.6 C622.7 1730.5 630.8 1732.9 636.7 1734.4 C642.5 1736 646.6 1735.9 651.9 1736.7 C657.2 1737.5 665.9 1738.7 668.7 1739.2" stroke="#d62b3f" stroke-width="4.9"/>
</g>
<rect x="411.9" y="1609.3" width="255.7" height="136.9" fill="none" stroke="#111" stroke-width="2.2"/>
<line x1="411.9" y1="1746.2" x2="411.9" y2="1750.4" stroke="#111" stroke-width="2"/>
<line x1="539.8" y1="1746.2" x2="539.8" y2="1750.4" stroke="#111" stroke-width="2"/>
<line x1="667.6" y1="1746.2" x2="667.6" y2="1750.4" stroke="#111" stroke-width="2"/>
<line x1="408.2" y1="1632.3" x2="411.9" y2="1632.3" stroke="#111" stroke-width="2"/>
<line x1="408.2" y1="1682.6" x2="411.9" y2="1682.6" stroke="#111" stroke-width="2"/>
<line x1="408.2" y1="1733.2" x2="411.9" y2="1733.2" stroke="#111" stroke-width="2"/>
<line x1="409.5" y1="1657.2" x2="411.9" y2="1657.2" stroke="#111" stroke-width="1.7"/>
<line x1="409.5" y1="1707.8" x2="411.9" y2="1707.8" stroke="#111" stroke-width="1.7"/>
<text transform="translate(404.3 1643.3) scale(0.845 1)" font-size="25.6" text-anchor="end" fill="#1c1c1c">30</text>
<text transform="translate(404.3 1691.6) scale(0.845 1)" font-size="25.6" text-anchor="end" fill="#1c1c1c">20</text>
<text transform="translate(404.3 1740.3) scale(0.845 1)" font-size="25.6" text-anchor="end" fill="#1c1c1c">10</text>
<rect x="713.4" y="1236.9" width="257.7" height="137.3" fill="#fff"/>
<g clip-path="url(#c193)" fill="none" stroke-linejoin="round" stroke-linecap="butt">
<path d="M712.6 1367.7 C717.3 1367.5 733.5 1367 741 1366.5 C748.4 1366.1 751.7 1365.8 757.1 1364.9 C762.5 1364 768.5 1362.7 773.3 1360.9 C778.2 1359 782.2 1356.8 786.3 1353.6 C790.3 1350.3 794.1 1346.4 797.6 1341.4 C801.1 1336.4 804.4 1329.8 807.3 1323.7 C810.3 1317.5 812.7 1311.3 815.4 1304.6 C818.1 1297.9 821.1 1289.4 823.5 1283.3 C826 1277.2 827.8 1272.5 830 1268 C832.2 1263.4 834.9 1258.7 836.5 1256.2 C838.1 1253.6 838.7 1253.4 839.7 1252.7 C840.7 1251.9 841.7 1251.7 842.6 1251.7 C843.6 1251.7 844.5 1251.9 845.5 1252.7 C846.5 1253.4 846.9 1253.2 848.6 1256.2 C850.3 1259.2 853.3 1265.1 855.9 1270.9 C858.5 1276.7 861.3 1284.2 864 1290.9 C866.7 1297.5 869.1 1304.1 872.1 1310.9 C875.1 1317.7 878.3 1325.6 881.8 1331.7 C885.3 1337.9 889.1 1343.6 893.1 1347.9 C897.2 1352.2 901.2 1355.1 906.1 1357.6 C911 1360.2 916.1 1361.9 922.3 1363.3 C928.5 1364.6 935 1365 943.3 1365.7 C951.7 1366.4 967.6 1367.3 972.5 1367.7" stroke="#4758ad" stroke-width="4.9"/>
<path d="M712.6 1367.7 C717.3 1367.5 733.5 1367 741 1366.5 C748.4 1366.1 751.7 1365.8 757.1 1364.9 C762.5 1364 768.5 1362.7 773.3 1360.9 C778.2 1359 782.2 1356.8 786.3 1353.6 C790.3 1350.3 794.1 1346.4 797.6 1341.4 C801.1 1336.4 804.4 1329.8 807.3 1323.6 C810.3 1317.4 812.7 1311.2 815.4 1304.2 C818.1 1297.2 821.1 1288.3 823.5 1281.5 C826 1274.8 827.8 1269.1 830 1263.7 C832.2 1258.3 834.9 1252.3 836.5 1249.1 C838.1 1246 838.7 1245.7 839.7 1244.8 C840.7 1243.8 841.7 1243.5 842.6 1243.5 C843.6 1243.5 844.5 1243.8 845.5 1244.8 C846.5 1245.7 846.9 1245.4 848.6 1249.1 C850.3 1252.8 853.3 1260.2 855.9 1267 C858.5 1273.7 861.3 1282.3 864 1289.6 C866.7 1296.9 869.1 1303.7 872.1 1310.7 C875.1 1317.7 878.3 1325.5 881.8 1331.7 C885.3 1337.9 889.1 1343.6 893.1 1347.9 C897.2 1352.2 901.2 1355.1 906.1 1357.6 C911 1360.2 916.1 1361.9 922.3 1363.3 C928.5 1364.6 935 1365 943.3 1365.7 C951.7 1366.4 967.6 1367.3 972.5 1367.7" stroke="#d62b3f" stroke-width="4.9"/>
</g>
<rect x="713.4" y="1236.9" width="257.7" height="137.3" fill="none" stroke="#111" stroke-width="2.2"/>
<line x1="713.4" y1="1374.2" x2="713.4" y2="1378.4" stroke="#111" stroke-width="2"/>
<line x1="842.2" y1="1374.2" x2="842.2" y2="1378.4" stroke="#111" stroke-width="2"/>
<line x1="971.1" y1="1374.2" x2="971.1" y2="1378.4" stroke="#111" stroke-width="2"/>
<line x1="709.7" y1="1250.8" x2="713.4" y2="1250.8" stroke="#111" stroke-width="2"/>
<line x1="709.7" y1="1302.9" x2="713.4" y2="1302.9" stroke="#111" stroke-width="2"/>
<line x1="709.7" y1="1354.4" x2="713.4" y2="1354.4" stroke="#111" stroke-width="2"/>
<line x1="711" y1="1277.2" x2="713.4" y2="1277.2" stroke="#111" stroke-width="1.7"/>
<line x1="711" y1="1328.8" x2="713.4" y2="1328.8" stroke="#111" stroke-width="1.7"/>
<text transform="translate(707 1261.3) scale(0.845 1)" font-size="25.6" text-anchor="end" fill="#1c1c1c">100</text>
<text transform="translate(707 1313.8) scale(0.845 1)" font-size="25.6" text-anchor="end" fill="#1c1c1c">60</text>
<text transform="translate(707 1365.3) scale(0.845 1)" font-size="25.6" text-anchor="end" fill="#1c1c1c">20</text>
<rect x="721.3" y="1432.1" width="257.3" height="137.8" fill="#fff"/>
<g clip-path="url(#c194)" fill="none" stroke-linejoin="round" stroke-linecap="butt">
<path d="M719.1 1561.5 C725.4 1561.1 745.4 1559.6 757.1 1558.6 C768.9 1557.7 781.4 1556.9 789.5 1555.7 C797.6 1554.6 801.4 1553.2 805.7 1551.7 C810 1550.2 812.5 1548.7 815.4 1546.8 C818.4 1544.9 821.1 1542.2 823.5 1540.1 C826 1537.9 828.1 1535.3 830 1533.8 C831.9 1532.3 833.4 1531.5 834.9 1530.8 C836.3 1530.2 837.3 1529.7 838.9 1529.8 C840.5 1529.9 842.7 1530.8 844.6 1531.3 C846.5 1531.8 848.3 1532.7 850.2 1532.7 C852.1 1532.7 854 1531.8 855.9 1531.3 C857.8 1530.8 859.8 1529.7 861.6 1529.8 C863.3 1529.9 864.7 1530.5 866.4 1531.7 C868.2 1532.9 869.8 1535 872.1 1537.2 C874.4 1539.5 877.2 1542.7 880.2 1545.1 C883.2 1547.5 886.1 1549.9 889.9 1551.7 C893.7 1553.4 898 1554.6 902.9 1555.7 C907.7 1556.9 912.3 1557.9 919 1558.6 C925.8 1559.4 933.2 1559.8 943.3 1560.2 C953.5 1560.7 973.7 1561.3 979.8 1561.5" stroke="#4758ad" stroke-width="4.9"/>
<path d="M719.1 1561.5 C725.4 1561.1 745.4 1559.6 757.1 1558.6 C768.9 1557.7 781.4 1556.9 789.5 1555.7 C797.6 1554.6 801.4 1553.2 805.7 1551.7 C810 1550.2 812.5 1548.7 815.4 1546.8 C818.4 1544.9 821.1 1542.4 823.5 1540.3 C826 1538.3 828.1 1536 830 1534.7 C831.9 1533.3 833.4 1532.8 834.9 1532.2 C836.3 1531.7 837.3 1531.3 838.9 1531.4 C840.5 1531.5 842.7 1532.3 844.6 1532.7 C846.5 1533.1 848.3 1533.9 850.2 1533.9 C852.1 1533.9 854 1533.1 855.9 1532.7 C857.8 1532.3 859.8 1531.4 861.6 1531.4 C863.3 1531.5 864.7 1532 866.4 1533 C868.2 1534.1 869.8 1535.9 872.1 1537.9 C874.4 1539.9 877.2 1542.9 880.2 1545.2 C883.2 1547.5 886.1 1549.9 889.9 1551.7 C893.7 1553.4 898 1554.6 902.9 1555.7 C907.7 1556.9 912.3 1557.9 919 1558.6 C925.8 1559.4 933.2 1559.8 943.3 1560.2 C953.5 1560.7 973.7 1561.3 979.8 1561.5" stroke="#d62b3f" stroke-width="4.9"/>
</g>
<rect x="721.3" y="1432.1" width="257.3" height="137.8" fill="none" stroke="#111" stroke-width="2.2"/>
<line x1="721.3" y1="1569.9" x2="721.3" y2="1574.1" stroke="#111" stroke-width="2"/>
<line x1="850" y1="1569.9" x2="850" y2="1574.1" stroke="#111" stroke-width="2"/>
<line x1="978.6" y1="1569.9" x2="978.6" y2="1574.1" stroke="#111" stroke-width="2"/>
<line x1="717.6" y1="1446.4" x2="721.3" y2="1446.4" stroke="#111" stroke-width="2"/>
<line x1="717.6" y1="1498.2" x2="721.3" y2="1498.2" stroke="#111" stroke-width="2"/>
<line x1="717.6" y1="1549.2" x2="721.3" y2="1549.2" stroke="#111" stroke-width="2"/>
<line x1="718.9" y1="1472.3" x2="721.3" y2="1472.3" stroke="#111" stroke-width="1.7"/>
<line x1="718.9" y1="1524.1" x2="721.3" y2="1524.1" stroke="#111" stroke-width="1.7"/>
<text transform="translate(712.6 1458.9) scale(0.845 1)" font-size="25.6" text-anchor="end" fill="#1c1c1c">100</text>
<text transform="translate(712.6 1513.1) scale(0.845 1)" font-size="25.6" text-anchor="end" fill="#1c1c1c">60</text>
<text transform="translate(712.6 1564.9) scale(0.845 1)" font-size="25.6" text-anchor="end" fill="#1c1c1c">20</text>
<rect x="721.3" y="1607.8" width="257.3" height="137.6" fill="#fff"/>
<g clip-path="url(#c195)" fill="none" stroke-linejoin="round" stroke-linecap="butt">
<path d="M719.1 1740.2 C728.1 1740.1 761.6 1739.8 773.3 1739.3 C785.1 1738.8 784.7 1738.2 789.5 1737.3 C794.4 1736.5 798.4 1735.6 802.5 1734.1 C806.5 1732.6 810.3 1730.7 813.8 1728.4 C817.3 1726.1 820.6 1722.9 823.5 1720.2 C826.5 1717.5 829.3 1714.2 831.6 1712.2 C833.9 1710.3 835.7 1709.4 837.3 1708.7 C838.9 1707.9 839.2 1707.8 841.3 1707.8 C843.5 1707.8 847.1 1708.6 850.2 1708.6 C853.3 1708.6 857.5 1707.7 860 1707.8 C862.4 1707.9 863.1 1708.1 864.8 1709.3 C866.6 1710.4 868.2 1712.4 870.5 1714.8 C872.8 1717.2 875.9 1720.9 878.6 1723.5 C881.3 1726 883.4 1728.1 886.7 1730 C889.9 1731.9 893.7 1733.6 898 1734.9 C902.3 1736.2 906.4 1736.9 912.6 1737.7 C918.8 1738.4 924 1738.8 935.2 1739.3 C946.4 1739.7 972.3 1740.1 979.8 1740.2" stroke="#4758ad" stroke-width="4.9"/>
<path d="M719.1 1740.2 C728.1 1740.1 761.6 1739.8 773.3 1739.3 C785.1 1738.8 784.7 1738.2 789.5 1737.3 C794.4 1736.5 798.4 1735.6 802.5 1734.1 C806.5 1732.6 810.3 1730.7 813.8 1728.4 C817.3 1726.1 820.6 1722.9 823.5 1720.3 C826.5 1717.8 829.3 1714.7 831.6 1713 C833.9 1711.3 835.7 1710.7 837.3 1710.1 C838.9 1709.5 839.2 1709.5 841.3 1709.5 C843.5 1709.5 847.1 1710.1 850.2 1710.1 C853.3 1710.1 857.5 1709.4 860 1709.5 C862.4 1709.6 863.1 1709.6 864.8 1710.6 C866.6 1711.6 868.2 1713.3 870.5 1715.5 C872.8 1717.6 875.9 1721.1 878.6 1723.6 C881.3 1726 883.4 1728.2 886.7 1730 C889.9 1731.9 893.7 1733.6 898 1734.9 C902.3 1736.2 906.4 1736.9 912.6 1737.7 C918.8 1738.4 924 1738.8 935.2 1739.3 C946.4 1739.7 972.3 1740.1 979.8 1740.2" stroke="#d62b3f" stroke-width="4.9"/>
</g>
<rect x="721.3" y="1607.8" width="257.3" height="137.6" fill="none" stroke="#111" stroke-width="2.2"/>
<line x1="721.3" y1="1745.4" x2="721.3" y2="1749.6" stroke="#111" stroke-width="2"/>
<line x1="850" y1="1745.4" x2="850" y2="1749.6" stroke="#111" stroke-width="2"/>
<line x1="978.6" y1="1745.4" x2="978.6" y2="1749.6" stroke="#111" stroke-width="2"/>
<line x1="717.6" y1="1622.4" x2="721.3" y2="1622.4" stroke="#111" stroke-width="2"/>
<line x1="717.6" y1="1674.2" x2="721.3" y2="1674.2" stroke="#111" stroke-width="2"/>
<line x1="717.6" y1="1725.2" x2="721.3" y2="1725.2" stroke="#111" stroke-width="2"/>
<line x1="718.9" y1="1648" x2="721.3" y2="1648" stroke="#111" stroke-width="1.7"/>
<line x1="718.9" y1="1700.1" x2="721.3" y2="1700.1" stroke="#111" stroke-width="1.7"/>
<text transform="translate(715 1632) scale(0.845 1)" font-size="25.6" text-anchor="end" fill="#1c1c1c">100</text>
<text transform="translate(715 1683.4) scale(0.845 1)" font-size="25.6" text-anchor="end" fill="#1c1c1c">60</text>
<text transform="translate(715 1737.2) scale(0.845 1)" font-size="25.6" text-anchor="end" fill="#1c1c1c">20</text>
<g clip-path="url(#c196)">
<text x="1024.6" y="1277.2" font-size="30" text-anchor="end" fill="#0c0c0c" style="stroke:#0c0c0c;">150</text>
</g>
<g clip-path="url(#c197)">
<text x="1031" y="1319" font-size="30" text-anchor="end" fill="#0c0c0c" style="stroke:#0c0c0c;">100</text>
</g>
<g clip-path="url(#c198)">
<text x="1018.8" y="1357.8" font-size="30" text-anchor="end" fill="#0c0c0c" style="stroke:#0c0c0c;">50</text>
</g>
<line x1="1019.9" y1="1343.8" x2="1026.4" y2="1343.8" stroke="#222" stroke-width="2.2"/>
<rect x="1026.4" y="1249.6" width="281.2" height="133.5" fill="#fff"/>
<g clip-path="url(#c199)" fill="none" stroke-linejoin="round" stroke-linecap="butt" filter="url(#soft)">
<path d="M1026.7 1375.2 C1034.6 1375 1062.2 1374.6 1074.3 1373.6 C1086.4 1372.5 1091.8 1371.8 1099.3 1368.8 C1106.7 1365.8 1113.4 1361.5 1119 1355.7 C1124.7 1350 1129.3 1341.4 1133.3 1334.3 C1137.4 1327.1 1139.9 1321 1143.3 1312.8 C1146.7 1304.7 1150.7 1293.7 1153.8 1285.5 C1156.9 1277.2 1159.6 1268.4 1161.9 1263.4 C1164.2 1258.3 1165.7 1254.9 1167.6 1254.9 C1169.6 1255 1171.2 1258.1 1173.6 1263.6 C1175.9 1269.2 1178.6 1279.3 1181.7 1287.9 C1184.8 1296.5 1188.7 1307.1 1192.1 1315.2 C1195.6 1323.3 1198.2 1329.9 1202.1 1336.7 C1206.1 1343.4 1210.4 1350.4 1216 1355.7 C1221.5 1361.1 1228 1365.8 1235.7 1368.8 C1243.5 1371.8 1250.3 1372.5 1262.4 1373.6 C1274.4 1374.6 1300.5 1375 1308.1 1375.2" stroke="#4f69ad" stroke-width="4.4"/>
<path d="M1026.7 1375.2 C1034.6 1375 1062.2 1374.6 1074.3 1373.6 C1086.4 1372.5 1091.8 1371.8 1099.3 1368.8 C1106.7 1365.8 1113.4 1361.5 1119 1355.7 C1124.7 1350 1129.3 1341.4 1133.3 1334.3 C1137.4 1327.1 1139.9 1320.8 1143.3 1312.9 C1146.7 1304.9 1150.7 1293.6 1153.8 1286.7 C1156.9 1279.7 1159.6 1274.6 1161.9 1271.2 C1164.2 1267.8 1165.7 1266.4 1167.6 1266.4 C1169.6 1266.4 1171.2 1267.4 1173.6 1271.2 C1175.9 1275 1178.6 1281.7 1181.7 1289 C1184.8 1296.4 1188.7 1307.3 1192.1 1315.2 C1195.6 1323.2 1198.2 1329.9 1202.1 1336.7 C1206.1 1343.4 1210.4 1350.4 1216 1355.7 C1221.5 1361.1 1228 1365.8 1235.7 1368.8 C1243.5 1371.8 1250.3 1372.5 1262.4 1373.6 C1274.4 1374.6 1300.5 1375 1308.1 1375.2" stroke="#f6bccb" stroke-width="9" opacity="0.6"/>
<path d="M1026.7 1375.2 C1034.6 1375 1062.2 1374.6 1074.3 1373.6 C1086.4 1372.5 1091.8 1371.8 1099.3 1368.8 C1106.7 1365.8 1113.4 1361.5 1119 1355.7 C1124.7 1350 1129.3 1341.4 1133.3 1334.3 C1137.4 1327.1 1139.9 1320.8 1143.3 1312.9 C1146.7 1304.9 1150.7 1293.6 1153.8 1286.7 C1156.9 1279.7 1159.6 1274.6 1161.9 1271.2 C1164.2 1267.8 1165.7 1266.4 1167.6 1266.4 C1169.6 1266.4 1171.2 1267.4 1173.6 1271.2 C1175.9 1275 1178.6 1281.7 1181.7 1289 C1184.8 1296.4 1188.7 1307.3 1192.1 1315.2 C1195.6 1323.2 1198.2 1329.9 1202.1 1336.7 C1206.1 1343.4 1210.4 1350.4 1216 1355.7 C1221.5 1361.1 1228 1365.8 1235.7 1368.8 C1243.5 1371.8 1250.3 1372.5 1262.4 1373.6 C1274.4 1374.6 1300.5 1375 1308.1 1375.2" stroke="#b4405c" stroke-width="4.8"/>
<path d="M1026.7 1375.2 C1034.6 1375 1062.2 1374.6 1074.3 1373.6 C1086.4 1372.5 1091.8 1371.8 1099.3 1368.8 C1106.7 1365.8 1113.4 1361.5 1119 1355.7 C1124.7 1350 1129.3 1341.4 1133.3 1334.3 C1137.4 1327.1 1139.9 1320.8 1143.3 1312.9 C1146.7 1304.9 1150.7 1293.6 1153.8 1286.7 C1156.9 1279.7 1159.6 1274.6 1161.9 1271.2 C1164.2 1267.8 1165.7 1266.4 1167.6 1266.4 C1169.6 1266.4 1171.2 1267.4 1173.6 1271.2 C1175.9 1275 1178.6 1281.7 1181.7 1289 C1184.8 1296.4 1188.7 1307.3 1192.1 1315.2 C1195.6 1323.2 1198.2 1329.9 1202.1 1336.7 C1206.1 1343.4 1210.4 1350.4 1216 1355.7 C1221.5 1361.1 1228 1365.8 1235.7 1368.8 C1243.5 1371.8 1250.3 1372.5 1262.4 1373.6 C1274.4 1374.6 1300.5 1375 1308.1 1375.2" stroke="#7c4f7e" stroke-width="2" opacity="0.5"/>
</g>
<rect x="1026.4" y="1249.6" width="281.2" height="133.5" fill="none" stroke="#1f1f1f" stroke-width="3.6"/>
<line x1="1026.4" y1="1383.1" x2="1026.4" y2="1387.6" stroke="#1f1f1f" stroke-width="3.2"/>
<line x1="1167.5" y1="1383.1" x2="1167.5" y2="1387.6" stroke="#1f1f1f" stroke-width="3.2"/>
<line x1="1307.6" y1="1383.1" x2="1307.6" y2="1387.6" stroke="#1f1f1f" stroke-width="3.2"/>
<g clip-path="url(#c200)">
<text x="1023.5" y="1462" font-size="30" text-anchor="end" fill="#0c0c0c" style="stroke:#0c0c0c;">150</text>
</g>
<g clip-path="url(#c201)">
<text x="1024.4" y="1503" font-size="30" text-anchor="end" fill="#0c0c0c" style="stroke:#0c0c0c;">100</text>
</g>
<g clip-path="url(#c202)">
<text x="1018.5" y="1542.8" font-size="30" text-anchor="end" fill="#0c0c0c" style="stroke:#0c0c0c;">50</text>
</g>
<line x1="1019.5" y1="1492.3" x2="1026" y2="1492.3" stroke="#222" stroke-width="2.2"/>
<line x1="1019.5" y1="1530" x2="1026" y2="1530" stroke="#222" stroke-width="2.2"/>
<rect x="1026" y="1439.4" width="281" height="130.1" fill="#fff"/>
<g clip-path="url(#c203)" fill="none" stroke-linejoin="round" stroke-linecap="butt" filter="url(#soft)">
<path d="M1026 1564.6 C1041.2 1564.5 1099.2 1564.9 1117.1 1564.2 C1135.1 1563.5 1129 1562.4 1133.9 1560.4 C1138.8 1558.4 1143 1555.1 1146.5 1552 C1150 1548.9 1152.4 1545.2 1154.9 1541.5 C1157.3 1537.9 1159.5 1532.9 1161.1 1530 C1162.8 1527.1 1163.9 1525.4 1164.9 1524.1 C1166 1522.9 1166.6 1522.7 1167.4 1522.7 C1168.3 1522.7 1168.9 1522.9 1169.9 1524.1 C1171 1525.4 1172 1527.1 1173.7 1530 C1175.4 1532.9 1177.6 1537.9 1180 1541.5 C1182.4 1545.2 1184.9 1548.9 1188.4 1552 C1191.9 1555.1 1196.1 1558.4 1201 1560.4 C1205.8 1562.4 1199.9 1563.5 1217.7 1564.2 C1235.5 1564.9 1292.8 1564.5 1307.8 1564.6" stroke="#f6bccb" stroke-width="9" opacity="0.6"/>
<path d="M1026 1564.6 C1041.2 1564.5 1099.2 1564.9 1117.1 1564.2 C1135.1 1563.5 1129 1562.4 1133.9 1560.4 C1138.8 1558.4 1143 1555.1 1146.5 1552 C1150 1548.9 1152.4 1545.2 1154.9 1541.5 C1157.3 1537.9 1159.5 1532.9 1161.1 1530 C1162.8 1527.1 1163.9 1525.4 1164.9 1524.1 C1166 1522.9 1166.6 1522.7 1167.4 1522.7 C1168.3 1522.7 1168.9 1522.9 1169.9 1524.1 C1171 1525.4 1172 1527.1 1173.7 1530 C1175.4 1532.9 1177.6 1537.9 1180 1541.5 C1182.4 1545.2 1184.9 1548.9 1188.4 1552 C1191.9 1555.1 1196.1 1558.4 1201 1560.4 C1205.8 1562.4 1199.9 1563.5 1217.7 1564.2 C1235.5 1564.9 1292.8 1564.5 1307.8 1564.6" stroke="#b4405c" stroke-width="4.8"/>
<path d="M1026 1564.6 C1041.2 1564.5 1099.2 1564.9 1117.1 1564.2 C1135.1 1563.5 1129 1562.4 1133.9 1560.4 C1138.8 1558.4 1143 1555.1 1146.5 1552 C1150 1548.9 1152.4 1545.2 1154.9 1541.5 C1157.3 1537.9 1159.5 1532.9 1161.1 1530 C1162.8 1527.1 1163.9 1525.4 1164.9 1524.1 C1166 1522.9 1166.6 1522.7 1167.4 1522.7 C1168.3 1522.7 1168.9 1522.9 1169.9 1524.1 C1171 1525.4 1172 1527.1 1173.7 1530 C1175.4 1532.9 1177.6 1537.9 1180 1541.5 C1182.4 1545.2 1184.9 1548.9 1188.4 1552 C1191.9 1555.1 1196.1 1558.4 1201 1560.4 C1205.8 1562.4 1199.9 1563.5 1217.7 1564.2 C1235.5 1564.9 1292.8 1564.5 1307.8 1564.6" stroke="#7c4f7e" stroke-width="2" opacity="0.5"/>
</g>
<rect x="1026" y="1439.4" width="281" height="130.1" fill="none" stroke="#1f1f1f" stroke-width="3.6"/>
<line x1="1026" y1="1569.5" x2="1026" y2="1574" stroke="#1f1f1f" stroke-width="3.2"/>
<line x1="1167" y1="1569.5" x2="1167" y2="1574" stroke="#1f1f1f" stroke-width="3.2"/>
<line x1="1307" y1="1569.5" x2="1307" y2="1574" stroke="#1f1f1f" stroke-width="3.2"/>
<g clip-path="url(#c204)">
<text x="1027" y="1640.5" font-size="30" text-anchor="end" fill="#0c0c0c" style="stroke:#0c0c0c;">150</text>
</g>
<g clip-path="url(#c205)">
<text x="1026.5" y="1682.4" font-size="30" text-anchor="end" fill="#0c0c0c" style="stroke:#0c0c0c;">100</text>
</g>
<g clip-path="url(#c206)">
<text x="1021.5" y="1721.2" font-size="30" text-anchor="end" fill="#0c0c0c" style="stroke:#0c0c0c;">50</text>
</g>
<line x1="1019.5" y1="1625.6" x2="1026" y2="1625.6" stroke="#222" stroke-width="2.2"/>
<line x1="1019.5" y1="1664.4" x2="1026" y2="1664.4" stroke="#222" stroke-width="2.2"/>
<line x1="1019.5" y1="1703.1" x2="1026" y2="1703.1" stroke="#222" stroke-width="2.2"/>
<rect x="1026" y="1608.1" width="284.5" height="132.7" fill="#fff"/>
<g clip-path="url(#c207)" fill="none" stroke-linejoin="round" stroke-linecap="butt" filter="url(#soft)">
<path d="M1026 1736.7 C1041.2 1736.6 1099.2 1736.9 1117.1 1736.2 C1135.1 1735.5 1129 1734.5 1133.9 1732.5 C1138.8 1730.5 1143 1727.2 1146.5 1724.1 C1150 1721 1152.3 1717.6 1154.9 1713.6 C1157.4 1709.6 1159.8 1703.6 1161.6 1700 C1163.3 1696.4 1164.5 1693.8 1165.5 1692.2 C1166.6 1690.7 1167.2 1690.6 1168.1 1690.6 C1168.9 1690.6 1169.5 1690.7 1170.6 1692.2 C1171.7 1693.8 1173 1696.4 1174.8 1700 C1176.5 1703.6 1178.6 1709.6 1181 1713.6 C1183.5 1717.6 1185.9 1721 1189.4 1724.1 C1192.9 1727.2 1197.1 1730.5 1202 1732.5 C1206.9 1734.5 1200.6 1735.5 1218.8 1736.2 C1236.9 1736.9 1295.6 1736.6 1311 1736.7" stroke="#f6bccb" stroke-width="9" opacity="0.6"/>
<path d="M1026 1736.7 C1041.2 1736.6 1099.2 1736.9 1117.1 1736.2 C1135.1 1735.5 1129 1734.5 1133.9 1732.5 C1138.8 1730.5 1143 1727.2 1146.5 1724.1 C1150 1721 1152.3 1717.6 1154.9 1713.6 C1157.4 1709.6 1159.8 1703.6 1161.6 1700 C1163.3 1696.4 1164.5 1693.8 1165.5 1692.2 C1166.6 1690.7 1167.2 1690.6 1168.1 1690.6 C1168.9 1690.6 1169.5 1690.7 1170.6 1692.2 C1171.7 1693.8 1173 1696.4 1174.8 1700 C1176.5 1703.6 1178.6 1709.6 1181 1713.6 C1183.5 1717.6 1185.9 1721 1189.4 1724.1 C1192.9 1727.2 1197.1 1730.5 1202 1732.5 C1206.9 1734.5 1200.6 1735.5 1218.8 1736.2 C1236.9 1736.9 1295.6 1736.6 1311 1736.7" stroke="#b4405c" stroke-width="4.8"/>
<path d="M1026 1736.7 C1041.2 1736.6 1099.2 1736.9 1117.1 1736.2 C1135.1 1735.5 1129 1734.5 1133.9 1732.5 C1138.8 1730.5 1143 1727.2 1146.5 1724.1 C1150 1721 1152.3 1717.6 1154.9 1713.6 C1157.4 1709.6 1159.8 1703.6 1161.6 1700 C1163.3 1696.4 1164.5 1693.8 1165.5 1692.2 C1166.6 1690.7 1167.2 1690.6 1168.1 1690.6 C1168.9 1690.6 1169.5 1690.7 1170.6 1692.2 C1171.7 1693.8 1173 1696.4 1174.8 1700 C1176.5 1703.6 1178.6 1709.6 1181 1713.6 C1183.5 1717.6 1185.9 1721 1189.4 1724.1 C1192.9 1727.2 1197.1 1730.5 1202 1732.5 C1206.9 1734.5 1200.6 1735.5 1218.8 1736.2 C1236.9 1736.9 1295.6 1736.6 1311 1736.7" stroke="#7c4f7e" stroke-width="2" opacity="0.5"/>
</g>
<rect x="1026" y="1608.1" width="284.5" height="132.7" fill="none" stroke="#1f1f1f" stroke-width="3.6"/>
<line x1="1026" y1="1740.8" x2="1026" y2="1745.3" stroke="#1f1f1f" stroke-width="3.2"/>
<line x1="1167" y1="1740.8" x2="1167" y2="1745.3" stroke="#1f1f1f" stroke-width="3.2"/>
<line x1="1310.5" y1="1740.8" x2="1310.5" y2="1745.3" stroke="#1f1f1f" stroke-width="3.2"/>
<rect x="1026" y="1563.5" width="281" height="4.5" fill="#9a5a6c" opacity="0.55" filter="url(#soft)"/>
<rect x="1026" y="1735" width="284.5" height="4.5" fill="#b0566c" opacity="0.5" filter="url(#soft)"/>
<text x="1326.3" y="1269.3" font-size="30.5" fill="#223f86" style="stroke:#223f86;">sgNT</text>
<text x="1327.6" y="1315.6" font-size="30.5" fill="#d3161c" style="stroke:#d3161c;">sgMLL3</text>
<rect x="1271.5" y="1235.3" width="7" height="1.6" fill="#444"/>
<text x="91" y="1797" font-size="30.5" text-anchor="middle">-3.0</text>
<text x="227.3" y="1797" font-size="30.5" text-anchor="middle">Center</text>
<text x="349.5" y="1797" font-size="30.5" text-anchor="middle">+3.0</text>
<text x="419.8" y="1797" font-size="30.5" text-anchor="middle">-3.0</text>
<text x="542.5" y="1797" font-size="30.5" text-anchor="middle">Center</text>
<text x="651" y="1797" font-size="30.5" text-anchor="middle">+3.0</text>
<text x="721.8" y="1797" font-size="30.5" text-anchor="middle">-3.0</text>
<text x="850" y="1797" font-size="30.5" text-anchor="middle">Center</text>
<text x="963" y="1797" font-size="30.5" text-anchor="middle">+3.0</text>
<text x="1037.5" y="1793.2" font-size="30.5" text-anchor="middle">-3.0</text>
<text x="1166.4" y="1793.2" font-size="30.5" text-anchor="middle">Center</text>
<text x="1296.8" y="1793.2" font-size="30.5" text-anchor="middle">+3.0</text>
<text x="1360.7" y="1793.2" font-size="30.5" text-anchor="middle">kb</text>
</svg>
</body></html>
